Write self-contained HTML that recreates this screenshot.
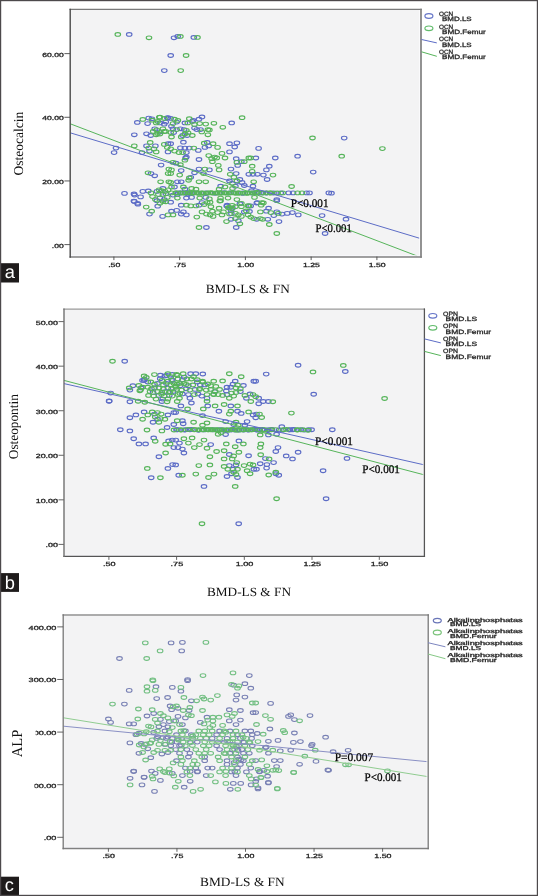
<!DOCTYPE html>
<html><head><meta charset="utf-8"><style>
html,body{margin:0;padding:0;background:#fff;width:538px;height:896px;overflow:hidden;}
svg{display:block;will-change:transform;} text{text-rendering:geometricPrecision;}
</style></head><body>
<svg width="538" height="896" viewBox="0 0 538 896"><g><rect width="538" height="896" fill="#fff"/><rect x="70" y="9.6" width="350.6" height="247.00000000000003" fill="#f3f3f4"/>
<clipPath id="ca"><rect x="70" y="9.6" width="350.6" height="247.00000000000003"/></clipPath>
<g clip-path="url(#ca)">
<ellipse cx="129.2" cy="34.4" rx="2.75" ry="1.85" fill="none" stroke="#5c6cc6" stroke-width="1.15"/>
<ellipse cx="174.0" cy="37.8" rx="2.75" ry="1.85" fill="none" stroke="#5c6cc6" stroke-width="1.15"/>
<ellipse cx="177.7" cy="36.4" rx="2.75" ry="1.85" fill="none" stroke="#5c6cc6" stroke-width="1.15"/>
<ellipse cx="193.8" cy="37.4" rx="2.75" ry="1.85" fill="none" stroke="#5c6cc6" stroke-width="1.15"/>
<ellipse cx="170.7" cy="55.5" rx="2.75" ry="1.85" fill="none" stroke="#5c6cc6" stroke-width="1.15"/>
<ellipse cx="164.3" cy="70.6" rx="2.75" ry="1.85" fill="none" stroke="#5c6cc6" stroke-width="1.15"/>
<ellipse cx="137.3" cy="122.4" rx="2.75" ry="1.85" fill="none" stroke="#5c6cc6" stroke-width="1.15"/>
<ellipse cx="148.7" cy="118.1" rx="2.75" ry="1.85" fill="none" stroke="#5c6cc6" stroke-width="1.15"/>
<ellipse cx="168.0" cy="117.7" rx="2.75" ry="1.85" fill="none" stroke="#5c6cc6" stroke-width="1.15"/>
<ellipse cx="159.9" cy="122.9" rx="2.75" ry="1.85" fill="none" stroke="#5c6cc6" stroke-width="1.15"/>
<ellipse cx="165.8" cy="122.1" rx="2.75" ry="1.85" fill="none" stroke="#5c6cc6" stroke-width="1.15"/>
<ellipse cx="154.7" cy="128.8" rx="2.75" ry="1.85" fill="none" stroke="#5c6cc6" stroke-width="1.15"/>
<ellipse cx="134.3" cy="134.8" rx="2.75" ry="1.85" fill="none" stroke="#5c6cc6" stroke-width="1.15"/>
<ellipse cx="150.7" cy="135.5" rx="2.75" ry="1.85" fill="none" stroke="#5c6cc6" stroke-width="1.15"/>
<ellipse cx="116.0" cy="148.1" rx="2.75" ry="1.85" fill="none" stroke="#5c6cc6" stroke-width="1.15"/>
<ellipse cx="114.1" cy="152.6" rx="2.75" ry="1.85" fill="none" stroke="#5c6cc6" stroke-width="1.15"/>
<ellipse cx="146.5" cy="145.9" rx="2.75" ry="1.85" fill="none" stroke="#5c6cc6" stroke-width="1.15"/>
<ellipse cx="155.4" cy="145.9" rx="2.75" ry="1.85" fill="none" stroke="#5c6cc6" stroke-width="1.15"/>
<ellipse cx="149.5" cy="151.1" rx="2.75" ry="1.85" fill="none" stroke="#5c6cc6" stroke-width="1.15"/>
<ellipse cx="142.0" cy="152.6" rx="2.75" ry="1.85" fill="none" stroke="#5c6cc6" stroke-width="1.15"/>
<ellipse cx="168.0" cy="143.7" rx="2.75" ry="1.85" fill="none" stroke="#5c6cc6" stroke-width="1.15"/>
<ellipse cx="168.0" cy="151.9" rx="2.75" ry="1.85" fill="none" stroke="#5c6cc6" stroke-width="1.15"/>
<ellipse cx="170.7" cy="118.4" rx="2.75" ry="1.85" fill="none" stroke="#5c6cc6" stroke-width="1.15"/>
<ellipse cx="176.7" cy="122.1" rx="2.75" ry="1.85" fill="none" stroke="#5c6cc6" stroke-width="1.15"/>
<ellipse cx="199.0" cy="119.2" rx="2.75" ry="1.85" fill="none" stroke="#5c6cc6" stroke-width="1.15"/>
<ellipse cx="202.0" cy="116.9" rx="2.75" ry="1.85" fill="none" stroke="#5c6cc6" stroke-width="1.15"/>
<ellipse cx="184.9" cy="122.9" rx="2.75" ry="1.85" fill="none" stroke="#5c6cc6" stroke-width="1.15"/>
<ellipse cx="192.3" cy="121.4" rx="2.75" ry="1.85" fill="none" stroke="#5c6cc6" stroke-width="1.15"/>
<ellipse cx="231.7" cy="122.9" rx="2.75" ry="1.85" fill="none" stroke="#5c6cc6" stroke-width="1.15"/>
<ellipse cx="173.0" cy="128.8" rx="2.75" ry="1.85" fill="none" stroke="#5c6cc6" stroke-width="1.15"/>
<ellipse cx="180.4" cy="128.8" rx="2.75" ry="1.85" fill="none" stroke="#5c6cc6" stroke-width="1.15"/>
<ellipse cx="184.1" cy="129.6" rx="2.75" ry="1.85" fill="none" stroke="#5c6cc6" stroke-width="1.15"/>
<ellipse cx="194.5" cy="128.1" rx="2.75" ry="1.85" fill="none" stroke="#5c6cc6" stroke-width="1.15"/>
<ellipse cx="196.8" cy="129.6" rx="2.75" ry="1.85" fill="none" stroke="#5c6cc6" stroke-width="1.15"/>
<ellipse cx="200.5" cy="129.6" rx="2.75" ry="1.85" fill="none" stroke="#5c6cc6" stroke-width="1.15"/>
<ellipse cx="173.7" cy="132.5" rx="2.75" ry="1.85" fill="none" stroke="#5c6cc6" stroke-width="1.15"/>
<ellipse cx="182.6" cy="135.5" rx="2.75" ry="1.85" fill="none" stroke="#5c6cc6" stroke-width="1.15"/>
<ellipse cx="187.1" cy="135.5" rx="2.75" ry="1.85" fill="none" stroke="#5c6cc6" stroke-width="1.15"/>
<ellipse cx="183.4" cy="142.2" rx="2.75" ry="1.85" fill="none" stroke="#5c6cc6" stroke-width="1.15"/>
<ellipse cx="170.7" cy="143.7" rx="2.75" ry="1.85" fill="none" stroke="#5c6cc6" stroke-width="1.15"/>
<ellipse cx="207.2" cy="142.5" rx="2.75" ry="1.85" fill="none" stroke="#5c6cc6" stroke-width="1.15"/>
<ellipse cx="204.9" cy="147.4" rx="2.75" ry="1.85" fill="none" stroke="#5c6cc6" stroke-width="1.15"/>
<ellipse cx="208.7" cy="145.9" rx="2.75" ry="1.85" fill="none" stroke="#5c6cc6" stroke-width="1.15"/>
<ellipse cx="229.5" cy="143.7" rx="2.75" ry="1.85" fill="none" stroke="#5c6cc6" stroke-width="1.15"/>
<ellipse cx="236.9" cy="142.9" rx="2.75" ry="1.85" fill="none" stroke="#5c6cc6" stroke-width="1.15"/>
<ellipse cx="234.7" cy="147.0" rx="2.75" ry="1.85" fill="none" stroke="#5c6cc6" stroke-width="1.15"/>
<ellipse cx="229.5" cy="151.9" rx="2.75" ry="1.85" fill="none" stroke="#5c6cc6" stroke-width="1.15"/>
<ellipse cx="180.4" cy="147.9" rx="2.75" ry="1.85" fill="none" stroke="#5c6cc6" stroke-width="1.15"/>
<ellipse cx="184.9" cy="148.1" rx="2.75" ry="1.85" fill="none" stroke="#5c6cc6" stroke-width="1.15"/>
<ellipse cx="189.3" cy="148.1" rx="2.75" ry="1.85" fill="none" stroke="#5c6cc6" stroke-width="1.15"/>
<ellipse cx="198.3" cy="150.4" rx="2.75" ry="1.85" fill="none" stroke="#5c6cc6" stroke-width="1.15"/>
<ellipse cx="186.4" cy="152.6" rx="2.75" ry="1.85" fill="none" stroke="#5c6cc6" stroke-width="1.15"/>
<ellipse cx="186.4" cy="157.1" rx="2.75" ry="1.85" fill="none" stroke="#5c6cc6" stroke-width="1.15"/>
<ellipse cx="258.6" cy="148.4" rx="2.75" ry="1.85" fill="none" stroke="#5c6cc6" stroke-width="1.15"/>
<ellipse cx="344.2" cy="138.1" rx="2.75" ry="1.85" fill="none" stroke="#5c6cc6" stroke-width="1.15"/>
<ellipse cx="161.1" cy="165.1" rx="2.75" ry="1.85" fill="none" stroke="#5c6cc6" stroke-width="1.15"/>
<ellipse cx="151.0" cy="173.6" rx="2.75" ry="1.85" fill="none" stroke="#5c6cc6" stroke-width="1.15"/>
<ellipse cx="154.7" cy="175.8" rx="2.75" ry="1.85" fill="none" stroke="#5c6cc6" stroke-width="1.15"/>
<ellipse cx="124.5" cy="193.4" rx="2.75" ry="1.85" fill="none" stroke="#5c6cc6" stroke-width="1.15"/>
<ellipse cx="134.0" cy="194.0" rx="2.75" ry="1.85" fill="none" stroke="#5c6cc6" stroke-width="1.15"/>
<ellipse cx="134.6" cy="195.1" rx="2.75" ry="1.85" fill="none" stroke="#5c6cc6" stroke-width="1.15"/>
<ellipse cx="140.6" cy="196.9" rx="2.75" ry="1.85" fill="none" stroke="#5c6cc6" stroke-width="1.15"/>
<ellipse cx="142.8" cy="191.4" rx="2.75" ry="1.85" fill="none" stroke="#5c6cc6" stroke-width="1.15"/>
<ellipse cx="148.3" cy="191.0" rx="2.75" ry="1.85" fill="none" stroke="#5c6cc6" stroke-width="1.15"/>
<ellipse cx="156.9" cy="191.4" rx="2.75" ry="1.85" fill="none" stroke="#5c6cc6" stroke-width="1.15"/>
<ellipse cx="162.9" cy="188.5" rx="2.75" ry="1.85" fill="none" stroke="#5c6cc6" stroke-width="1.15"/>
<ellipse cx="165.8" cy="193.7" rx="2.75" ry="1.85" fill="none" stroke="#5c6cc6" stroke-width="1.15"/>
<ellipse cx="159.9" cy="198.1" rx="2.75" ry="1.85" fill="none" stroke="#5c6cc6" stroke-width="1.15"/>
<ellipse cx="164.3" cy="199.6" rx="2.75" ry="1.85" fill="none" stroke="#5c6cc6" stroke-width="1.15"/>
<ellipse cx="133.9" cy="201.1" rx="2.75" ry="1.85" fill="none" stroke="#5c6cc6" stroke-width="1.15"/>
<ellipse cx="137.6" cy="203.3" rx="2.75" ry="1.85" fill="none" stroke="#5c6cc6" stroke-width="1.15"/>
<ellipse cx="185.6" cy="158.0" rx="2.75" ry="1.85" fill="none" stroke="#5c6cc6" stroke-width="1.15"/>
<ellipse cx="199.0" cy="159.5" rx="2.75" ry="1.85" fill="none" stroke="#5c6cc6" stroke-width="1.15"/>
<ellipse cx="236.2" cy="158.7" rx="2.75" ry="1.85" fill="none" stroke="#5c6cc6" stroke-width="1.15"/>
<ellipse cx="237.7" cy="165.4" rx="2.75" ry="1.85" fill="none" stroke="#5c6cc6" stroke-width="1.15"/>
<ellipse cx="241.4" cy="161.7" rx="2.75" ry="1.85" fill="none" stroke="#5c6cc6" stroke-width="1.15"/>
<ellipse cx="175.9" cy="163.2" rx="2.75" ry="1.85" fill="none" stroke="#5c6cc6" stroke-width="1.15"/>
<ellipse cx="181.2" cy="170.6" rx="2.75" ry="1.85" fill="none" stroke="#5c6cc6" stroke-width="1.15"/>
<ellipse cx="194.5" cy="172.8" rx="2.75" ry="1.85" fill="none" stroke="#5c6cc6" stroke-width="1.15"/>
<ellipse cx="199.0" cy="169.1" rx="2.75" ry="1.85" fill="none" stroke="#5c6cc6" stroke-width="1.15"/>
<ellipse cx="209.4" cy="169.9" rx="2.75" ry="1.85" fill="none" stroke="#5c6cc6" stroke-width="1.15"/>
<ellipse cx="231.0" cy="169.1" rx="2.75" ry="1.85" fill="none" stroke="#5c6cc6" stroke-width="1.15"/>
<ellipse cx="236.2" cy="173.6" rx="2.75" ry="1.85" fill="none" stroke="#5c6cc6" stroke-width="1.15"/>
<ellipse cx="248.8" cy="174.3" rx="2.75" ry="1.85" fill="none" stroke="#5c6cc6" stroke-width="1.15"/>
<ellipse cx="190.8" cy="177.3" rx="2.75" ry="1.85" fill="none" stroke="#5c6cc6" stroke-width="1.15"/>
<ellipse cx="177.4" cy="181.8" rx="2.75" ry="1.85" fill="none" stroke="#5c6cc6" stroke-width="1.15"/>
<ellipse cx="181.2" cy="181.8" rx="2.75" ry="1.85" fill="none" stroke="#5c6cc6" stroke-width="1.15"/>
<ellipse cx="229.5" cy="181.0" rx="2.75" ry="1.85" fill="none" stroke="#5c6cc6" stroke-width="1.15"/>
<ellipse cx="239.9" cy="179.5" rx="2.75" ry="1.85" fill="none" stroke="#5c6cc6" stroke-width="1.15"/>
<ellipse cx="242.1" cy="182.5" rx="2.75" ry="1.85" fill="none" stroke="#5c6cc6" stroke-width="1.15"/>
<ellipse cx="235.4" cy="186.2" rx="2.75" ry="1.85" fill="none" stroke="#5c6cc6" stroke-width="1.15"/>
<ellipse cx="244.3" cy="185.5" rx="2.75" ry="1.85" fill="none" stroke="#5c6cc6" stroke-width="1.15"/>
<ellipse cx="174.5" cy="187.0" rx="2.75" ry="1.85" fill="none" stroke="#5c6cc6" stroke-width="1.15"/>
<ellipse cx="184.9" cy="189.2" rx="2.75" ry="1.85" fill="none" stroke="#5c6cc6" stroke-width="1.15"/>
<ellipse cx="220.6" cy="186.2" rx="2.75" ry="1.85" fill="none" stroke="#5c6cc6" stroke-width="1.15"/>
<ellipse cx="180.4" cy="192.9" rx="2.75" ry="1.85" fill="none" stroke="#5c6cc6" stroke-width="1.15"/>
<ellipse cx="229.5" cy="192.9" rx="2.75" ry="1.85" fill="none" stroke="#5c6cc6" stroke-width="1.15"/>
<ellipse cx="242.9" cy="192.9" rx="2.75" ry="1.85" fill="none" stroke="#5c6cc6" stroke-width="1.15"/>
<ellipse cx="173.0" cy="195.1" rx="2.75" ry="1.85" fill="none" stroke="#5c6cc6" stroke-width="1.15"/>
<ellipse cx="177.4" cy="194.4" rx="2.75" ry="1.85" fill="none" stroke="#5c6cc6" stroke-width="1.15"/>
<ellipse cx="187.8" cy="194.0" rx="2.75" ry="1.85" fill="none" stroke="#5c6cc6" stroke-width="1.15"/>
<ellipse cx="191.6" cy="192.9" rx="2.75" ry="1.85" fill="none" stroke="#5c6cc6" stroke-width="1.15"/>
<ellipse cx="186.4" cy="198.1" rx="2.75" ry="1.85" fill="none" stroke="#5c6cc6" stroke-width="1.15"/>
<ellipse cx="191.6" cy="197.4" rx="2.75" ry="1.85" fill="none" stroke="#5c6cc6" stroke-width="1.15"/>
<ellipse cx="205.7" cy="197.4" rx="2.75" ry="1.85" fill="none" stroke="#5c6cc6" stroke-width="1.15"/>
<ellipse cx="202.0" cy="202.6" rx="2.75" ry="1.85" fill="none" stroke="#5c6cc6" stroke-width="1.15"/>
<ellipse cx="255.9" cy="158.0" rx="2.75" ry="1.85" fill="none" stroke="#5c6cc6" stroke-width="1.15"/>
<ellipse cx="275.3" cy="158.0" rx="2.75" ry="1.85" fill="none" stroke="#5c6cc6" stroke-width="1.15"/>
<ellipse cx="297.6" cy="156.2" rx="2.75" ry="1.85" fill="none" stroke="#5c6cc6" stroke-width="1.15"/>
<ellipse cx="269.3" cy="166.2" rx="2.75" ry="1.85" fill="none" stroke="#5c6cc6" stroke-width="1.15"/>
<ellipse cx="266.4" cy="169.9" rx="2.75" ry="1.85" fill="none" stroke="#5c6cc6" stroke-width="1.15"/>
<ellipse cx="253.0" cy="174.3" rx="2.75" ry="1.85" fill="none" stroke="#5c6cc6" stroke-width="1.15"/>
<ellipse cx="257.4" cy="174.3" rx="2.75" ry="1.85" fill="none" stroke="#5c6cc6" stroke-width="1.15"/>
<ellipse cx="263.4" cy="175.1" rx="2.75" ry="1.85" fill="none" stroke="#5c6cc6" stroke-width="1.15"/>
<ellipse cx="267.1" cy="179.5" rx="2.75" ry="1.85" fill="none" stroke="#5c6cc6" stroke-width="1.15"/>
<ellipse cx="313.2" cy="172.1" rx="2.75" ry="1.85" fill="none" stroke="#5c6cc6" stroke-width="1.15"/>
<ellipse cx="253.0" cy="186.2" rx="2.75" ry="1.85" fill="none" stroke="#5c6cc6" stroke-width="1.15"/>
<ellipse cx="251.5" cy="190.7" rx="2.75" ry="1.85" fill="none" stroke="#5c6cc6" stroke-width="1.15"/>
<ellipse cx="261.9" cy="192.9" rx="2.75" ry="1.85" fill="none" stroke="#5c6cc6" stroke-width="1.15"/>
<ellipse cx="288.7" cy="192.9" rx="2.75" ry="1.85" fill="none" stroke="#5c6cc6" stroke-width="1.15"/>
<ellipse cx="293.1" cy="192.9" rx="2.75" ry="1.85" fill="none" stroke="#5c6cc6" stroke-width="1.15"/>
<ellipse cx="306.5" cy="192.9" rx="2.75" ry="1.85" fill="none" stroke="#5c6cc6" stroke-width="1.15"/>
<ellipse cx="309.5" cy="192.9" rx="2.75" ry="1.85" fill="none" stroke="#5c6cc6" stroke-width="1.15"/>
<ellipse cx="328.8" cy="192.9" rx="2.75" ry="1.85" fill="none" stroke="#5c6cc6" stroke-width="1.15"/>
<ellipse cx="257.4" cy="202.6" rx="2.75" ry="1.85" fill="none" stroke="#5c6cc6" stroke-width="1.15"/>
<ellipse cx="276.8" cy="199.6" rx="2.75" ry="1.85" fill="none" stroke="#5c6cc6" stroke-width="1.15"/>
<ellipse cx="134.3" cy="201.5" rx="2.75" ry="1.85" fill="none" stroke="#5c6cc6" stroke-width="1.15"/>
<ellipse cx="137.9" cy="204.2" rx="2.75" ry="1.85" fill="none" stroke="#5c6cc6" stroke-width="1.15"/>
<ellipse cx="157.7" cy="206.2" rx="2.75" ry="1.85" fill="none" stroke="#5c6cc6" stroke-width="1.15"/>
<ellipse cx="149.5" cy="214.1" rx="2.75" ry="1.85" fill="none" stroke="#5c6cc6" stroke-width="1.15"/>
<ellipse cx="162.6" cy="216.4" rx="2.75" ry="1.85" fill="none" stroke="#5c6cc6" stroke-width="1.15"/>
<ellipse cx="156.9" cy="200.7" rx="2.75" ry="1.85" fill="none" stroke="#5c6cc6" stroke-width="1.15"/>
<ellipse cx="170.7" cy="202.2" rx="2.75" ry="1.85" fill="none" stroke="#5c6cc6" stroke-width="1.15"/>
<ellipse cx="181.2" cy="205.2" rx="2.75" ry="1.85" fill="none" stroke="#5c6cc6" stroke-width="1.15"/>
<ellipse cx="199.0" cy="205.2" rx="2.75" ry="1.85" fill="none" stroke="#5c6cc6" stroke-width="1.15"/>
<ellipse cx="171.5" cy="211.2" rx="2.75" ry="1.85" fill="none" stroke="#5c6cc6" stroke-width="1.15"/>
<ellipse cx="176.7" cy="210.4" rx="2.75" ry="1.85" fill="none" stroke="#5c6cc6" stroke-width="1.15"/>
<ellipse cx="181.2" cy="214.1" rx="2.75" ry="1.85" fill="none" stroke="#5c6cc6" stroke-width="1.15"/>
<ellipse cx="183.4" cy="211.9" rx="2.75" ry="1.85" fill="none" stroke="#5c6cc6" stroke-width="1.15"/>
<ellipse cx="186.4" cy="214.9" rx="2.75" ry="1.85" fill="none" stroke="#5c6cc6" stroke-width="1.15"/>
<ellipse cx="227.2" cy="205.2" rx="2.75" ry="1.85" fill="none" stroke="#5c6cc6" stroke-width="1.15"/>
<ellipse cx="232.5" cy="208.2" rx="2.75" ry="1.85" fill="none" stroke="#5c6cc6" stroke-width="1.15"/>
<ellipse cx="239.9" cy="203.7" rx="2.75" ry="1.85" fill="none" stroke="#5c6cc6" stroke-width="1.15"/>
<ellipse cx="248.8" cy="205.9" rx="2.75" ry="1.85" fill="none" stroke="#5c6cc6" stroke-width="1.15"/>
<ellipse cx="231.0" cy="210.4" rx="2.75" ry="1.85" fill="none" stroke="#5c6cc6" stroke-width="1.15"/>
<ellipse cx="244.3" cy="211.9" rx="2.75" ry="1.85" fill="none" stroke="#5c6cc6" stroke-width="1.15"/>
<ellipse cx="231.0" cy="219.3" rx="2.75" ry="1.85" fill="none" stroke="#5c6cc6" stroke-width="1.15"/>
<ellipse cx="238.4" cy="220.8" rx="2.75" ry="1.85" fill="none" stroke="#5c6cc6" stroke-width="1.15"/>
<ellipse cx="236.2" cy="227.5" rx="2.75" ry="1.85" fill="none" stroke="#5c6cc6" stroke-width="1.15"/>
<ellipse cx="206.4" cy="227.5" rx="2.75" ry="1.85" fill="none" stroke="#5c6cc6" stroke-width="1.15"/>
<ellipse cx="250.7" cy="205.9" rx="2.75" ry="1.85" fill="none" stroke="#5c6cc6" stroke-width="1.15"/>
<ellipse cx="256.7" cy="203.0" rx="2.75" ry="1.85" fill="none" stroke="#5c6cc6" stroke-width="1.15"/>
<ellipse cx="266.4" cy="211.2" rx="2.75" ry="1.85" fill="none" stroke="#5c6cc6" stroke-width="1.15"/>
<ellipse cx="268.6" cy="208.2" rx="2.75" ry="1.85" fill="none" stroke="#5c6cc6" stroke-width="1.15"/>
<ellipse cx="273.8" cy="215.6" rx="2.75" ry="1.85" fill="none" stroke="#5c6cc6" stroke-width="1.15"/>
<ellipse cx="276.8" cy="211.9" rx="2.75" ry="1.85" fill="none" stroke="#5c6cc6" stroke-width="1.15"/>
<ellipse cx="282.0" cy="214.1" rx="2.75" ry="1.85" fill="none" stroke="#5c6cc6" stroke-width="1.15"/>
<ellipse cx="287.2" cy="213.4" rx="2.75" ry="1.85" fill="none" stroke="#5c6cc6" stroke-width="1.15"/>
<ellipse cx="292.4" cy="212.6" rx="2.75" ry="1.85" fill="none" stroke="#5c6cc6" stroke-width="1.15"/>
<ellipse cx="298.3" cy="214.9" rx="2.75" ry="1.85" fill="none" stroke="#5c6cc6" stroke-width="1.15"/>
<ellipse cx="276.8" cy="200.7" rx="2.75" ry="1.85" fill="none" stroke="#5c6cc6" stroke-width="1.15"/>
<ellipse cx="256.7" cy="219.3" rx="2.75" ry="1.85" fill="none" stroke="#5c6cc6" stroke-width="1.15"/>
<ellipse cx="267.8" cy="219.3" rx="2.75" ry="1.85" fill="none" stroke="#5c6cc6" stroke-width="1.15"/>
<ellipse cx="279.0" cy="221.6" rx="2.75" ry="1.85" fill="none" stroke="#5c6cc6" stroke-width="1.15"/>
<ellipse cx="322.1" cy="215.6" rx="2.75" ry="1.85" fill="none" stroke="#5c6cc6" stroke-width="1.15"/>
<ellipse cx="325.1" cy="233.5" rx="2.75" ry="1.85" fill="none" stroke="#5c6cc6" stroke-width="1.15"/>
<ellipse cx="331.5" cy="193.2" rx="2.75" ry="1.85" fill="none" stroke="#5c6cc6" stroke-width="1.15"/>
<ellipse cx="346.0" cy="219.2" rx="2.75" ry="1.85" fill="none" stroke="#5c6cc6" stroke-width="1.15"/>
<ellipse cx="178.3" cy="193.0" rx="2.75" ry="1.85" fill="none" stroke="#5c6cc6" stroke-width="1.15"/>
<ellipse cx="187.5" cy="192.7" rx="2.75" ry="1.85" fill="none" stroke="#5c6cc6" stroke-width="1.15"/>
<ellipse cx="196.7" cy="192.8" rx="2.75" ry="1.85" fill="none" stroke="#5c6cc6" stroke-width="1.15"/>
<ellipse cx="205.9" cy="193.0" rx="2.75" ry="1.85" fill="none" stroke="#5c6cc6" stroke-width="1.15"/>
<ellipse cx="215.1" cy="193.3" rx="2.75" ry="1.85" fill="none" stroke="#5c6cc6" stroke-width="1.15"/>
<ellipse cx="224.3" cy="192.7" rx="2.75" ry="1.85" fill="none" stroke="#5c6cc6" stroke-width="1.15"/>
<ellipse cx="233.5" cy="192.6" rx="2.75" ry="1.85" fill="none" stroke="#5c6cc6" stroke-width="1.15"/>
<ellipse cx="242.7" cy="193.3" rx="2.75" ry="1.85" fill="none" stroke="#5c6cc6" stroke-width="1.15"/>
<ellipse cx="252.0" cy="193.0" rx="2.75" ry="1.85" fill="none" stroke="#5c6cc6" stroke-width="1.15"/>
<ellipse cx="259.2" cy="193.0" rx="2.75" ry="1.85" fill="none" stroke="#5c6cc6" stroke-width="1.15"/>
<ellipse cx="266.4" cy="193.0" rx="2.75" ry="1.85" fill="none" stroke="#5c6cc6" stroke-width="1.15"/>
<ellipse cx="273.6" cy="193.0" rx="2.75" ry="1.85" fill="none" stroke="#5c6cc6" stroke-width="1.15"/>
<ellipse cx="280.8" cy="193.0" rx="2.75" ry="1.85" fill="none" stroke="#5c6cc6" stroke-width="1.15"/>
<ellipse cx="147.6" cy="123.6" rx="2.75" ry="1.85" fill="none" stroke="#5c6cc6" stroke-width="1.15"/>
<ellipse cx="159.8" cy="131.9" rx="2.75" ry="1.85" fill="none" stroke="#5c6cc6" stroke-width="1.15"/>
<ellipse cx="146.5" cy="133.8" rx="2.75" ry="1.85" fill="none" stroke="#5c6cc6" stroke-width="1.15"/>
<ellipse cx="164.2" cy="124.2" rx="2.75" ry="1.85" fill="none" stroke="#5c6cc6" stroke-width="1.15"/>
<ellipse cx="171.4" cy="126.3" rx="2.75" ry="1.85" fill="none" stroke="#5c6cc6" stroke-width="1.15"/>
<ellipse cx="151.9" cy="118.8" rx="2.75" ry="1.85" fill="none" stroke="#5c6cc6" stroke-width="1.15"/>
<ellipse cx="193.2" cy="120.5" rx="2.75" ry="1.85" fill="none" stroke="#5c6cc6" stroke-width="1.15"/>
<ellipse cx="167.4" cy="117.9" rx="2.75" ry="1.85" fill="none" stroke="#5c6cc6" stroke-width="1.15"/>
<ellipse cx="231.4" cy="213.7" rx="2.75" ry="1.85" fill="none" stroke="#5c6cc6" stroke-width="1.15"/>
<ellipse cx="226.7" cy="206.0" rx="2.75" ry="1.85" fill="none" stroke="#5c6cc6" stroke-width="1.15"/>
<ellipse cx="249.5" cy="211.5" rx="2.75" ry="1.85" fill="none" stroke="#5c6cc6" stroke-width="1.15"/>
<ellipse cx="117.8" cy="34.4" rx="2.75" ry="1.85" fill="none" stroke="#56b45a" stroke-width="1.15"/>
<ellipse cx="149.0" cy="37.8" rx="2.75" ry="1.85" fill="none" stroke="#56b45a" stroke-width="1.15"/>
<ellipse cx="180.4" cy="36.4" rx="2.75" ry="1.85" fill="none" stroke="#56b45a" stroke-width="1.15"/>
<ellipse cx="197.5" cy="37.4" rx="2.75" ry="1.85" fill="none" stroke="#56b45a" stroke-width="1.15"/>
<ellipse cx="186.1" cy="55.5" rx="2.75" ry="1.85" fill="none" stroke="#56b45a" stroke-width="1.15"/>
<ellipse cx="180.7" cy="70.6" rx="2.75" ry="1.85" fill="none" stroke="#56b45a" stroke-width="1.15"/>
<ellipse cx="142.8" cy="119.4" rx="2.75" ry="1.85" fill="none" stroke="#56b45a" stroke-width="1.15"/>
<ellipse cx="152.2" cy="120.2" rx="2.75" ry="1.85" fill="none" stroke="#56b45a" stroke-width="1.15"/>
<ellipse cx="159.9" cy="117.2" rx="2.75" ry="1.85" fill="none" stroke="#56b45a" stroke-width="1.15"/>
<ellipse cx="164.3" cy="118.4" rx="2.75" ry="1.85" fill="none" stroke="#56b45a" stroke-width="1.15"/>
<ellipse cx="156.2" cy="122.9" rx="2.75" ry="1.85" fill="none" stroke="#56b45a" stroke-width="1.15"/>
<ellipse cx="157.7" cy="121.4" rx="2.75" ry="1.85" fill="none" stroke="#56b45a" stroke-width="1.15"/>
<ellipse cx="162.9" cy="128.8" rx="2.75" ry="1.85" fill="none" stroke="#56b45a" stroke-width="1.15"/>
<ellipse cx="153.2" cy="131.5" rx="2.75" ry="1.85" fill="none" stroke="#56b45a" stroke-width="1.15"/>
<ellipse cx="164.3" cy="131.5" rx="2.75" ry="1.85" fill="none" stroke="#56b45a" stroke-width="1.15"/>
<ellipse cx="156.2" cy="134.8" rx="2.75" ry="1.85" fill="none" stroke="#56b45a" stroke-width="1.15"/>
<ellipse cx="159.9" cy="134.0" rx="2.75" ry="1.85" fill="none" stroke="#56b45a" stroke-width="1.15"/>
<ellipse cx="134.3" cy="145.9" rx="2.75" ry="1.85" fill="none" stroke="#56b45a" stroke-width="1.15"/>
<ellipse cx="150.2" cy="142.5" rx="2.75" ry="1.85" fill="none" stroke="#56b45a" stroke-width="1.15"/>
<ellipse cx="148.7" cy="148.1" rx="2.75" ry="1.85" fill="none" stroke="#56b45a" stroke-width="1.15"/>
<ellipse cx="154.0" cy="148.9" rx="2.75" ry="1.85" fill="none" stroke="#56b45a" stroke-width="1.15"/>
<ellipse cx="156.2" cy="151.9" rx="2.75" ry="1.85" fill="none" stroke="#56b45a" stroke-width="1.15"/>
<ellipse cx="164.3" cy="144.4" rx="2.75" ry="1.85" fill="none" stroke="#56b45a" stroke-width="1.15"/>
<ellipse cx="167.3" cy="147.4" rx="2.75" ry="1.85" fill="none" stroke="#56b45a" stroke-width="1.15"/>
<ellipse cx="174.5" cy="119.2" rx="2.75" ry="1.85" fill="none" stroke="#56b45a" stroke-width="1.15"/>
<ellipse cx="173.0" cy="123.6" rx="2.75" ry="1.85" fill="none" stroke="#56b45a" stroke-width="1.15"/>
<ellipse cx="189.3" cy="118.7" rx="2.75" ry="1.85" fill="none" stroke="#56b45a" stroke-width="1.15"/>
<ellipse cx="187.8" cy="122.9" rx="2.75" ry="1.85" fill="none" stroke="#56b45a" stroke-width="1.15"/>
<ellipse cx="194.5" cy="124.4" rx="2.75" ry="1.85" fill="none" stroke="#56b45a" stroke-width="1.15"/>
<ellipse cx="199.7" cy="123.6" rx="2.75" ry="1.85" fill="none" stroke="#56b45a" stroke-width="1.15"/>
<ellipse cx="205.7" cy="124.1" rx="2.75" ry="1.85" fill="none" stroke="#56b45a" stroke-width="1.15"/>
<ellipse cx="213.9" cy="123.3" rx="2.75" ry="1.85" fill="none" stroke="#56b45a" stroke-width="1.15"/>
<ellipse cx="242.1" cy="117.7" rx="2.75" ry="1.85" fill="none" stroke="#56b45a" stroke-width="1.15"/>
<ellipse cx="222.8" cy="127.3" rx="2.75" ry="1.85" fill="none" stroke="#56b45a" stroke-width="1.15"/>
<ellipse cx="176.7" cy="129.6" rx="2.75" ry="1.85" fill="none" stroke="#56b45a" stroke-width="1.15"/>
<ellipse cx="186.4" cy="130.3" rx="2.75" ry="1.85" fill="none" stroke="#56b45a" stroke-width="1.15"/>
<ellipse cx="207.9" cy="129.6" rx="2.75" ry="1.85" fill="none" stroke="#56b45a" stroke-width="1.15"/>
<ellipse cx="209.4" cy="130.0" rx="2.75" ry="1.85" fill="none" stroke="#56b45a" stroke-width="1.15"/>
<ellipse cx="170.7" cy="132.5" rx="2.75" ry="1.85" fill="none" stroke="#56b45a" stroke-width="1.15"/>
<ellipse cx="184.9" cy="134.0" rx="2.75" ry="1.85" fill="none" stroke="#56b45a" stroke-width="1.15"/>
<ellipse cx="192.3" cy="135.5" rx="2.75" ry="1.85" fill="none" stroke="#56b45a" stroke-width="1.15"/>
<ellipse cx="207.9" cy="134.8" rx="2.75" ry="1.85" fill="none" stroke="#56b45a" stroke-width="1.15"/>
<ellipse cx="171.5" cy="137.0" rx="2.75" ry="1.85" fill="none" stroke="#56b45a" stroke-width="1.15"/>
<ellipse cx="181.2" cy="137.0" rx="2.75" ry="1.85" fill="none" stroke="#56b45a" stroke-width="1.15"/>
<ellipse cx="204.2" cy="143.2" rx="2.75" ry="1.85" fill="none" stroke="#56b45a" stroke-width="1.15"/>
<ellipse cx="213.1" cy="143.7" rx="2.75" ry="1.85" fill="none" stroke="#56b45a" stroke-width="1.15"/>
<ellipse cx="217.6" cy="147.4" rx="2.75" ry="1.85" fill="none" stroke="#56b45a" stroke-width="1.15"/>
<ellipse cx="222.0" cy="153.4" rx="2.75" ry="1.85" fill="none" stroke="#56b45a" stroke-width="1.15"/>
<ellipse cx="170.7" cy="148.9" rx="2.75" ry="1.85" fill="none" stroke="#56b45a" stroke-width="1.15"/>
<ellipse cx="174.5" cy="151.1" rx="2.75" ry="1.85" fill="none" stroke="#56b45a" stroke-width="1.15"/>
<ellipse cx="193.8" cy="148.1" rx="2.75" ry="1.85" fill="none" stroke="#56b45a" stroke-width="1.15"/>
<ellipse cx="178.9" cy="152.6" rx="2.75" ry="1.85" fill="none" stroke="#56b45a" stroke-width="1.15"/>
<ellipse cx="182.6" cy="152.6" rx="2.75" ry="1.85" fill="none" stroke="#56b45a" stroke-width="1.15"/>
<ellipse cx="208.7" cy="155.6" rx="2.75" ry="1.85" fill="none" stroke="#56b45a" stroke-width="1.15"/>
<ellipse cx="214.6" cy="157.1" rx="2.75" ry="1.85" fill="none" stroke="#56b45a" stroke-width="1.15"/>
<ellipse cx="312.5" cy="138.0" rx="2.75" ry="1.85" fill="none" stroke="#56b45a" stroke-width="1.15"/>
<ellipse cx="382.4" cy="148.6" rx="2.75" ry="1.85" fill="none" stroke="#56b45a" stroke-width="1.15"/>
<ellipse cx="341.7" cy="156.2" rx="2.75" ry="1.85" fill="none" stroke="#56b45a" stroke-width="1.15"/>
<ellipse cx="148.0" cy="172.8" rx="2.75" ry="1.85" fill="none" stroke="#56b45a" stroke-width="1.15"/>
<ellipse cx="168.8" cy="169.1" rx="2.75" ry="1.85" fill="none" stroke="#56b45a" stroke-width="1.15"/>
<ellipse cx="168.1" cy="173.6" rx="2.75" ry="1.85" fill="none" stroke="#56b45a" stroke-width="1.15"/>
<ellipse cx="160.6" cy="181.8" rx="2.75" ry="1.85" fill="none" stroke="#56b45a" stroke-width="1.15"/>
<ellipse cx="168.8" cy="181.8" rx="2.75" ry="1.85" fill="none" stroke="#56b45a" stroke-width="1.15"/>
<ellipse cx="151.0" cy="192.9" rx="2.75" ry="1.85" fill="none" stroke="#56b45a" stroke-width="1.15"/>
<ellipse cx="152.5" cy="196.6" rx="2.75" ry="1.85" fill="none" stroke="#56b45a" stroke-width="1.15"/>
<ellipse cx="159.1" cy="189.9" rx="2.75" ry="1.85" fill="none" stroke="#56b45a" stroke-width="1.15"/>
<ellipse cx="161.4" cy="190.7" rx="2.75" ry="1.85" fill="none" stroke="#56b45a" stroke-width="1.15"/>
<ellipse cx="165.1" cy="191.4" rx="2.75" ry="1.85" fill="none" stroke="#56b45a" stroke-width="1.15"/>
<ellipse cx="168.1" cy="189.9" rx="2.75" ry="1.85" fill="none" stroke="#56b45a" stroke-width="1.15"/>
<ellipse cx="158.4" cy="194.4" rx="2.75" ry="1.85" fill="none" stroke="#56b45a" stroke-width="1.15"/>
<ellipse cx="162.9" cy="194.4" rx="2.75" ry="1.85" fill="none" stroke="#56b45a" stroke-width="1.15"/>
<ellipse cx="155.4" cy="199.6" rx="2.75" ry="1.85" fill="none" stroke="#56b45a" stroke-width="1.15"/>
<ellipse cx="167.3" cy="197.4" rx="2.75" ry="1.85" fill="none" stroke="#56b45a" stroke-width="1.15"/>
<ellipse cx="159.9" cy="203.3" rx="2.75" ry="1.85" fill="none" stroke="#56b45a" stroke-width="1.15"/>
<ellipse cx="165.8" cy="201.8" rx="2.75" ry="1.85" fill="none" stroke="#56b45a" stroke-width="1.15"/>
<ellipse cx="184.9" cy="160.2" rx="2.75" ry="1.85" fill="none" stroke="#56b45a" stroke-width="1.15"/>
<ellipse cx="211.6" cy="158.7" rx="2.75" ry="1.85" fill="none" stroke="#56b45a" stroke-width="1.15"/>
<ellipse cx="216.8" cy="158.0" rx="2.75" ry="1.85" fill="none" stroke="#56b45a" stroke-width="1.15"/>
<ellipse cx="212.4" cy="161.7" rx="2.75" ry="1.85" fill="none" stroke="#56b45a" stroke-width="1.15"/>
<ellipse cx="225.0" cy="158.0" rx="2.75" ry="1.85" fill="none" stroke="#56b45a" stroke-width="1.15"/>
<ellipse cx="236.9" cy="162.4" rx="2.75" ry="1.85" fill="none" stroke="#56b45a" stroke-width="1.15"/>
<ellipse cx="244.3" cy="161.7" rx="2.75" ry="1.85" fill="none" stroke="#56b45a" stroke-width="1.15"/>
<ellipse cx="248.8" cy="158.0" rx="2.75" ry="1.85" fill="none" stroke="#56b45a" stroke-width="1.15"/>
<ellipse cx="173.0" cy="162.4" rx="2.75" ry="1.85" fill="none" stroke="#56b45a" stroke-width="1.15"/>
<ellipse cx="180.4" cy="164.7" rx="2.75" ry="1.85" fill="none" stroke="#56b45a" stroke-width="1.15"/>
<ellipse cx="171.5" cy="169.9" rx="2.75" ry="1.85" fill="none" stroke="#56b45a" stroke-width="1.15"/>
<ellipse cx="170.7" cy="173.6" rx="2.75" ry="1.85" fill="none" stroke="#56b45a" stroke-width="1.15"/>
<ellipse cx="179.7" cy="175.1" rx="2.75" ry="1.85" fill="none" stroke="#56b45a" stroke-width="1.15"/>
<ellipse cx="204.9" cy="169.1" rx="2.75" ry="1.85" fill="none" stroke="#56b45a" stroke-width="1.15"/>
<ellipse cx="203.5" cy="173.6" rx="2.75" ry="1.85" fill="none" stroke="#56b45a" stroke-width="1.15"/>
<ellipse cx="218.3" cy="165.4" rx="2.75" ry="1.85" fill="none" stroke="#56b45a" stroke-width="1.15"/>
<ellipse cx="219.1" cy="169.9" rx="2.75" ry="1.85" fill="none" stroke="#56b45a" stroke-width="1.15"/>
<ellipse cx="230.2" cy="174.3" rx="2.75" ry="1.85" fill="none" stroke="#56b45a" stroke-width="1.15"/>
<ellipse cx="233.9" cy="177.3" rx="2.75" ry="1.85" fill="none" stroke="#56b45a" stroke-width="1.15"/>
<ellipse cx="189.3" cy="178.0" rx="2.75" ry="1.85" fill="none" stroke="#56b45a" stroke-width="1.15"/>
<ellipse cx="188.6" cy="180.3" rx="2.75" ry="1.85" fill="none" stroke="#56b45a" stroke-width="1.15"/>
<ellipse cx="199.0" cy="181.8" rx="2.75" ry="1.85" fill="none" stroke="#56b45a" stroke-width="1.15"/>
<ellipse cx="205.7" cy="181.8" rx="2.75" ry="1.85" fill="none" stroke="#56b45a" stroke-width="1.15"/>
<ellipse cx="170.7" cy="182.5" rx="2.75" ry="1.85" fill="none" stroke="#56b45a" stroke-width="1.15"/>
<ellipse cx="232.5" cy="183.3" rx="2.75" ry="1.85" fill="none" stroke="#56b45a" stroke-width="1.15"/>
<ellipse cx="236.9" cy="181.0" rx="2.75" ry="1.85" fill="none" stroke="#56b45a" stroke-width="1.15"/>
<ellipse cx="171.5" cy="187.0" rx="2.75" ry="1.85" fill="none" stroke="#56b45a" stroke-width="1.15"/>
<ellipse cx="183.4" cy="187.0" rx="2.75" ry="1.85" fill="none" stroke="#56b45a" stroke-width="1.15"/>
<ellipse cx="191.6" cy="188.5" rx="2.75" ry="1.85" fill="none" stroke="#56b45a" stroke-width="1.15"/>
<ellipse cx="196.0" cy="189.2" rx="2.75" ry="1.85" fill="none" stroke="#56b45a" stroke-width="1.15"/>
<ellipse cx="225.0" cy="187.0" rx="2.75" ry="1.85" fill="none" stroke="#56b45a" stroke-width="1.15"/>
<ellipse cx="219.1" cy="189.2" rx="2.75" ry="1.85" fill="none" stroke="#56b45a" stroke-width="1.15"/>
<ellipse cx="232.5" cy="188.5" rx="2.75" ry="1.85" fill="none" stroke="#56b45a" stroke-width="1.15"/>
<ellipse cx="171.5" cy="192.9" rx="2.75" ry="1.85" fill="none" stroke="#56b45a" stroke-width="1.15"/>
<ellipse cx="175.9" cy="192.9" rx="2.75" ry="1.85" fill="none" stroke="#56b45a" stroke-width="1.15"/>
<ellipse cx="184.9" cy="192.9" rx="2.75" ry="1.85" fill="none" stroke="#56b45a" stroke-width="1.15"/>
<ellipse cx="189.3" cy="192.9" rx="2.75" ry="1.85" fill="none" stroke="#56b45a" stroke-width="1.15"/>
<ellipse cx="193.8" cy="192.9" rx="2.75" ry="1.85" fill="none" stroke="#56b45a" stroke-width="1.15"/>
<ellipse cx="198.3" cy="192.9" rx="2.75" ry="1.85" fill="none" stroke="#56b45a" stroke-width="1.15"/>
<ellipse cx="202.7" cy="192.9" rx="2.75" ry="1.85" fill="none" stroke="#56b45a" stroke-width="1.15"/>
<ellipse cx="207.2" cy="192.9" rx="2.75" ry="1.85" fill="none" stroke="#56b45a" stroke-width="1.15"/>
<ellipse cx="211.6" cy="192.9" rx="2.75" ry="1.85" fill="none" stroke="#56b45a" stroke-width="1.15"/>
<ellipse cx="216.1" cy="192.9" rx="2.75" ry="1.85" fill="none" stroke="#56b45a" stroke-width="1.15"/>
<ellipse cx="220.6" cy="192.9" rx="2.75" ry="1.85" fill="none" stroke="#56b45a" stroke-width="1.15"/>
<ellipse cx="225.0" cy="192.9" rx="2.75" ry="1.85" fill="none" stroke="#56b45a" stroke-width="1.15"/>
<ellipse cx="233.9" cy="192.9" rx="2.75" ry="1.85" fill="none" stroke="#56b45a" stroke-width="1.15"/>
<ellipse cx="238.4" cy="192.9" rx="2.75" ry="1.85" fill="none" stroke="#56b45a" stroke-width="1.15"/>
<ellipse cx="247.3" cy="192.9" rx="2.75" ry="1.85" fill="none" stroke="#56b45a" stroke-width="1.15"/>
<ellipse cx="177.4" cy="198.1" rx="2.75" ry="1.85" fill="none" stroke="#56b45a" stroke-width="1.15"/>
<ellipse cx="199.7" cy="198.1" rx="2.75" ry="1.85" fill="none" stroke="#56b45a" stroke-width="1.15"/>
<ellipse cx="209.4" cy="198.9" rx="2.75" ry="1.85" fill="none" stroke="#56b45a" stroke-width="1.15"/>
<ellipse cx="220.6" cy="198.1" rx="2.75" ry="1.85" fill="none" stroke="#56b45a" stroke-width="1.15"/>
<ellipse cx="228.0" cy="198.1" rx="2.75" ry="1.85" fill="none" stroke="#56b45a" stroke-width="1.15"/>
<ellipse cx="236.9" cy="199.6" rx="2.75" ry="1.85" fill="none" stroke="#56b45a" stroke-width="1.15"/>
<ellipse cx="207.2" cy="202.6" rx="2.75" ry="1.85" fill="none" stroke="#56b45a" stroke-width="1.15"/>
<ellipse cx="219.8" cy="201.1" rx="2.75" ry="1.85" fill="none" stroke="#56b45a" stroke-width="1.15"/>
<ellipse cx="241.4" cy="203.3" rx="2.75" ry="1.85" fill="none" stroke="#56b45a" stroke-width="1.15"/>
<ellipse cx="250.7" cy="158.0" rx="2.75" ry="1.85" fill="none" stroke="#56b45a" stroke-width="1.15"/>
<ellipse cx="252.2" cy="166.2" rx="2.75" ry="1.85" fill="none" stroke="#56b45a" stroke-width="1.15"/>
<ellipse cx="252.2" cy="171.4" rx="2.75" ry="1.85" fill="none" stroke="#56b45a" stroke-width="1.15"/>
<ellipse cx="273.0" cy="175.1" rx="2.75" ry="1.85" fill="none" stroke="#56b45a" stroke-width="1.15"/>
<ellipse cx="253.7" cy="181.8" rx="2.75" ry="1.85" fill="none" stroke="#56b45a" stroke-width="1.15"/>
<ellipse cx="291.6" cy="186.5" rx="2.75" ry="1.85" fill="none" stroke="#56b45a" stroke-width="1.15"/>
<ellipse cx="253.0" cy="192.9" rx="2.75" ry="1.85" fill="none" stroke="#56b45a" stroke-width="1.15"/>
<ellipse cx="257.4" cy="192.2" rx="2.75" ry="1.85" fill="none" stroke="#56b45a" stroke-width="1.15"/>
<ellipse cx="266.4" cy="192.9" rx="2.75" ry="1.85" fill="none" stroke="#56b45a" stroke-width="1.15"/>
<ellipse cx="270.8" cy="192.9" rx="2.75" ry="1.85" fill="none" stroke="#56b45a" stroke-width="1.15"/>
<ellipse cx="282.7" cy="192.9" rx="2.75" ry="1.85" fill="none" stroke="#56b45a" stroke-width="1.15"/>
<ellipse cx="297.6" cy="192.9" rx="2.75" ry="1.85" fill="none" stroke="#56b45a" stroke-width="1.15"/>
<ellipse cx="302.0" cy="192.9" rx="2.75" ry="1.85" fill="none" stroke="#56b45a" stroke-width="1.15"/>
<ellipse cx="254.5" cy="197.4" rx="2.75" ry="1.85" fill="none" stroke="#56b45a" stroke-width="1.15"/>
<ellipse cx="261.9" cy="202.6" rx="2.75" ry="1.85" fill="none" stroke="#56b45a" stroke-width="1.15"/>
<ellipse cx="146.2" cy="207.1" rx="2.75" ry="1.85" fill="none" stroke="#56b45a" stroke-width="1.15"/>
<ellipse cx="151.7" cy="211.2" rx="2.75" ry="1.85" fill="none" stroke="#56b45a" stroke-width="1.15"/>
<ellipse cx="168.1" cy="214.9" rx="2.75" ry="1.85" fill="none" stroke="#56b45a" stroke-width="1.15"/>
<ellipse cx="162.9" cy="201.5" rx="2.75" ry="1.85" fill="none" stroke="#56b45a" stroke-width="1.15"/>
<ellipse cx="186.4" cy="205.2" rx="2.75" ry="1.85" fill="none" stroke="#56b45a" stroke-width="1.15"/>
<ellipse cx="190.8" cy="205.9" rx="2.75" ry="1.85" fill="none" stroke="#56b45a" stroke-width="1.15"/>
<ellipse cx="196.0" cy="205.9" rx="2.75" ry="1.85" fill="none" stroke="#56b45a" stroke-width="1.15"/>
<ellipse cx="204.2" cy="204.5" rx="2.75" ry="1.85" fill="none" stroke="#56b45a" stroke-width="1.15"/>
<ellipse cx="210.1" cy="202.2" rx="2.75" ry="1.85" fill="none" stroke="#56b45a" stroke-width="1.15"/>
<ellipse cx="210.9" cy="206.7" rx="2.75" ry="1.85" fill="none" stroke="#56b45a" stroke-width="1.15"/>
<ellipse cx="220.6" cy="200.7" rx="2.75" ry="1.85" fill="none" stroke="#56b45a" stroke-width="1.15"/>
<ellipse cx="173.0" cy="214.9" rx="2.75" ry="1.85" fill="none" stroke="#56b45a" stroke-width="1.15"/>
<ellipse cx="202.0" cy="211.9" rx="2.75" ry="1.85" fill="none" stroke="#56b45a" stroke-width="1.15"/>
<ellipse cx="206.4" cy="214.1" rx="2.75" ry="1.85" fill="none" stroke="#56b45a" stroke-width="1.15"/>
<ellipse cx="212.4" cy="211.2" rx="2.75" ry="1.85" fill="none" stroke="#56b45a" stroke-width="1.15"/>
<ellipse cx="210.1" cy="214.9" rx="2.75" ry="1.85" fill="none" stroke="#56b45a" stroke-width="1.15"/>
<ellipse cx="213.1" cy="216.4" rx="2.75" ry="1.85" fill="none" stroke="#56b45a" stroke-width="1.15"/>
<ellipse cx="219.1" cy="208.2" rx="2.75" ry="1.85" fill="none" stroke="#56b45a" stroke-width="1.15"/>
<ellipse cx="217.6" cy="212.6" rx="2.75" ry="1.85" fill="none" stroke="#56b45a" stroke-width="1.15"/>
<ellipse cx="223.5" cy="211.9" rx="2.75" ry="1.85" fill="none" stroke="#56b45a" stroke-width="1.15"/>
<ellipse cx="222.0" cy="214.9" rx="2.75" ry="1.85" fill="none" stroke="#56b45a" stroke-width="1.15"/>
<ellipse cx="229.5" cy="207.4" rx="2.75" ry="1.85" fill="none" stroke="#56b45a" stroke-width="1.15"/>
<ellipse cx="235.4" cy="206.7" rx="2.75" ry="1.85" fill="none" stroke="#56b45a" stroke-width="1.15"/>
<ellipse cx="241.4" cy="206.7" rx="2.75" ry="1.85" fill="none" stroke="#56b45a" stroke-width="1.15"/>
<ellipse cx="229.5" cy="214.1" rx="2.75" ry="1.85" fill="none" stroke="#56b45a" stroke-width="1.15"/>
<ellipse cx="235.4" cy="213.4" rx="2.75" ry="1.85" fill="none" stroke="#56b45a" stroke-width="1.15"/>
<ellipse cx="238.4" cy="214.9" rx="2.75" ry="1.85" fill="none" stroke="#56b45a" stroke-width="1.15"/>
<ellipse cx="248.1" cy="214.9" rx="2.75" ry="1.85" fill="none" stroke="#56b45a" stroke-width="1.15"/>
<ellipse cx="241.4" cy="216.4" rx="2.75" ry="1.85" fill="none" stroke="#56b45a" stroke-width="1.15"/>
<ellipse cx="226.5" cy="221.6" rx="2.75" ry="1.85" fill="none" stroke="#56b45a" stroke-width="1.15"/>
<ellipse cx="235.4" cy="218.6" rx="2.75" ry="1.85" fill="none" stroke="#56b45a" stroke-width="1.15"/>
<ellipse cx="239.9" cy="223.8" rx="2.75" ry="1.85" fill="none" stroke="#56b45a" stroke-width="1.15"/>
<ellipse cx="196.8" cy="217.1" rx="2.75" ry="1.85" fill="none" stroke="#56b45a" stroke-width="1.15"/>
<ellipse cx="199.0" cy="227.5" rx="2.75" ry="1.85" fill="none" stroke="#56b45a" stroke-width="1.15"/>
<ellipse cx="261.2" cy="205.2" rx="2.75" ry="1.85" fill="none" stroke="#56b45a" stroke-width="1.15"/>
<ellipse cx="263.4" cy="203.0" rx="2.75" ry="1.85" fill="none" stroke="#56b45a" stroke-width="1.15"/>
<ellipse cx="260.4" cy="211.9" rx="2.75" ry="1.85" fill="none" stroke="#56b45a" stroke-width="1.15"/>
<ellipse cx="270.8" cy="212.6" rx="2.75" ry="1.85" fill="none" stroke="#56b45a" stroke-width="1.15"/>
<ellipse cx="278.3" cy="213.4" rx="2.75" ry="1.85" fill="none" stroke="#56b45a" stroke-width="1.15"/>
<ellipse cx="250.7" cy="217.1" rx="2.75" ry="1.85" fill="none" stroke="#56b45a" stroke-width="1.15"/>
<ellipse cx="253.7" cy="218.6" rx="2.75" ry="1.85" fill="none" stroke="#56b45a" stroke-width="1.15"/>
<ellipse cx="260.4" cy="218.6" rx="2.75" ry="1.85" fill="none" stroke="#56b45a" stroke-width="1.15"/>
<ellipse cx="262.6" cy="219.3" rx="2.75" ry="1.85" fill="none" stroke="#56b45a" stroke-width="1.15"/>
<ellipse cx="269.3" cy="224.5" rx="2.75" ry="1.85" fill="none" stroke="#56b45a" stroke-width="1.15"/>
<ellipse cx="276.8" cy="233.5" rx="2.75" ry="1.85" fill="none" stroke="#56b45a" stroke-width="1.15"/>
<ellipse cx="176.0" cy="192.8" rx="2.75" ry="1.85" fill="none" stroke="#56b45a" stroke-width="1.15"/>
<ellipse cx="180.6" cy="192.9" rx="2.75" ry="1.85" fill="none" stroke="#56b45a" stroke-width="1.15"/>
<ellipse cx="182.9" cy="193.1" rx="2.75" ry="1.85" fill="none" stroke="#56b45a" stroke-width="1.15"/>
<ellipse cx="185.2" cy="193.1" rx="2.75" ry="1.85" fill="none" stroke="#56b45a" stroke-width="1.15"/>
<ellipse cx="189.8" cy="192.6" rx="2.75" ry="1.85" fill="none" stroke="#56b45a" stroke-width="1.15"/>
<ellipse cx="192.1" cy="193.3" rx="2.75" ry="1.85" fill="none" stroke="#56b45a" stroke-width="1.15"/>
<ellipse cx="194.4" cy="192.8" rx="2.75" ry="1.85" fill="none" stroke="#56b45a" stroke-width="1.15"/>
<ellipse cx="199.0" cy="193.4" rx="2.75" ry="1.85" fill="none" stroke="#56b45a" stroke-width="1.15"/>
<ellipse cx="201.3" cy="193.0" rx="2.75" ry="1.85" fill="none" stroke="#56b45a" stroke-width="1.15"/>
<ellipse cx="203.6" cy="193.3" rx="2.75" ry="1.85" fill="none" stroke="#56b45a" stroke-width="1.15"/>
<ellipse cx="208.2" cy="193.1" rx="2.75" ry="1.85" fill="none" stroke="#56b45a" stroke-width="1.15"/>
<ellipse cx="210.5" cy="192.7" rx="2.75" ry="1.85" fill="none" stroke="#56b45a" stroke-width="1.15"/>
<ellipse cx="212.8" cy="193.1" rx="2.75" ry="1.85" fill="none" stroke="#56b45a" stroke-width="1.15"/>
<ellipse cx="217.4" cy="193.0" rx="2.75" ry="1.85" fill="none" stroke="#56b45a" stroke-width="1.15"/>
<ellipse cx="219.7" cy="193.2" rx="2.75" ry="1.85" fill="none" stroke="#56b45a" stroke-width="1.15"/>
<ellipse cx="222.0" cy="193.1" rx="2.75" ry="1.85" fill="none" stroke="#56b45a" stroke-width="1.15"/>
<ellipse cx="226.6" cy="193.2" rx="2.75" ry="1.85" fill="none" stroke="#56b45a" stroke-width="1.15"/>
<ellipse cx="228.9" cy="193.1" rx="2.75" ry="1.85" fill="none" stroke="#56b45a" stroke-width="1.15"/>
<ellipse cx="231.2" cy="192.8" rx="2.75" ry="1.85" fill="none" stroke="#56b45a" stroke-width="1.15"/>
<ellipse cx="235.8" cy="193.3" rx="2.75" ry="1.85" fill="none" stroke="#56b45a" stroke-width="1.15"/>
<ellipse cx="238.1" cy="193.0" rx="2.75" ry="1.85" fill="none" stroke="#56b45a" stroke-width="1.15"/>
<ellipse cx="240.4" cy="193.2" rx="2.75" ry="1.85" fill="none" stroke="#56b45a" stroke-width="1.15"/>
<ellipse cx="245.0" cy="193.2" rx="2.75" ry="1.85" fill="none" stroke="#56b45a" stroke-width="1.15"/>
<ellipse cx="247.3" cy="193.3" rx="2.75" ry="1.85" fill="none" stroke="#56b45a" stroke-width="1.15"/>
<ellipse cx="249.6" cy="192.9" rx="2.75" ry="1.85" fill="none" stroke="#56b45a" stroke-width="1.15"/>
<ellipse cx="255.6" cy="193.0" rx="2.75" ry="1.85" fill="none" stroke="#56b45a" stroke-width="1.15"/>
<ellipse cx="262.8" cy="193.0" rx="2.75" ry="1.85" fill="none" stroke="#56b45a" stroke-width="1.15"/>
<ellipse cx="270.0" cy="193.0" rx="2.75" ry="1.85" fill="none" stroke="#56b45a" stroke-width="1.15"/>
<ellipse cx="277.2" cy="193.0" rx="2.75" ry="1.85" fill="none" stroke="#56b45a" stroke-width="1.15"/>
<ellipse cx="157.5" cy="133.5" rx="2.75" ry="1.85" fill="none" stroke="#56b45a" stroke-width="1.15"/>
<ellipse cx="165.6" cy="131.4" rx="2.75" ry="1.85" fill="none" stroke="#56b45a" stroke-width="1.15"/>
<ellipse cx="156.8" cy="129.9" rx="2.75" ry="1.85" fill="none" stroke="#56b45a" stroke-width="1.15"/>
<ellipse cx="159.3" cy="117.3" rx="2.75" ry="1.85" fill="none" stroke="#56b45a" stroke-width="1.15"/>
<ellipse cx="177.9" cy="120.4" rx="2.75" ry="1.85" fill="none" stroke="#56b45a" stroke-width="1.15"/>
<ellipse cx="188.1" cy="132.9" rx="2.75" ry="1.85" fill="none" stroke="#56b45a" stroke-width="1.15"/>
<ellipse cx="201.8" cy="131.9" rx="2.75" ry="1.85" fill="none" stroke="#56b45a" stroke-width="1.15"/>
<ellipse cx="249.1" cy="206.1" rx="2.75" ry="1.85" fill="none" stroke="#56b45a" stroke-width="1.15"/>
<ellipse cx="232.3" cy="205.3" rx="2.75" ry="1.85" fill="none" stroke="#56b45a" stroke-width="1.15"/>
<ellipse cx="246.3" cy="211.0" rx="2.75" ry="1.85" fill="none" stroke="#56b45a" stroke-width="1.15"/>
<ellipse cx="247.9" cy="205.7" rx="2.75" ry="1.85" fill="none" stroke="#56b45a" stroke-width="1.15"/>
<ellipse cx="231.7" cy="208.8" rx="2.75" ry="1.85" fill="none" stroke="#56b45a" stroke-width="1.15"/>
<ellipse cx="229.4" cy="207.8" rx="2.75" ry="1.85" fill="none" stroke="#56b45a" stroke-width="1.15"/>
<ellipse cx="228.3" cy="207.7" rx="2.75" ry="1.85" fill="none" stroke="#56b45a" stroke-width="1.15"/>
<line x1="70.5" y1="132.9" x2="420" y2="238.4" stroke="#5c6cc6" stroke-width="1"/>
<line x1="70.5" y1="123.9" x2="417.2" y2="256" stroke="#56b45a" stroke-width="1"/>
</g>
<line x1="419.65" y1="9.4" x2="419.65" y2="257" stroke="#fbfbfd" stroke-width="1"/>
<line x1="70.2" y1="255.7" x2="421" y2="255.7" stroke="#f8f8fc" stroke-width="1"/>
<line x1="69.5" y1="9.4" x2="421.85" y2="9.4" stroke="#7a7a7a" stroke-width="1.1"/>
<line x1="69.5" y1="257" x2="421.85" y2="257" stroke="#808080" stroke-width="1.6"/>
<line x1="70.2" y1="8.85" x2="70.2" y2="257.8" stroke="#4a4a4a" stroke-width="1.4"/>
<line x1="421" y1="8.85" x2="421" y2="257.8" stroke="#808080" stroke-width="1.7"/>
<line x1="64.4" y1="53.620000000000005" x2="70" y2="53.620000000000005" stroke="#4a4a4a" stroke-width="0.9"/>
<text x="42.30" y="56.60" font-size="6.0" font-family='"Liberation Sans", sans-serif' fill="#2a2a2a" textLength="21.40" lengthAdjust="spacingAndGlyphs" stroke="#2a2a2a" stroke-width="0.3">60.00</text>
<line x1="64.4" y1="117.28" x2="70" y2="117.28" stroke="#4a4a4a" stroke-width="0.9"/>
<text x="42.30" y="120.40" font-size="6.0" font-family='"Liberation Sans", sans-serif' fill="#2a2a2a" textLength="21.40" lengthAdjust="spacingAndGlyphs" stroke="#2a2a2a" stroke-width="0.3">40.00</text>
<line x1="64.4" y1="180.94" x2="70" y2="180.94" stroke="#4a4a4a" stroke-width="0.9"/>
<text x="42.30" y="184.20" font-size="6.0" font-family='"Liberation Sans", sans-serif' fill="#2a2a2a" textLength="21.40" lengthAdjust="spacingAndGlyphs" stroke="#2a2a2a" stroke-width="0.3">20.00</text>
<line x1="64.4" y1="244.6" x2="70" y2="244.6" stroke="#4a4a4a" stroke-width="0.9"/>
<text x="51.81" y="247.60" font-size="6.0" font-family='"Liberation Sans", sans-serif' fill="#2a2a2a" textLength="11.89" lengthAdjust="spacingAndGlyphs" stroke="#2a2a2a" stroke-width="0.3">.00</text>
<line x1="113.9" y1="256.6" x2="113.9" y2="260.1" stroke="#4a4a4a" stroke-width="0.9"/>
<text x="108.16" y="266.60" font-size="6.0" font-family='"Liberation Sans", sans-serif' fill="#2a2a2a" textLength="12.07" lengthAdjust="spacingAndGlyphs" stroke="#2a2a2a" stroke-width="0.3">.50</text>
<line x1="179.65" y1="256.6" x2="179.65" y2="260.1" stroke="#4a4a4a" stroke-width="0.9"/>
<text x="173.91" y="266.60" font-size="6.0" font-family='"Liberation Sans", sans-serif' fill="#2a2a2a" textLength="12.07" lengthAdjust="spacingAndGlyphs" stroke="#2a2a2a" stroke-width="0.3">.75</text>
<line x1="245.4" y1="256.6" x2="245.4" y2="260.1" stroke="#4a4a4a" stroke-width="0.9"/>
<text x="237.25" y="266.60" font-size="6.0" font-family='"Liberation Sans", sans-serif' fill="#2a2a2a" textLength="16.90" lengthAdjust="spacingAndGlyphs" stroke="#2a2a2a" stroke-width="0.3">1.00</text>
<line x1="311.15" y1="256.6" x2="311.15" y2="260.1" stroke="#4a4a4a" stroke-width="0.9"/>
<text x="303.00" y="266.60" font-size="6.0" font-family='"Liberation Sans", sans-serif' fill="#2a2a2a" textLength="16.90" lengthAdjust="spacingAndGlyphs" stroke="#2a2a2a" stroke-width="0.3">1.25</text>
<line x1="376.9" y1="256.6" x2="376.9" y2="260.1" stroke="#4a4a4a" stroke-width="0.9"/>
<text x="368.75" y="266.60" font-size="6.0" font-family='"Liberation Sans", sans-serif' fill="#2a2a2a" textLength="16.90" lengthAdjust="spacingAndGlyphs" stroke="#2a2a2a" stroke-width="0.3">1.50</text>
<text x="205.70" y="292.80" font-size="12.6" font-family='"Liberation Serif", serif' fill="#111" textLength="84.10" lengthAdjust="spacingAndGlyphs">BMD-LS &amp; FN</text>
<g transform="translate(22.6,175.4) rotate(-90)"><text x="0.00" y="0.00" font-size="13.5" font-family='"Liberation Serif", serif' fill="#111" textLength="63.60" lengthAdjust="spacingAndGlyphs">Osteocalcin</text></g>
<text x="290.80" y="206.70" font-size="11.6" font-family='"Liberation Serif", serif' fill="#000" textLength="37.70" lengthAdjust="spacingAndGlyphs" stroke="#000" stroke-width="0.25">P&lt;0.001</text>
<text x="315.50" y="231.80" font-size="11.6" font-family='"Liberation Serif", serif' fill="#000" textLength="36.30" lengthAdjust="spacingAndGlyphs" stroke="#000" stroke-width="0.25">P&lt;0.001</text>
<ellipse cx="428.9" cy="16.0" rx="4.0" ry="2.3" fill="none" stroke="#6676c8" stroke-width="1.2"/>
<text x="439.00" y="16.20" font-size="6.2" font-family='"Liberation Sans", sans-serif' fill="#2a2a2a" textLength="14.10" lengthAdjust="spacingAndGlyphs" stroke="#2a2a2a" stroke-width="0.3">OCN</text>
<text x="442.00" y="21.00" font-size="6.2" font-family='"Liberation Sans", sans-serif' fill="#2a2a2a" textLength="29.70" lengthAdjust="spacingAndGlyphs" stroke="#2a2a2a" stroke-width="0.3">BMD.LS</text>
<ellipse cx="428.9" cy="28.3" rx="4.0" ry="2.3" fill="none" stroke="#62bc6c" stroke-width="1.2"/>
<text x="439.00" y="28.80" font-size="6.2" font-family='"Liberation Sans", sans-serif' fill="#2a2a2a" textLength="14.10" lengthAdjust="spacingAndGlyphs" stroke="#2a2a2a" stroke-width="0.3">OCN</text>
<text x="442.00" y="34.00" font-size="6.2" font-family='"Liberation Sans", sans-serif' fill="#2a2a2a" textLength="43.80" lengthAdjust="spacingAndGlyphs" stroke="#2a2a2a" stroke-width="0.3">BMD.Femur</text>
<line x1="421.5" y1="39.5" x2="436.8" y2="42.9" stroke="#5c6cc6" stroke-width="1"/>
<text x="439.00" y="41.40" font-size="6.2" font-family='"Liberation Sans", sans-serif' fill="#2a2a2a" textLength="14.10" lengthAdjust="spacingAndGlyphs" stroke="#2a2a2a" stroke-width="0.3">OCN</text>
<text x="442.00" y="46.60" font-size="6.2" font-family='"Liberation Sans", sans-serif' fill="#2a2a2a" textLength="29.70" lengthAdjust="spacingAndGlyphs" stroke="#2a2a2a" stroke-width="0.3">BMD.LS</text>
<line x1="421.5" y1="51.8" x2="436.8" y2="56.3" stroke="#56b45a" stroke-width="1"/>
<text x="439.00" y="54.00" font-size="6.2" font-family='"Liberation Sans", sans-serif' fill="#2a2a2a" textLength="14.10" lengthAdjust="spacingAndGlyphs" stroke="#2a2a2a" stroke-width="0.3">OCN</text>
<text x="442.00" y="59.30" font-size="6.2" font-family='"Liberation Sans", sans-serif' fill="#2a2a2a" textLength="43.80" lengthAdjust="spacingAndGlyphs" stroke="#2a2a2a" stroke-width="0.3">BMD.Femur</text>
<rect x="63.8" y="309.2" width="360.59999999999997" height="247.2" fill="#f3f3f4"/>
<clipPath id="cb"><rect x="63.8" y="309.2" width="360.59999999999997" height="247.2"/></clipPath>
<g clip-path="url(#cb)">
<ellipse cx="124.7" cy="361.2" rx="2.75" ry="1.85" fill="none" stroke="#5c6cc6" stroke-width="1.15"/>
<ellipse cx="110.6" cy="393.1" rx="2.75" ry="1.85" fill="none" stroke="#5c6cc6" stroke-width="1.15"/>
<ellipse cx="144.1" cy="380.5" rx="2.75" ry="1.85" fill="none" stroke="#5c6cc6" stroke-width="1.15"/>
<ellipse cx="147.8" cy="382.0" rx="2.75" ry="1.85" fill="none" stroke="#5c6cc6" stroke-width="1.15"/>
<ellipse cx="132.9" cy="385.7" rx="2.75" ry="1.85" fill="none" stroke="#5c6cc6" stroke-width="1.15"/>
<ellipse cx="129.9" cy="390.1" rx="2.75" ry="1.85" fill="none" stroke="#5c6cc6" stroke-width="1.15"/>
<ellipse cx="141.1" cy="387.9" rx="2.75" ry="1.85" fill="none" stroke="#5c6cc6" stroke-width="1.15"/>
<ellipse cx="160.4" cy="375.3" rx="2.75" ry="1.85" fill="none" stroke="#5c6cc6" stroke-width="1.15"/>
<ellipse cx="164.9" cy="376.0" rx="2.75" ry="1.85" fill="none" stroke="#5c6cc6" stroke-width="1.15"/>
<ellipse cx="172.3" cy="374.5" rx="2.75" ry="1.85" fill="none" stroke="#5c6cc6" stroke-width="1.15"/>
<ellipse cx="172.3" cy="380.5" rx="2.75" ry="1.85" fill="none" stroke="#5c6cc6" stroke-width="1.15"/>
<ellipse cx="157.5" cy="383.5" rx="2.75" ry="1.85" fill="none" stroke="#5c6cc6" stroke-width="1.15"/>
<ellipse cx="166.4" cy="383.5" rx="2.75" ry="1.85" fill="none" stroke="#5c6cc6" stroke-width="1.15"/>
<ellipse cx="154.5" cy="387.9" rx="2.75" ry="1.85" fill="none" stroke="#5c6cc6" stroke-width="1.15"/>
<ellipse cx="167.9" cy="387.9" rx="2.75" ry="1.85" fill="none" stroke="#5c6cc6" stroke-width="1.15"/>
<ellipse cx="153.0" cy="392.4" rx="2.75" ry="1.85" fill="none" stroke="#5c6cc6" stroke-width="1.15"/>
<ellipse cx="164.9" cy="391.6" rx="2.75" ry="1.85" fill="none" stroke="#5c6cc6" stroke-width="1.15"/>
<ellipse cx="173.1" cy="391.6" rx="2.75" ry="1.85" fill="none" stroke="#5c6cc6" stroke-width="1.15"/>
<ellipse cx="158.9" cy="395.4" rx="2.75" ry="1.85" fill="none" stroke="#5c6cc6" stroke-width="1.15"/>
<ellipse cx="169.3" cy="395.4" rx="2.75" ry="1.85" fill="none" stroke="#5c6cc6" stroke-width="1.15"/>
<ellipse cx="162.7" cy="399.1" rx="2.75" ry="1.85" fill="none" stroke="#5c6cc6" stroke-width="1.15"/>
<ellipse cx="190.6" cy="373.8" rx="2.75" ry="1.85" fill="none" stroke="#5c6cc6" stroke-width="1.15"/>
<ellipse cx="195.8" cy="373.8" rx="2.75" ry="1.85" fill="none" stroke="#5c6cc6" stroke-width="1.15"/>
<ellipse cx="253.8" cy="381.2" rx="2.75" ry="1.85" fill="none" stroke="#5c6cc6" stroke-width="1.15"/>
<ellipse cx="182.4" cy="379.7" rx="2.75" ry="1.85" fill="none" stroke="#5c6cc6" stroke-width="1.15"/>
<ellipse cx="197.3" cy="382.0" rx="2.75" ry="1.85" fill="none" stroke="#5c6cc6" stroke-width="1.15"/>
<ellipse cx="235.2" cy="381.2" rx="2.75" ry="1.85" fill="none" stroke="#5c6cc6" stroke-width="1.15"/>
<ellipse cx="233.0" cy="384.2" rx="2.75" ry="1.85" fill="none" stroke="#5c6cc6" stroke-width="1.15"/>
<ellipse cx="243.4" cy="385.4" rx="2.75" ry="1.85" fill="none" stroke="#5c6cc6" stroke-width="1.15"/>
<ellipse cx="180.2" cy="385.7" rx="2.75" ry="1.85" fill="none" stroke="#5c6cc6" stroke-width="1.15"/>
<ellipse cx="188.4" cy="385.7" rx="2.75" ry="1.85" fill="none" stroke="#5c6cc6" stroke-width="1.15"/>
<ellipse cx="200.3" cy="384.9" rx="2.75" ry="1.85" fill="none" stroke="#5c6cc6" stroke-width="1.15"/>
<ellipse cx="204.7" cy="384.9" rx="2.75" ry="1.85" fill="none" stroke="#5c6cc6" stroke-width="1.15"/>
<ellipse cx="227.0" cy="387.2" rx="2.75" ry="1.85" fill="none" stroke="#5c6cc6" stroke-width="1.15"/>
<ellipse cx="230.8" cy="387.2" rx="2.75" ry="1.85" fill="none" stroke="#5c6cc6" stroke-width="1.15"/>
<ellipse cx="186.2" cy="388.7" rx="2.75" ry="1.85" fill="none" stroke="#5c6cc6" stroke-width="1.15"/>
<ellipse cx="195.1" cy="389.4" rx="2.75" ry="1.85" fill="none" stroke="#5c6cc6" stroke-width="1.15"/>
<ellipse cx="226.3" cy="390.9" rx="2.75" ry="1.85" fill="none" stroke="#5c6cc6" stroke-width="1.15"/>
<ellipse cx="240.4" cy="391.6" rx="2.75" ry="1.85" fill="none" stroke="#5c6cc6" stroke-width="1.15"/>
<ellipse cx="182.4" cy="393.9" rx="2.75" ry="1.85" fill="none" stroke="#5c6cc6" stroke-width="1.15"/>
<ellipse cx="188.4" cy="394.6" rx="2.75" ry="1.85" fill="none" stroke="#5c6cc6" stroke-width="1.15"/>
<ellipse cx="198.0" cy="393.9" rx="2.75" ry="1.85" fill="none" stroke="#5c6cc6" stroke-width="1.15"/>
<ellipse cx="201.8" cy="396.1" rx="2.75" ry="1.85" fill="none" stroke="#5c6cc6" stroke-width="1.15"/>
<ellipse cx="227.0" cy="394.6" rx="2.75" ry="1.85" fill="none" stroke="#5c6cc6" stroke-width="1.15"/>
<ellipse cx="250.1" cy="393.9" rx="2.75" ry="1.85" fill="none" stroke="#5c6cc6" stroke-width="1.15"/>
<ellipse cx="189.9" cy="398.3" rx="2.75" ry="1.85" fill="none" stroke="#5c6cc6" stroke-width="1.15"/>
<ellipse cx="207.0" cy="398.3" rx="2.75" ry="1.85" fill="none" stroke="#5c6cc6" stroke-width="1.15"/>
<ellipse cx="246.4" cy="398.3" rx="2.75" ry="1.85" fill="none" stroke="#5c6cc6" stroke-width="1.15"/>
<ellipse cx="298.1" cy="365.2" rx="2.75" ry="1.85" fill="none" stroke="#5c6cc6" stroke-width="1.15"/>
<ellipse cx="266.2" cy="374.1" rx="2.75" ry="1.85" fill="none" stroke="#5c6cc6" stroke-width="1.15"/>
<ellipse cx="255.7" cy="381.2" rx="2.75" ry="1.85" fill="none" stroke="#5c6cc6" stroke-width="1.15"/>
<ellipse cx="313.7" cy="394.2" rx="2.75" ry="1.85" fill="none" stroke="#5c6cc6" stroke-width="1.15"/>
<ellipse cx="258.7" cy="398.3" rx="2.75" ry="1.85" fill="none" stroke="#5c6cc6" stroke-width="1.15"/>
<ellipse cx="345.3" cy="371.5" rx="2.75" ry="1.85" fill="none" stroke="#5c6cc6" stroke-width="1.15"/>
<ellipse cx="109.1" cy="401.2" rx="2.75" ry="1.85" fill="none" stroke="#5c6cc6" stroke-width="1.15"/>
<ellipse cx="129.9" cy="401.8" rx="2.75" ry="1.85" fill="none" stroke="#5c6cc6" stroke-width="1.15"/>
<ellipse cx="161.9" cy="401.5" rx="2.75" ry="1.85" fill="none" stroke="#5c6cc6" stroke-width="1.15"/>
<ellipse cx="144.1" cy="411.9" rx="2.75" ry="1.85" fill="none" stroke="#5c6cc6" stroke-width="1.15"/>
<ellipse cx="154.5" cy="414.1" rx="2.75" ry="1.85" fill="none" stroke="#5c6cc6" stroke-width="1.15"/>
<ellipse cx="167.9" cy="414.9" rx="2.75" ry="1.85" fill="none" stroke="#5c6cc6" stroke-width="1.15"/>
<ellipse cx="173.8" cy="412.6" rx="2.75" ry="1.85" fill="none" stroke="#5c6cc6" stroke-width="1.15"/>
<ellipse cx="129.9" cy="417.8" rx="2.75" ry="1.85" fill="none" stroke="#5c6cc6" stroke-width="1.15"/>
<ellipse cx="135.9" cy="414.9" rx="2.75" ry="1.85" fill="none" stroke="#5c6cc6" stroke-width="1.15"/>
<ellipse cx="157.5" cy="419.3" rx="2.75" ry="1.85" fill="none" stroke="#5c6cc6" stroke-width="1.15"/>
<ellipse cx="153.0" cy="422.3" rx="2.75" ry="1.85" fill="none" stroke="#5c6cc6" stroke-width="1.15"/>
<ellipse cx="173.8" cy="424.5" rx="2.75" ry="1.85" fill="none" stroke="#5c6cc6" stroke-width="1.15"/>
<ellipse cx="120.3" cy="429.7" rx="2.75" ry="1.85" fill="none" stroke="#5c6cc6" stroke-width="1.15"/>
<ellipse cx="129.9" cy="430.9" rx="2.75" ry="1.85" fill="none" stroke="#5c6cc6" stroke-width="1.15"/>
<ellipse cx="167.1" cy="427.5" rx="2.75" ry="1.85" fill="none" stroke="#5c6cc6" stroke-width="1.15"/>
<ellipse cx="133.7" cy="438.7" rx="2.75" ry="1.85" fill="none" stroke="#5c6cc6" stroke-width="1.15"/>
<ellipse cx="153.7" cy="437.9" rx="2.75" ry="1.85" fill="none" stroke="#5c6cc6" stroke-width="1.15"/>
<ellipse cx="168.6" cy="440.9" rx="2.75" ry="1.85" fill="none" stroke="#5c6cc6" stroke-width="1.15"/>
<ellipse cx="172.3" cy="440.1" rx="2.75" ry="1.85" fill="none" stroke="#5c6cc6" stroke-width="1.15"/>
<ellipse cx="138.9" cy="443.9" rx="2.75" ry="1.85" fill="none" stroke="#5c6cc6" stroke-width="1.15"/>
<ellipse cx="145.6" cy="443.9" rx="2.75" ry="1.85" fill="none" stroke="#5c6cc6" stroke-width="1.15"/>
<ellipse cx="173.8" cy="447.6" rx="2.75" ry="1.85" fill="none" stroke="#5c6cc6" stroke-width="1.15"/>
<ellipse cx="191.4" cy="403.0" rx="2.75" ry="1.85" fill="none" stroke="#5c6cc6" stroke-width="1.15"/>
<ellipse cx="180.9" cy="405.9" rx="2.75" ry="1.85" fill="none" stroke="#5c6cc6" stroke-width="1.15"/>
<ellipse cx="207.7" cy="405.9" rx="2.75" ry="1.85" fill="none" stroke="#5c6cc6" stroke-width="1.15"/>
<ellipse cx="218.9" cy="411.2" rx="2.75" ry="1.85" fill="none" stroke="#5c6cc6" stroke-width="1.15"/>
<ellipse cx="230.8" cy="405.9" rx="2.75" ry="1.85" fill="none" stroke="#5c6cc6" stroke-width="1.15"/>
<ellipse cx="175.7" cy="412.6" rx="2.75" ry="1.85" fill="none" stroke="#5c6cc6" stroke-width="1.15"/>
<ellipse cx="202.5" cy="415.6" rx="2.75" ry="1.85" fill="none" stroke="#5c6cc6" stroke-width="1.15"/>
<ellipse cx="237.5" cy="411.2" rx="2.75" ry="1.85" fill="none" stroke="#5c6cc6" stroke-width="1.15"/>
<ellipse cx="241.2" cy="413.4" rx="2.75" ry="1.85" fill="none" stroke="#5c6cc6" stroke-width="1.15"/>
<ellipse cx="253.1" cy="414.9" rx="2.75" ry="1.85" fill="none" stroke="#5c6cc6" stroke-width="1.15"/>
<ellipse cx="182.4" cy="420.8" rx="2.75" ry="1.85" fill="none" stroke="#5c6cc6" stroke-width="1.15"/>
<ellipse cx="183.2" cy="423.8" rx="2.75" ry="1.85" fill="none" stroke="#5c6cc6" stroke-width="1.15"/>
<ellipse cx="225.6" cy="421.6" rx="2.75" ry="1.85" fill="none" stroke="#5c6cc6" stroke-width="1.15"/>
<ellipse cx="247.1" cy="421.6" rx="2.75" ry="1.85" fill="none" stroke="#5c6cc6" stroke-width="1.15"/>
<ellipse cx="233.7" cy="424.5" rx="2.75" ry="1.85" fill="none" stroke="#5c6cc6" stroke-width="1.15"/>
<ellipse cx="244.9" cy="425.3" rx="2.75" ry="1.85" fill="none" stroke="#5c6cc6" stroke-width="1.15"/>
<ellipse cx="176.5" cy="429.7" rx="2.75" ry="1.85" fill="none" stroke="#5c6cc6" stroke-width="1.15"/>
<ellipse cx="185.4" cy="429.7" rx="2.75" ry="1.85" fill="none" stroke="#5c6cc6" stroke-width="1.15"/>
<ellipse cx="189.9" cy="429.7" rx="2.75" ry="1.85" fill="none" stroke="#5c6cc6" stroke-width="1.15"/>
<ellipse cx="219.6" cy="429.7" rx="2.75" ry="1.85" fill="none" stroke="#5c6cc6" stroke-width="1.15"/>
<ellipse cx="231.5" cy="429.7" rx="2.75" ry="1.85" fill="none" stroke="#5c6cc6" stroke-width="1.15"/>
<ellipse cx="238.9" cy="429.7" rx="2.75" ry="1.85" fill="none" stroke="#5c6cc6" stroke-width="1.15"/>
<ellipse cx="247.9" cy="429.7" rx="2.75" ry="1.85" fill="none" stroke="#5c6cc6" stroke-width="1.15"/>
<ellipse cx="225.6" cy="434.5" rx="2.75" ry="1.85" fill="none" stroke="#5c6cc6" stroke-width="1.15"/>
<ellipse cx="175.7" cy="440.1" rx="2.75" ry="1.85" fill="none" stroke="#5c6cc6" stroke-width="1.15"/>
<ellipse cx="179.5" cy="443.1" rx="2.75" ry="1.85" fill="none" stroke="#5c6cc6" stroke-width="1.15"/>
<ellipse cx="210.7" cy="444.6" rx="2.75" ry="1.85" fill="none" stroke="#5c6cc6" stroke-width="1.15"/>
<ellipse cx="238.9" cy="440.9" rx="2.75" ry="1.85" fill="none" stroke="#5c6cc6" stroke-width="1.15"/>
<ellipse cx="178.0" cy="447.6" rx="2.75" ry="1.85" fill="none" stroke="#5c6cc6" stroke-width="1.15"/>
<ellipse cx="182.4" cy="449.1" rx="2.75" ry="1.85" fill="none" stroke="#5c6cc6" stroke-width="1.15"/>
<ellipse cx="258.7" cy="403.7" rx="2.75" ry="1.85" fill="none" stroke="#5c6cc6" stroke-width="1.15"/>
<ellipse cx="263.2" cy="401.5" rx="2.75" ry="1.85" fill="none" stroke="#5c6cc6" stroke-width="1.15"/>
<ellipse cx="268.4" cy="401.5" rx="2.75" ry="1.85" fill="none" stroke="#5c6cc6" stroke-width="1.15"/>
<ellipse cx="256.5" cy="414.1" rx="2.75" ry="1.85" fill="none" stroke="#5c6cc6" stroke-width="1.15"/>
<ellipse cx="255.7" cy="417.8" rx="2.75" ry="1.85" fill="none" stroke="#5c6cc6" stroke-width="1.15"/>
<ellipse cx="256.5" cy="429.7" rx="2.75" ry="1.85" fill="none" stroke="#5c6cc6" stroke-width="1.15"/>
<ellipse cx="267.6" cy="430.5" rx="2.75" ry="1.85" fill="none" stroke="#5c6cc6" stroke-width="1.15"/>
<ellipse cx="281.8" cy="426.8" rx="2.75" ry="1.85" fill="none" stroke="#5c6cc6" stroke-width="1.15"/>
<ellipse cx="289.2" cy="429.7" rx="2.75" ry="1.85" fill="none" stroke="#5c6cc6" stroke-width="1.15"/>
<ellipse cx="292.9" cy="429.7" rx="2.75" ry="1.85" fill="none" stroke="#5c6cc6" stroke-width="1.15"/>
<ellipse cx="308.5" cy="429.7" rx="2.75" ry="1.85" fill="none" stroke="#5c6cc6" stroke-width="1.15"/>
<ellipse cx="332.3" cy="429.7" rx="2.75" ry="1.85" fill="none" stroke="#5c6cc6" stroke-width="1.15"/>
<ellipse cx="268.4" cy="434.9" rx="2.75" ry="1.85" fill="none" stroke="#5c6cc6" stroke-width="1.15"/>
<ellipse cx="276.6" cy="434.2" rx="2.75" ry="1.85" fill="none" stroke="#5c6cc6" stroke-width="1.15"/>
<ellipse cx="278.0" cy="447.6" rx="2.75" ry="1.85" fill="none" stroke="#5c6cc6" stroke-width="1.15"/>
<ellipse cx="158.9" cy="456.7" rx="2.75" ry="1.85" fill="none" stroke="#5c6cc6" stroke-width="1.15"/>
<ellipse cx="167.9" cy="468.4" rx="2.75" ry="1.85" fill="none" stroke="#5c6cc6" stroke-width="1.15"/>
<ellipse cx="172.6" cy="464.6" rx="2.75" ry="1.85" fill="none" stroke="#5c6cc6" stroke-width="1.15"/>
<ellipse cx="151.2" cy="477.7" rx="2.75" ry="1.85" fill="none" stroke="#5c6cc6" stroke-width="1.15"/>
<ellipse cx="183.9" cy="453.0" rx="2.75" ry="1.85" fill="none" stroke="#5c6cc6" stroke-width="1.15"/>
<ellipse cx="229.3" cy="454.5" rx="2.75" ry="1.85" fill="none" stroke="#5c6cc6" stroke-width="1.15"/>
<ellipse cx="248.6" cy="455.7" rx="2.75" ry="1.85" fill="none" stroke="#5c6cc6" stroke-width="1.15"/>
<ellipse cx="175.7" cy="464.9" rx="2.75" ry="1.85" fill="none" stroke="#5c6cc6" stroke-width="1.15"/>
<ellipse cx="229.3" cy="465.6" rx="2.75" ry="1.85" fill="none" stroke="#5c6cc6" stroke-width="1.15"/>
<ellipse cx="236.0" cy="464.9" rx="2.75" ry="1.85" fill="none" stroke="#5c6cc6" stroke-width="1.15"/>
<ellipse cx="233.0" cy="469.3" rx="2.75" ry="1.85" fill="none" stroke="#5c6cc6" stroke-width="1.15"/>
<ellipse cx="253.8" cy="469.3" rx="2.75" ry="1.85" fill="none" stroke="#5c6cc6" stroke-width="1.15"/>
<ellipse cx="178.7" cy="475.3" rx="2.75" ry="1.85" fill="none" stroke="#5c6cc6" stroke-width="1.15"/>
<ellipse cx="227.0" cy="476.5" rx="2.75" ry="1.85" fill="none" stroke="#5c6cc6" stroke-width="1.15"/>
<ellipse cx="231.5" cy="473.8" rx="2.75" ry="1.85" fill="none" stroke="#5c6cc6" stroke-width="1.15"/>
<ellipse cx="237.5" cy="477.5" rx="2.75" ry="1.85" fill="none" stroke="#5c6cc6" stroke-width="1.15"/>
<ellipse cx="204.0" cy="486.4" rx="2.75" ry="1.85" fill="none" stroke="#5c6cc6" stroke-width="1.15"/>
<ellipse cx="275.8" cy="451.5" rx="2.75" ry="1.85" fill="none" stroke="#5c6cc6" stroke-width="1.15"/>
<ellipse cx="298.1" cy="452.2" rx="2.75" ry="1.85" fill="none" stroke="#5c6cc6" stroke-width="1.15"/>
<ellipse cx="286.2" cy="455.9" rx="2.75" ry="1.85" fill="none" stroke="#5c6cc6" stroke-width="1.15"/>
<ellipse cx="292.5" cy="458.9" rx="2.75" ry="1.85" fill="none" stroke="#5c6cc6" stroke-width="1.15"/>
<ellipse cx="265.4" cy="458.6" rx="2.75" ry="1.85" fill="none" stroke="#5c6cc6" stroke-width="1.15"/>
<ellipse cx="260.2" cy="463.7" rx="2.75" ry="1.85" fill="none" stroke="#5c6cc6" stroke-width="1.15"/>
<ellipse cx="266.9" cy="464.6" rx="2.75" ry="1.85" fill="none" stroke="#5c6cc6" stroke-width="1.15"/>
<ellipse cx="273.6" cy="462.6" rx="2.75" ry="1.85" fill="none" stroke="#5c6cc6" stroke-width="1.15"/>
<ellipse cx="256.5" cy="469.3" rx="2.75" ry="1.85" fill="none" stroke="#5c6cc6" stroke-width="1.15"/>
<ellipse cx="266.6" cy="468.1" rx="2.75" ry="1.85" fill="none" stroke="#5c6cc6" stroke-width="1.15"/>
<ellipse cx="275.8" cy="473.8" rx="2.75" ry="1.85" fill="none" stroke="#5c6cc6" stroke-width="1.15"/>
<ellipse cx="278.8" cy="475.3" rx="2.75" ry="1.85" fill="none" stroke="#5c6cc6" stroke-width="1.15"/>
<ellipse cx="323.1" cy="470.8" rx="2.75" ry="1.85" fill="none" stroke="#5c6cc6" stroke-width="1.15"/>
<ellipse cx="326.1" cy="498.8" rx="2.75" ry="1.85" fill="none" stroke="#5c6cc6" stroke-width="1.15"/>
<ellipse cx="238.7" cy="523.7" rx="2.75" ry="1.85" fill="none" stroke="#5c6cc6" stroke-width="1.15"/>
<ellipse cx="347.0" cy="458.4" rx="2.75" ry="1.85" fill="none" stroke="#5c6cc6" stroke-width="1.15"/>
<ellipse cx="109.2" cy="401.0" rx="2.75" ry="1.85" fill="none" stroke="#5c6cc6" stroke-width="1.15"/>
<ellipse cx="177.5" cy="429.8" rx="2.75" ry="1.85" fill="none" stroke="#5c6cc6" stroke-width="1.15"/>
<ellipse cx="184.5" cy="430.1" rx="2.75" ry="1.85" fill="none" stroke="#5c6cc6" stroke-width="1.15"/>
<ellipse cx="191.5" cy="429.5" rx="2.75" ry="1.85" fill="none" stroke="#5c6cc6" stroke-width="1.15"/>
<ellipse cx="198.5" cy="430.2" rx="2.75" ry="1.85" fill="none" stroke="#5c6cc6" stroke-width="1.15"/>
<ellipse cx="204.2" cy="429.9" rx="2.75" ry="1.85" fill="none" stroke="#5c6cc6" stroke-width="1.15"/>
<ellipse cx="213.0" cy="429.7" rx="2.75" ry="1.85" fill="none" stroke="#5c6cc6" stroke-width="1.15"/>
<ellipse cx="221.8" cy="429.9" rx="2.75" ry="1.85" fill="none" stroke="#5c6cc6" stroke-width="1.15"/>
<ellipse cx="226.2" cy="430.1" rx="2.75" ry="1.85" fill="none" stroke="#5c6cc6" stroke-width="1.15"/>
<ellipse cx="230.6" cy="429.9" rx="2.75" ry="1.85" fill="none" stroke="#5c6cc6" stroke-width="1.15"/>
<ellipse cx="235.0" cy="430.1" rx="2.75" ry="1.85" fill="none" stroke="#5c6cc6" stroke-width="1.15"/>
<ellipse cx="239.4" cy="430.1" rx="2.75" ry="1.85" fill="none" stroke="#5c6cc6" stroke-width="1.15"/>
<ellipse cx="243.8" cy="430.0" rx="2.75" ry="1.85" fill="none" stroke="#5c6cc6" stroke-width="1.15"/>
<ellipse cx="248.2" cy="430.1" rx="2.75" ry="1.85" fill="none" stroke="#5c6cc6" stroke-width="1.15"/>
<ellipse cx="252.6" cy="429.6" rx="2.75" ry="1.85" fill="none" stroke="#5c6cc6" stroke-width="1.15"/>
<ellipse cx="254.8" cy="429.5" rx="2.75" ry="1.85" fill="none" stroke="#5c6cc6" stroke-width="1.15"/>
<ellipse cx="257.3" cy="430.1" rx="2.75" ry="1.85" fill="none" stroke="#5c6cc6" stroke-width="1.15"/>
<ellipse cx="259.8" cy="430.2" rx="2.75" ry="1.85" fill="none" stroke="#5c6cc6" stroke-width="1.15"/>
<ellipse cx="262.3" cy="429.5" rx="2.75" ry="1.85" fill="none" stroke="#5c6cc6" stroke-width="1.15"/>
<ellipse cx="268.4" cy="429.7" rx="2.75" ry="1.85" fill="none" stroke="#5c6cc6" stroke-width="1.15"/>
<ellipse cx="272.0" cy="429.5" rx="2.75" ry="1.85" fill="none" stroke="#5c6cc6" stroke-width="1.15"/>
<ellipse cx="279.2" cy="430.0" rx="2.75" ry="1.85" fill="none" stroke="#5c6cc6" stroke-width="1.15"/>
<ellipse cx="282.8" cy="430.1" rx="2.75" ry="1.85" fill="none" stroke="#5c6cc6" stroke-width="1.15"/>
<ellipse cx="290.0" cy="429.9" rx="2.75" ry="1.85" fill="none" stroke="#5c6cc6" stroke-width="1.15"/>
<ellipse cx="293.6" cy="429.4" rx="2.75" ry="1.85" fill="none" stroke="#5c6cc6" stroke-width="1.15"/>
<ellipse cx="300.8" cy="429.7" rx="2.75" ry="1.85" fill="none" stroke="#5c6cc6" stroke-width="1.15"/>
<ellipse cx="304.4" cy="430.1" rx="2.75" ry="1.85" fill="none" stroke="#5c6cc6" stroke-width="1.15"/>
<ellipse cx="311.6" cy="429.8" rx="2.75" ry="1.85" fill="none" stroke="#5c6cc6" stroke-width="1.15"/>
<ellipse cx="142.5" cy="380.4" rx="2.75" ry="1.85" fill="none" stroke="#5c6cc6" stroke-width="1.15"/>
<ellipse cx="184.2" cy="377.3" rx="2.75" ry="1.85" fill="none" stroke="#5c6cc6" stroke-width="1.15"/>
<ellipse cx="171.6" cy="379.8" rx="2.75" ry="1.85" fill="none" stroke="#5c6cc6" stroke-width="1.15"/>
<ellipse cx="214.7" cy="391.6" rx="2.75" ry="1.85" fill="none" stroke="#5c6cc6" stroke-width="1.15"/>
<ellipse cx="160.2" cy="378.8" rx="2.75" ry="1.85" fill="none" stroke="#5c6cc6" stroke-width="1.15"/>
<ellipse cx="202.8" cy="374.0" rx="2.75" ry="1.85" fill="none" stroke="#5c6cc6" stroke-width="1.15"/>
<ellipse cx="166.8" cy="375.5" rx="2.75" ry="1.85" fill="none" stroke="#5c6cc6" stroke-width="1.15"/>
<ellipse cx="144.4" cy="379.2" rx="2.75" ry="1.85" fill="none" stroke="#5c6cc6" stroke-width="1.15"/>
<ellipse cx="112.5" cy="361.2" rx="2.75" ry="1.85" fill="none" stroke="#56b45a" stroke-width="1.15"/>
<ellipse cx="144.1" cy="376.0" rx="2.75" ry="1.85" fill="none" stroke="#56b45a" stroke-width="1.15"/>
<ellipse cx="146.3" cy="377.5" rx="2.75" ry="1.85" fill="none" stroke="#56b45a" stroke-width="1.15"/>
<ellipse cx="138.9" cy="385.4" rx="2.75" ry="1.85" fill="none" stroke="#56b45a" stroke-width="1.15"/>
<ellipse cx="129.2" cy="387.9" rx="2.75" ry="1.85" fill="none" stroke="#56b45a" stroke-width="1.15"/>
<ellipse cx="142.6" cy="387.2" rx="2.75" ry="1.85" fill="none" stroke="#56b45a" stroke-width="1.15"/>
<ellipse cx="167.9" cy="373.8" rx="2.75" ry="1.85" fill="none" stroke="#56b45a" stroke-width="1.15"/>
<ellipse cx="170.8" cy="376.8" rx="2.75" ry="1.85" fill="none" stroke="#56b45a" stroke-width="1.15"/>
<ellipse cx="161.9" cy="380.5" rx="2.75" ry="1.85" fill="none" stroke="#56b45a" stroke-width="1.15"/>
<ellipse cx="167.9" cy="381.2" rx="2.75" ry="1.85" fill="none" stroke="#56b45a" stroke-width="1.15"/>
<ellipse cx="150.8" cy="382.0" rx="2.75" ry="1.85" fill="none" stroke="#56b45a" stroke-width="1.15"/>
<ellipse cx="154.5" cy="384.2" rx="2.75" ry="1.85" fill="none" stroke="#56b45a" stroke-width="1.15"/>
<ellipse cx="163.4" cy="384.9" rx="2.75" ry="1.85" fill="none" stroke="#56b45a" stroke-width="1.15"/>
<ellipse cx="170.8" cy="384.9" rx="2.75" ry="1.85" fill="none" stroke="#56b45a" stroke-width="1.15"/>
<ellipse cx="173.8" cy="383.5" rx="2.75" ry="1.85" fill="none" stroke="#56b45a" stroke-width="1.15"/>
<ellipse cx="147.8" cy="387.2" rx="2.75" ry="1.85" fill="none" stroke="#56b45a" stroke-width="1.15"/>
<ellipse cx="151.5" cy="388.7" rx="2.75" ry="1.85" fill="none" stroke="#56b45a" stroke-width="1.15"/>
<ellipse cx="158.9" cy="387.9" rx="2.75" ry="1.85" fill="none" stroke="#56b45a" stroke-width="1.15"/>
<ellipse cx="163.4" cy="388.7" rx="2.75" ry="1.85" fill="none" stroke="#56b45a" stroke-width="1.15"/>
<ellipse cx="171.6" cy="388.7" rx="2.75" ry="1.85" fill="none" stroke="#56b45a" stroke-width="1.15"/>
<ellipse cx="150.0" cy="391.6" rx="2.75" ry="1.85" fill="none" stroke="#56b45a" stroke-width="1.15"/>
<ellipse cx="157.5" cy="391.6" rx="2.75" ry="1.85" fill="none" stroke="#56b45a" stroke-width="1.15"/>
<ellipse cx="161.9" cy="392.4" rx="2.75" ry="1.85" fill="none" stroke="#56b45a" stroke-width="1.15"/>
<ellipse cx="169.3" cy="392.4" rx="2.75" ry="1.85" fill="none" stroke="#56b45a" stroke-width="1.15"/>
<ellipse cx="148.5" cy="395.4" rx="2.75" ry="1.85" fill="none" stroke="#56b45a" stroke-width="1.15"/>
<ellipse cx="153.7" cy="396.1" rx="2.75" ry="1.85" fill="none" stroke="#56b45a" stroke-width="1.15"/>
<ellipse cx="164.1" cy="396.1" rx="2.75" ry="1.85" fill="none" stroke="#56b45a" stroke-width="1.15"/>
<ellipse cx="172.3" cy="396.1" rx="2.75" ry="1.85" fill="none" stroke="#56b45a" stroke-width="1.15"/>
<ellipse cx="156.0" cy="399.1" rx="2.75" ry="1.85" fill="none" stroke="#56b45a" stroke-width="1.15"/>
<ellipse cx="167.9" cy="399.1" rx="2.75" ry="1.85" fill="none" stroke="#56b45a" stroke-width="1.15"/>
<ellipse cx="176.5" cy="374.5" rx="2.75" ry="1.85" fill="none" stroke="#56b45a" stroke-width="1.15"/>
<ellipse cx="183.2" cy="373.8" rx="2.75" ry="1.85" fill="none" stroke="#56b45a" stroke-width="1.15"/>
<ellipse cx="229.3" cy="373.8" rx="2.75" ry="1.85" fill="none" stroke="#56b45a" stroke-width="1.15"/>
<ellipse cx="241.2" cy="376.8" rx="2.75" ry="1.85" fill="none" stroke="#56b45a" stroke-width="1.15"/>
<ellipse cx="178.0" cy="379.0" rx="2.75" ry="1.85" fill="none" stroke="#56b45a" stroke-width="1.15"/>
<ellipse cx="186.9" cy="379.0" rx="2.75" ry="1.85" fill="none" stroke="#56b45a" stroke-width="1.15"/>
<ellipse cx="191.4" cy="379.0" rx="2.75" ry="1.85" fill="none" stroke="#56b45a" stroke-width="1.15"/>
<ellipse cx="202.5" cy="381.2" rx="2.75" ry="1.85" fill="none" stroke="#56b45a" stroke-width="1.15"/>
<ellipse cx="213.7" cy="381.2" rx="2.75" ry="1.85" fill="none" stroke="#56b45a" stroke-width="1.15"/>
<ellipse cx="222.6" cy="380.9" rx="2.75" ry="1.85" fill="none" stroke="#56b45a" stroke-width="1.15"/>
<ellipse cx="237.5" cy="384.9" rx="2.75" ry="1.85" fill="none" stroke="#56b45a" stroke-width="1.15"/>
<ellipse cx="177.2" cy="384.2" rx="2.75" ry="1.85" fill="none" stroke="#56b45a" stroke-width="1.15"/>
<ellipse cx="183.9" cy="383.5" rx="2.75" ry="1.85" fill="none" stroke="#56b45a" stroke-width="1.15"/>
<ellipse cx="192.8" cy="384.9" rx="2.75" ry="1.85" fill="none" stroke="#56b45a" stroke-width="1.15"/>
<ellipse cx="210.7" cy="385.7" rx="2.75" ry="1.85" fill="none" stroke="#56b45a" stroke-width="1.15"/>
<ellipse cx="215.9" cy="386.4" rx="2.75" ry="1.85" fill="none" stroke="#56b45a" stroke-width="1.15"/>
<ellipse cx="236.0" cy="387.9" rx="2.75" ry="1.85" fill="none" stroke="#56b45a" stroke-width="1.15"/>
<ellipse cx="240.4" cy="388.7" rx="2.75" ry="1.85" fill="none" stroke="#56b45a" stroke-width="1.15"/>
<ellipse cx="176.5" cy="389.4" rx="2.75" ry="1.85" fill="none" stroke="#56b45a" stroke-width="1.15"/>
<ellipse cx="181.7" cy="390.1" rx="2.75" ry="1.85" fill="none" stroke="#56b45a" stroke-width="1.15"/>
<ellipse cx="189.9" cy="390.1" rx="2.75" ry="1.85" fill="none" stroke="#56b45a" stroke-width="1.15"/>
<ellipse cx="199.5" cy="389.4" rx="2.75" ry="1.85" fill="none" stroke="#56b45a" stroke-width="1.15"/>
<ellipse cx="206.2" cy="390.1" rx="2.75" ry="1.85" fill="none" stroke="#56b45a" stroke-width="1.15"/>
<ellipse cx="210.7" cy="389.4" rx="2.75" ry="1.85" fill="none" stroke="#56b45a" stroke-width="1.15"/>
<ellipse cx="215.1" cy="391.6" rx="2.75" ry="1.85" fill="none" stroke="#56b45a" stroke-width="1.15"/>
<ellipse cx="219.6" cy="389.4" rx="2.75" ry="1.85" fill="none" stroke="#56b45a" stroke-width="1.15"/>
<ellipse cx="231.5" cy="393.1" rx="2.75" ry="1.85" fill="none" stroke="#56b45a" stroke-width="1.15"/>
<ellipse cx="236.0" cy="392.4" rx="2.75" ry="1.85" fill="none" stroke="#56b45a" stroke-width="1.15"/>
<ellipse cx="178.0" cy="394.6" rx="2.75" ry="1.85" fill="none" stroke="#56b45a" stroke-width="1.15"/>
<ellipse cx="194.3" cy="394.6" rx="2.75" ry="1.85" fill="none" stroke="#56b45a" stroke-width="1.15"/>
<ellipse cx="207.0" cy="394.6" rx="2.75" ry="1.85" fill="none" stroke="#56b45a" stroke-width="1.15"/>
<ellipse cx="213.7" cy="394.6" rx="2.75" ry="1.85" fill="none" stroke="#56b45a" stroke-width="1.15"/>
<ellipse cx="218.1" cy="394.6" rx="2.75" ry="1.85" fill="none" stroke="#56b45a" stroke-width="1.15"/>
<ellipse cx="222.6" cy="395.4" rx="2.75" ry="1.85" fill="none" stroke="#56b45a" stroke-width="1.15"/>
<ellipse cx="233.7" cy="396.1" rx="2.75" ry="1.85" fill="none" stroke="#56b45a" stroke-width="1.15"/>
<ellipse cx="244.9" cy="395.4" rx="2.75" ry="1.85" fill="none" stroke="#56b45a" stroke-width="1.15"/>
<ellipse cx="253.1" cy="394.6" rx="2.75" ry="1.85" fill="none" stroke="#56b45a" stroke-width="1.15"/>
<ellipse cx="179.5" cy="398.3" rx="2.75" ry="1.85" fill="none" stroke="#56b45a" stroke-width="1.15"/>
<ellipse cx="229.3" cy="398.3" rx="2.75" ry="1.85" fill="none" stroke="#56b45a" stroke-width="1.15"/>
<ellipse cx="313.0" cy="371.9" rx="2.75" ry="1.85" fill="none" stroke="#56b45a" stroke-width="1.15"/>
<ellipse cx="255.7" cy="396.8" rx="2.75" ry="1.85" fill="none" stroke="#56b45a" stroke-width="1.15"/>
<ellipse cx="343.3" cy="365.4" rx="2.75" ry="1.85" fill="none" stroke="#56b45a" stroke-width="1.15"/>
<ellipse cx="384.6" cy="398.5" rx="2.75" ry="1.85" fill="none" stroke="#56b45a" stroke-width="1.15"/>
<ellipse cx="138.1" cy="401.2" rx="2.75" ry="1.85" fill="none" stroke="#56b45a" stroke-width="1.15"/>
<ellipse cx="144.8" cy="402.2" rx="2.75" ry="1.85" fill="none" stroke="#56b45a" stroke-width="1.15"/>
<ellipse cx="167.1" cy="401.8" rx="2.75" ry="1.85" fill="none" stroke="#56b45a" stroke-width="1.15"/>
<ellipse cx="147.8" cy="414.9" rx="2.75" ry="1.85" fill="none" stroke="#56b45a" stroke-width="1.15"/>
<ellipse cx="152.2" cy="411.9" rx="2.75" ry="1.85" fill="none" stroke="#56b45a" stroke-width="1.15"/>
<ellipse cx="157.5" cy="412.6" rx="2.75" ry="1.85" fill="none" stroke="#56b45a" stroke-width="1.15"/>
<ellipse cx="161.2" cy="414.1" rx="2.75" ry="1.85" fill="none" stroke="#56b45a" stroke-width="1.15"/>
<ellipse cx="142.6" cy="419.3" rx="2.75" ry="1.85" fill="none" stroke="#56b45a" stroke-width="1.15"/>
<ellipse cx="155.2" cy="417.1" rx="2.75" ry="1.85" fill="none" stroke="#56b45a" stroke-width="1.15"/>
<ellipse cx="160.4" cy="418.6" rx="2.75" ry="1.85" fill="none" stroke="#56b45a" stroke-width="1.15"/>
<ellipse cx="164.9" cy="419.3" rx="2.75" ry="1.85" fill="none" stroke="#56b45a" stroke-width="1.15"/>
<ellipse cx="158.9" cy="422.3" rx="2.75" ry="1.85" fill="none" stroke="#56b45a" stroke-width="1.15"/>
<ellipse cx="147.0" cy="430.0" rx="2.75" ry="1.85" fill="none" stroke="#56b45a" stroke-width="1.15"/>
<ellipse cx="161.9" cy="430.9" rx="2.75" ry="1.85" fill="none" stroke="#56b45a" stroke-width="1.15"/>
<ellipse cx="155.2" cy="441.3" rx="2.75" ry="1.85" fill="none" stroke="#56b45a" stroke-width="1.15"/>
<ellipse cx="165.6" cy="444.3" rx="2.75" ry="1.85" fill="none" stroke="#56b45a" stroke-width="1.15"/>
<ellipse cx="170.1" cy="443.9" rx="2.75" ry="1.85" fill="none" stroke="#56b45a" stroke-width="1.15"/>
<ellipse cx="177.2" cy="401.5" rx="2.75" ry="1.85" fill="none" stroke="#56b45a" stroke-width="1.15"/>
<ellipse cx="207.0" cy="401.2" rx="2.75" ry="1.85" fill="none" stroke="#56b45a" stroke-width="1.15"/>
<ellipse cx="187.6" cy="408.9" rx="2.75" ry="1.85" fill="none" stroke="#56b45a" stroke-width="1.15"/>
<ellipse cx="215.1" cy="405.9" rx="2.75" ry="1.85" fill="none" stroke="#56b45a" stroke-width="1.15"/>
<ellipse cx="224.1" cy="404.5" rx="2.75" ry="1.85" fill="none" stroke="#56b45a" stroke-width="1.15"/>
<ellipse cx="237.5" cy="405.9" rx="2.75" ry="1.85" fill="none" stroke="#56b45a" stroke-width="1.15"/>
<ellipse cx="250.8" cy="401.5" rx="2.75" ry="1.85" fill="none" stroke="#56b45a" stroke-width="1.15"/>
<ellipse cx="203.3" cy="408.9" rx="2.75" ry="1.85" fill="none" stroke="#56b45a" stroke-width="1.15"/>
<ellipse cx="230.8" cy="411.2" rx="2.75" ry="1.85" fill="none" stroke="#56b45a" stroke-width="1.15"/>
<ellipse cx="229.3" cy="414.1" rx="2.75" ry="1.85" fill="none" stroke="#56b45a" stroke-width="1.15"/>
<ellipse cx="248.6" cy="411.9" rx="2.75" ry="1.85" fill="none" stroke="#56b45a" stroke-width="1.15"/>
<ellipse cx="177.2" cy="420.8" rx="2.75" ry="1.85" fill="none" stroke="#56b45a" stroke-width="1.15"/>
<ellipse cx="193.6" cy="422.3" rx="2.75" ry="1.85" fill="none" stroke="#56b45a" stroke-width="1.15"/>
<ellipse cx="207.0" cy="423.0" rx="2.75" ry="1.85" fill="none" stroke="#56b45a" stroke-width="1.15"/>
<ellipse cx="202.5" cy="425.3" rx="2.75" ry="1.85" fill="none" stroke="#56b45a" stroke-width="1.15"/>
<ellipse cx="236.0" cy="422.3" rx="2.75" ry="1.85" fill="none" stroke="#56b45a" stroke-width="1.15"/>
<ellipse cx="238.2" cy="425.3" rx="2.75" ry="1.85" fill="none" stroke="#56b45a" stroke-width="1.15"/>
<ellipse cx="180.9" cy="429.7" rx="2.75" ry="1.85" fill="none" stroke="#56b45a" stroke-width="1.15"/>
<ellipse cx="194.3" cy="429.7" rx="2.75" ry="1.85" fill="none" stroke="#56b45a" stroke-width="1.15"/>
<ellipse cx="198.8" cy="429.7" rx="2.75" ry="1.85" fill="none" stroke="#56b45a" stroke-width="1.15"/>
<ellipse cx="203.3" cy="429.7" rx="2.75" ry="1.85" fill="none" stroke="#56b45a" stroke-width="1.15"/>
<ellipse cx="207.7" cy="429.7" rx="2.75" ry="1.85" fill="none" stroke="#56b45a" stroke-width="1.15"/>
<ellipse cx="212.2" cy="429.7" rx="2.75" ry="1.85" fill="none" stroke="#56b45a" stroke-width="1.15"/>
<ellipse cx="216.6" cy="429.7" rx="2.75" ry="1.85" fill="none" stroke="#56b45a" stroke-width="1.15"/>
<ellipse cx="222.6" cy="429.7" rx="2.75" ry="1.85" fill="none" stroke="#56b45a" stroke-width="1.15"/>
<ellipse cx="227.0" cy="429.7" rx="2.75" ry="1.85" fill="none" stroke="#56b45a" stroke-width="1.15"/>
<ellipse cx="234.5" cy="429.7" rx="2.75" ry="1.85" fill="none" stroke="#56b45a" stroke-width="1.15"/>
<ellipse cx="243.4" cy="429.7" rx="2.75" ry="1.85" fill="none" stroke="#56b45a" stroke-width="1.15"/>
<ellipse cx="252.3" cy="429.7" rx="2.75" ry="1.85" fill="none" stroke="#56b45a" stroke-width="1.15"/>
<ellipse cx="218.1" cy="434.2" rx="2.75" ry="1.85" fill="none" stroke="#56b45a" stroke-width="1.15"/>
<ellipse cx="221.1" cy="432.7" rx="2.75" ry="1.85" fill="none" stroke="#56b45a" stroke-width="1.15"/>
<ellipse cx="183.9" cy="438.7" rx="2.75" ry="1.85" fill="none" stroke="#56b45a" stroke-width="1.15"/>
<ellipse cx="192.1" cy="437.9" rx="2.75" ry="1.85" fill="none" stroke="#56b45a" stroke-width="1.15"/>
<ellipse cx="188.4" cy="443.1" rx="2.75" ry="1.85" fill="none" stroke="#56b45a" stroke-width="1.15"/>
<ellipse cx="204.0" cy="440.1" rx="2.75" ry="1.85" fill="none" stroke="#56b45a" stroke-width="1.15"/>
<ellipse cx="199.5" cy="444.6" rx="2.75" ry="1.85" fill="none" stroke="#56b45a" stroke-width="1.15"/>
<ellipse cx="226.3" cy="443.9" rx="2.75" ry="1.85" fill="none" stroke="#56b45a" stroke-width="1.15"/>
<ellipse cx="243.4" cy="443.9" rx="2.75" ry="1.85" fill="none" stroke="#56b45a" stroke-width="1.15"/>
<ellipse cx="235.2" cy="446.8" rx="2.75" ry="1.85" fill="none" stroke="#56b45a" stroke-width="1.15"/>
<ellipse cx="194.3" cy="447.6" rx="2.75" ry="1.85" fill="none" stroke="#56b45a" stroke-width="1.15"/>
<ellipse cx="207.0" cy="448.3" rx="2.75" ry="1.85" fill="none" stroke="#56b45a" stroke-width="1.15"/>
<ellipse cx="272.8" cy="401.8" rx="2.75" ry="1.85" fill="none" stroke="#56b45a" stroke-width="1.15"/>
<ellipse cx="291.4" cy="413.1" rx="2.75" ry="1.85" fill="none" stroke="#56b45a" stroke-width="1.15"/>
<ellipse cx="259.5" cy="414.1" rx="2.75" ry="1.85" fill="none" stroke="#56b45a" stroke-width="1.15"/>
<ellipse cx="261.7" cy="417.5" rx="2.75" ry="1.85" fill="none" stroke="#56b45a" stroke-width="1.15"/>
<ellipse cx="259.5" cy="429.7" rx="2.75" ry="1.85" fill="none" stroke="#56b45a" stroke-width="1.15"/>
<ellipse cx="263.9" cy="429.7" rx="2.75" ry="1.85" fill="none" stroke="#56b45a" stroke-width="1.15"/>
<ellipse cx="271.4" cy="429.7" rx="2.75" ry="1.85" fill="none" stroke="#56b45a" stroke-width="1.15"/>
<ellipse cx="283.3" cy="429.7" rx="2.75" ry="1.85" fill="none" stroke="#56b45a" stroke-width="1.15"/>
<ellipse cx="297.4" cy="429.7" rx="2.75" ry="1.85" fill="none" stroke="#56b45a" stroke-width="1.15"/>
<ellipse cx="302.6" cy="429.7" rx="2.75" ry="1.85" fill="none" stroke="#56b45a" stroke-width="1.15"/>
<ellipse cx="260.2" cy="434.9" rx="2.75" ry="1.85" fill="none" stroke="#56b45a" stroke-width="1.15"/>
<ellipse cx="260.9" cy="443.9" rx="2.75" ry="1.85" fill="none" stroke="#56b45a" stroke-width="1.15"/>
<ellipse cx="260.2" cy="447.6" rx="2.75" ry="1.85" fill="none" stroke="#56b45a" stroke-width="1.15"/>
<ellipse cx="165.6" cy="453.0" rx="2.75" ry="1.85" fill="none" stroke="#56b45a" stroke-width="1.15"/>
<ellipse cx="147.3" cy="468.4" rx="2.75" ry="1.85" fill="none" stroke="#56b45a" stroke-width="1.15"/>
<ellipse cx="160.4" cy="477.7" rx="2.75" ry="1.85" fill="none" stroke="#56b45a" stroke-width="1.15"/>
<ellipse cx="216.6" cy="451.5" rx="2.75" ry="1.85" fill="none" stroke="#56b45a" stroke-width="1.15"/>
<ellipse cx="224.1" cy="450.7" rx="2.75" ry="1.85" fill="none" stroke="#56b45a" stroke-width="1.15"/>
<ellipse cx="238.9" cy="452.2" rx="2.75" ry="1.85" fill="none" stroke="#56b45a" stroke-width="1.15"/>
<ellipse cx="233.7" cy="455.9" rx="2.75" ry="1.85" fill="none" stroke="#56b45a" stroke-width="1.15"/>
<ellipse cx="209.9" cy="456.7" rx="2.75" ry="1.85" fill="none" stroke="#56b45a" stroke-width="1.15"/>
<ellipse cx="224.1" cy="458.9" rx="2.75" ry="1.85" fill="none" stroke="#56b45a" stroke-width="1.15"/>
<ellipse cx="232.2" cy="458.9" rx="2.75" ry="1.85" fill="none" stroke="#56b45a" stroke-width="1.15"/>
<ellipse cx="198.8" cy="465.6" rx="2.75" ry="1.85" fill="none" stroke="#56b45a" stroke-width="1.15"/>
<ellipse cx="209.9" cy="464.9" rx="2.75" ry="1.85" fill="none" stroke="#56b45a" stroke-width="1.15"/>
<ellipse cx="224.1" cy="466.4" rx="2.75" ry="1.85" fill="none" stroke="#56b45a" stroke-width="1.15"/>
<ellipse cx="236.7" cy="462.6" rx="2.75" ry="1.85" fill="none" stroke="#56b45a" stroke-width="1.15"/>
<ellipse cx="244.1" cy="465.6" rx="2.75" ry="1.85" fill="none" stroke="#56b45a" stroke-width="1.15"/>
<ellipse cx="250.1" cy="464.1" rx="2.75" ry="1.85" fill="none" stroke="#56b45a" stroke-width="1.15"/>
<ellipse cx="253.1" cy="464.9" rx="2.75" ry="1.85" fill="none" stroke="#56b45a" stroke-width="1.15"/>
<ellipse cx="227.8" cy="469.3" rx="2.75" ry="1.85" fill="none" stroke="#56b45a" stroke-width="1.15"/>
<ellipse cx="237.5" cy="469.3" rx="2.75" ry="1.85" fill="none" stroke="#56b45a" stroke-width="1.15"/>
<ellipse cx="247.1" cy="470.8" rx="2.75" ry="1.85" fill="none" stroke="#56b45a" stroke-width="1.15"/>
<ellipse cx="250.1" cy="473.8" rx="2.75" ry="1.85" fill="none" stroke="#56b45a" stroke-width="1.15"/>
<ellipse cx="182.4" cy="475.3" rx="2.75" ry="1.85" fill="none" stroke="#56b45a" stroke-width="1.15"/>
<ellipse cx="195.8" cy="474.1" rx="2.75" ry="1.85" fill="none" stroke="#56b45a" stroke-width="1.15"/>
<ellipse cx="208.5" cy="477.5" rx="2.75" ry="1.85" fill="none" stroke="#56b45a" stroke-width="1.15"/>
<ellipse cx="214.0" cy="474.1" rx="2.75" ry="1.85" fill="none" stroke="#56b45a" stroke-width="1.15"/>
<ellipse cx="236.0" cy="474.5" rx="2.75" ry="1.85" fill="none" stroke="#56b45a" stroke-width="1.15"/>
<ellipse cx="233.7" cy="472.3" rx="2.75" ry="1.85" fill="none" stroke="#56b45a" stroke-width="1.15"/>
<ellipse cx="235.2" cy="486.4" rx="2.75" ry="1.85" fill="none" stroke="#56b45a" stroke-width="1.15"/>
<ellipse cx="260.7" cy="454.8" rx="2.75" ry="1.85" fill="none" stroke="#56b45a" stroke-width="1.15"/>
<ellipse cx="269.1" cy="458.9" rx="2.75" ry="1.85" fill="none" stroke="#56b45a" stroke-width="1.15"/>
<ellipse cx="268.7" cy="475.0" rx="2.75" ry="1.85" fill="none" stroke="#56b45a" stroke-width="1.15"/>
<ellipse cx="275.8" cy="472.3" rx="2.75" ry="1.85" fill="none" stroke="#56b45a" stroke-width="1.15"/>
<ellipse cx="276.6" cy="498.8" rx="2.75" ry="1.85" fill="none" stroke="#56b45a" stroke-width="1.15"/>
<ellipse cx="202.0" cy="523.7" rx="2.75" ry="1.85" fill="none" stroke="#56b45a" stroke-width="1.15"/>
<ellipse cx="174.0" cy="430.0" rx="2.75" ry="1.85" fill="none" stroke="#56b45a" stroke-width="1.15"/>
<ellipse cx="181.0" cy="430.1" rx="2.75" ry="1.85" fill="none" stroke="#56b45a" stroke-width="1.15"/>
<ellipse cx="188.0" cy="429.5" rx="2.75" ry="1.85" fill="none" stroke="#56b45a" stroke-width="1.15"/>
<ellipse cx="195.0" cy="429.6" rx="2.75" ry="1.85" fill="none" stroke="#56b45a" stroke-width="1.15"/>
<ellipse cx="202.0" cy="429.7" rx="2.75" ry="1.85" fill="none" stroke="#56b45a" stroke-width="1.15"/>
<ellipse cx="206.4" cy="429.6" rx="2.75" ry="1.85" fill="none" stroke="#56b45a" stroke-width="1.15"/>
<ellipse cx="208.6" cy="429.8" rx="2.75" ry="1.85" fill="none" stroke="#56b45a" stroke-width="1.15"/>
<ellipse cx="210.8" cy="429.7" rx="2.75" ry="1.85" fill="none" stroke="#56b45a" stroke-width="1.15"/>
<ellipse cx="215.2" cy="429.9" rx="2.75" ry="1.85" fill="none" stroke="#56b45a" stroke-width="1.15"/>
<ellipse cx="217.4" cy="429.9" rx="2.75" ry="1.85" fill="none" stroke="#56b45a" stroke-width="1.15"/>
<ellipse cx="219.6" cy="430.1" rx="2.75" ry="1.85" fill="none" stroke="#56b45a" stroke-width="1.15"/>
<ellipse cx="224.0" cy="430.1" rx="2.75" ry="1.85" fill="none" stroke="#56b45a" stroke-width="1.15"/>
<ellipse cx="228.4" cy="430.2" rx="2.75" ry="1.85" fill="none" stroke="#56b45a" stroke-width="1.15"/>
<ellipse cx="232.8" cy="429.5" rx="2.75" ry="1.85" fill="none" stroke="#56b45a" stroke-width="1.15"/>
<ellipse cx="237.2" cy="430.2" rx="2.75" ry="1.85" fill="none" stroke="#56b45a" stroke-width="1.15"/>
<ellipse cx="241.6" cy="429.9" rx="2.75" ry="1.85" fill="none" stroke="#56b45a" stroke-width="1.15"/>
<ellipse cx="246.0" cy="429.6" rx="2.75" ry="1.85" fill="none" stroke="#56b45a" stroke-width="1.15"/>
<ellipse cx="250.4" cy="429.9" rx="2.75" ry="1.85" fill="none" stroke="#56b45a" stroke-width="1.15"/>
<ellipse cx="264.8" cy="430.0" rx="2.75" ry="1.85" fill="none" stroke="#56b45a" stroke-width="1.15"/>
<ellipse cx="275.6" cy="429.6" rx="2.75" ry="1.85" fill="none" stroke="#56b45a" stroke-width="1.15"/>
<ellipse cx="286.4" cy="429.4" rx="2.75" ry="1.85" fill="none" stroke="#56b45a" stroke-width="1.15"/>
<ellipse cx="297.2" cy="430.0" rx="2.75" ry="1.85" fill="none" stroke="#56b45a" stroke-width="1.15"/>
<ellipse cx="308.0" cy="430.2" rx="2.75" ry="1.85" fill="none" stroke="#56b45a" stroke-width="1.15"/>
<ellipse cx="179.8" cy="393.4" rx="2.75" ry="1.85" fill="none" stroke="#56b45a" stroke-width="1.15"/>
<ellipse cx="175.6" cy="386.3" rx="2.75" ry="1.85" fill="none" stroke="#56b45a" stroke-width="1.15"/>
<ellipse cx="176.0" cy="387.2" rx="2.75" ry="1.85" fill="none" stroke="#56b45a" stroke-width="1.15"/>
<ellipse cx="199.8" cy="388.6" rx="2.75" ry="1.85" fill="none" stroke="#56b45a" stroke-width="1.15"/>
<ellipse cx="213.6" cy="394.3" rx="2.75" ry="1.85" fill="none" stroke="#56b45a" stroke-width="1.15"/>
<ellipse cx="177.3" cy="375.3" rx="2.75" ry="1.85" fill="none" stroke="#56b45a" stroke-width="1.15"/>
<ellipse cx="154.4" cy="374.6" rx="2.75" ry="1.85" fill="none" stroke="#56b45a" stroke-width="1.15"/>
<ellipse cx="170.2" cy="391.7" rx="2.75" ry="1.85" fill="none" stroke="#56b45a" stroke-width="1.15"/>
<ellipse cx="186.2" cy="384.5" rx="2.75" ry="1.85" fill="none" stroke="#56b45a" stroke-width="1.15"/>
<ellipse cx="140.6" cy="390.1" rx="2.75" ry="1.85" fill="none" stroke="#56b45a" stroke-width="1.15"/>
<ellipse cx="202.7" cy="382.1" rx="2.75" ry="1.85" fill="none" stroke="#56b45a" stroke-width="1.15"/>
<ellipse cx="207.8" cy="383.9" rx="2.75" ry="1.85" fill="none" stroke="#56b45a" stroke-width="1.15"/>
<ellipse cx="197.3" cy="379.7" rx="2.75" ry="1.85" fill="none" stroke="#56b45a" stroke-width="1.15"/>
<ellipse cx="161.6" cy="394.2" rx="2.75" ry="1.85" fill="none" stroke="#56b45a" stroke-width="1.15"/>
<ellipse cx="139.8" cy="390.7" rx="2.75" ry="1.85" fill="none" stroke="#56b45a" stroke-width="1.15"/>
<ellipse cx="179.7" cy="383.4" rx="2.75" ry="1.85" fill="none" stroke="#56b45a" stroke-width="1.15"/>
<ellipse cx="193.6" cy="376.8" rx="2.75" ry="1.85" fill="none" stroke="#56b45a" stroke-width="1.15"/>
<line x1="64" y1="383.6" x2="424" y2="464.8" stroke="#5c6cc6" stroke-width="1"/>
<line x1="64" y1="380.4" x2="424" y2="474.8" stroke="#56b45a" stroke-width="1"/>
</g>
<line x1="423.25" y1="309.1" x2="423.25" y2="556.4" stroke="#fbfbfd" stroke-width="1"/>
<line x1="64" y1="555.3" x2="424.4" y2="555.3" stroke="#f8f8fc" stroke-width="1"/>
<line x1="63.3" y1="309.1" x2="425.04999999999995" y2="309.1" stroke="#9a9a9a" stroke-width="1.3"/>
<line x1="63.3" y1="556.4" x2="425.04999999999995" y2="556.4" stroke="#555555" stroke-width="1.2"/>
<line x1="64" y1="308.45000000000005" x2="64" y2="557.0" stroke="#707070" stroke-width="1.4"/>
<line x1="424.4" y1="308.45000000000005" x2="424.4" y2="557.0" stroke="#555555" stroke-width="1.3"/>
<line x1="58.5" y1="321.59999999999997" x2="63.8" y2="321.59999999999997" stroke="#555" stroke-width="0.9"/>
<text x="35.70" y="324.90" font-size="6.0" font-family='"Liberation Sans", sans-serif' fill="#2a2a2a" textLength="22.30" lengthAdjust="spacingAndGlyphs" stroke="#2a2a2a" stroke-width="0.3">50.00</text>
<line x1="58.5" y1="366.15999999999997" x2="63.8" y2="366.15999999999997" stroke="#555" stroke-width="0.9"/>
<text x="35.70" y="369.30" font-size="6.0" font-family='"Liberation Sans", sans-serif' fill="#2a2a2a" textLength="22.30" lengthAdjust="spacingAndGlyphs" stroke="#2a2a2a" stroke-width="0.3">40.00</text>
<line x1="58.5" y1="410.71999999999997" x2="63.8" y2="410.71999999999997" stroke="#555" stroke-width="0.9"/>
<text x="35.70" y="413.80" font-size="6.0" font-family='"Liberation Sans", sans-serif' fill="#2a2a2a" textLength="22.30" lengthAdjust="spacingAndGlyphs" stroke="#2a2a2a" stroke-width="0.3">30.00</text>
<line x1="58.5" y1="455.28" x2="63.8" y2="455.28" stroke="#555" stroke-width="0.9"/>
<text x="35.70" y="458.30" font-size="6.0" font-family='"Liberation Sans", sans-serif' fill="#2a2a2a" textLength="22.30" lengthAdjust="spacingAndGlyphs" stroke="#2a2a2a" stroke-width="0.3">20.00</text>
<line x1="58.5" y1="499.84" x2="63.8" y2="499.84" stroke="#555" stroke-width="0.9"/>
<text x="35.70" y="502.80" font-size="6.0" font-family='"Liberation Sans", sans-serif' fill="#2a2a2a" textLength="22.30" lengthAdjust="spacingAndGlyphs" stroke="#2a2a2a" stroke-width="0.3">10.00</text>
<line x1="58.5" y1="544.4" x2="63.8" y2="544.4" stroke="#555" stroke-width="0.9"/>
<text x="45.61" y="547.30" font-size="6.0" font-family='"Liberation Sans", sans-serif' fill="#2a2a2a" textLength="12.39" lengthAdjust="spacingAndGlyphs" stroke="#2a2a2a" stroke-width="0.3">.00</text>
<line x1="108.9" y1="556.4" x2="108.9" y2="559.9" stroke="#555" stroke-width="0.9"/>
<text x="102.91" y="565.90" font-size="6.0" font-family='"Liberation Sans", sans-serif' fill="#2a2a2a" textLength="12.57" lengthAdjust="spacingAndGlyphs" stroke="#2a2a2a" stroke-width="0.3">.50</text>
<line x1="176.6" y1="556.4" x2="176.6" y2="559.9" stroke="#555" stroke-width="0.9"/>
<text x="170.61" y="565.90" font-size="6.0" font-family='"Liberation Sans", sans-serif' fill="#2a2a2a" textLength="12.57" lengthAdjust="spacingAndGlyphs" stroke="#2a2a2a" stroke-width="0.3">.75</text>
<line x1="244.3" y1="556.4" x2="244.3" y2="559.9" stroke="#555" stroke-width="0.9"/>
<text x="235.80" y="565.90" font-size="6.0" font-family='"Liberation Sans", sans-serif' fill="#2a2a2a" textLength="17.60" lengthAdjust="spacingAndGlyphs" stroke="#2a2a2a" stroke-width="0.3">1.00</text>
<line x1="312" y1="556.4" x2="312" y2="559.9" stroke="#555" stroke-width="0.9"/>
<text x="303.50" y="565.90" font-size="6.0" font-family='"Liberation Sans", sans-serif' fill="#2a2a2a" textLength="17.60" lengthAdjust="spacingAndGlyphs" stroke="#2a2a2a" stroke-width="0.3">1.25</text>
<line x1="379.3" y1="556.4" x2="379.3" y2="559.9" stroke="#555" stroke-width="0.9"/>
<text x="370.80" y="565.90" font-size="6.0" font-family='"Liberation Sans", sans-serif' fill="#2a2a2a" textLength="17.60" lengthAdjust="spacingAndGlyphs" stroke="#2a2a2a" stroke-width="0.3">1.50</text>
<text x="206.90" y="596.00" font-size="12.6" font-family='"Liberation Serif", serif' fill="#111" textLength="84.10" lengthAdjust="spacingAndGlyphs">BMD-LS &amp; FN</text>
<g transform="translate(18.2,459.2) rotate(-90)"><text x="0.00" y="0.00" font-size="13.5" font-family='"Liberation Serif", serif' fill="#111" textLength="65.00" lengthAdjust="spacingAndGlyphs">Osteopontin</text></g>
<text x="315.10" y="445.10" font-size="11.6" font-family='"Liberation Serif", serif' fill="#000" textLength="37.90" lengthAdjust="spacingAndGlyphs" stroke="#000" stroke-width="0.25">P&lt;0.001</text>
<text x="362.30" y="473.40" font-size="11.6" font-family='"Liberation Serif", serif' fill="#000" textLength="37.60" lengthAdjust="spacingAndGlyphs" stroke="#000" stroke-width="0.25">P&lt;0.001</text>
<ellipse cx="432.8" cy="315.8" rx="4.0" ry="2.3" fill="none" stroke="#6676c8" stroke-width="1.2"/>
<text x="443.00" y="315.70" font-size="6.2" font-family='"Liberation Sans", sans-serif' fill="#2a2a2a" textLength="15.00" lengthAdjust="spacingAndGlyphs" stroke="#2a2a2a" stroke-width="0.3">OPN</text>
<text x="445.60" y="321.00" font-size="6.2" font-family='"Liberation Sans", sans-serif' fill="#2a2a2a" textLength="31.60" lengthAdjust="spacingAndGlyphs" stroke="#2a2a2a" stroke-width="0.3">BMD.LS</text>
<ellipse cx="432.8" cy="327.8" rx="4.0" ry="2.3" fill="none" stroke="#62bc6c" stroke-width="1.2"/>
<text x="443.00" y="328.00" font-size="6.2" font-family='"Liberation Sans", sans-serif' fill="#2a2a2a" textLength="15.00" lengthAdjust="spacingAndGlyphs" stroke="#2a2a2a" stroke-width="0.3">OPN</text>
<text x="445.60" y="333.70" font-size="6.2" font-family='"Liberation Sans", sans-serif' fill="#2a2a2a" textLength="45.40" lengthAdjust="spacingAndGlyphs" stroke="#2a2a2a" stroke-width="0.3">BMD.Femur</text>
<line x1="424.5" y1="338.9" x2="440.8" y2="342.9" stroke="#5c6cc6" stroke-width="1"/>
<text x="443.00" y="340.50" font-size="6.2" font-family='"Liberation Sans", sans-serif' fill="#2a2a2a" textLength="15.00" lengthAdjust="spacingAndGlyphs" stroke="#2a2a2a" stroke-width="0.3">OPN</text>
<text x="445.60" y="346.00" font-size="6.2" font-family='"Liberation Sans", sans-serif' fill="#2a2a2a" textLength="31.60" lengthAdjust="spacingAndGlyphs" stroke="#2a2a2a" stroke-width="0.3">BMD.LS</text>
<line x1="424.5" y1="351.4" x2="440.8" y2="355.6" stroke="#56b45a" stroke-width="1"/>
<text x="443.00" y="353.30" font-size="6.2" font-family='"Liberation Sans", sans-serif' fill="#2a2a2a" textLength="15.00" lengthAdjust="spacingAndGlyphs" stroke="#2a2a2a" stroke-width="0.3">OPN</text>
<text x="445.60" y="358.50" font-size="6.2" font-family='"Liberation Sans", sans-serif' fill="#2a2a2a" textLength="45.40" lengthAdjust="spacingAndGlyphs" stroke="#2a2a2a" stroke-width="0.3">BMD.Femur</text>
<rect x="63.2" y="615.6" width="364.8" height="232.69999999999993" fill="#f3f3f4"/>
<clipPath id="cc"><rect x="63.2" y="615.6" width="364.8" height="232.69999999999993"/></clipPath>
<g clip-path="url(#cc)">
<ellipse cx="171.1" cy="642.9" rx="2.8" ry="1.85" fill="none" stroke="#7880b4" stroke-width="1.1"/>
<ellipse cx="119.5" cy="658.5" rx="2.8" ry="1.85" fill="none" stroke="#7880b4" stroke-width="1.1"/>
<ellipse cx="182.4" cy="642.4" rx="2.8" ry="1.85" fill="none" stroke="#7880b4" stroke-width="1.1"/>
<ellipse cx="181.7" cy="650.9" rx="2.8" ry="1.85" fill="none" stroke="#7880b4" stroke-width="1.1"/>
<ellipse cx="249.3" cy="675.6" rx="2.8" ry="1.85" fill="none" stroke="#7880b4" stroke-width="1.1"/>
<ellipse cx="187.6" cy="679.6" rx="2.8" ry="1.85" fill="none" stroke="#7880b4" stroke-width="1.1"/>
<ellipse cx="129.2" cy="690.4" rx="2.8" ry="1.85" fill="none" stroke="#7880b4" stroke-width="1.1"/>
<ellipse cx="156.0" cy="686.7" rx="2.8" ry="1.85" fill="none" stroke="#7880b4" stroke-width="1.1"/>
<ellipse cx="172.3" cy="687.4" rx="2.8" ry="1.85" fill="none" stroke="#7880b4" stroke-width="1.1"/>
<ellipse cx="156.7" cy="698.6" rx="2.8" ry="1.85" fill="none" stroke="#7880b4" stroke-width="1.1"/>
<ellipse cx="167.6" cy="697.5" rx="2.8" ry="1.85" fill="none" stroke="#7880b4" stroke-width="1.1"/>
<ellipse cx="124.4" cy="704.1" rx="2.8" ry="1.85" fill="none" stroke="#7880b4" stroke-width="1.1"/>
<ellipse cx="153.7" cy="713.5" rx="2.8" ry="1.85" fill="none" stroke="#7880b4" stroke-width="1.1"/>
<ellipse cx="147.0" cy="716.0" rx="2.8" ry="1.85" fill="none" stroke="#7880b4" stroke-width="1.1"/>
<ellipse cx="170.1" cy="706.0" rx="2.8" ry="1.85" fill="none" stroke="#7880b4" stroke-width="1.1"/>
<ellipse cx="171.6" cy="709.7" rx="2.8" ry="1.85" fill="none" stroke="#7880b4" stroke-width="1.1"/>
<ellipse cx="108.4" cy="719.0" rx="2.8" ry="1.85" fill="none" stroke="#7880b4" stroke-width="1.1"/>
<ellipse cx="110.6" cy="722.4" rx="2.8" ry="1.85" fill="none" stroke="#7880b4" stroke-width="1.1"/>
<ellipse cx="129.2" cy="723.9" rx="2.8" ry="1.85" fill="none" stroke="#7880b4" stroke-width="1.1"/>
<ellipse cx="133.7" cy="723.9" rx="2.8" ry="1.85" fill="none" stroke="#7880b4" stroke-width="1.1"/>
<ellipse cx="160.4" cy="719.4" rx="2.8" ry="1.85" fill="none" stroke="#7880b4" stroke-width="1.1"/>
<ellipse cx="163.4" cy="724.6" rx="2.8" ry="1.85" fill="none" stroke="#7880b4" stroke-width="1.1"/>
<ellipse cx="169.3" cy="721.6" rx="2.8" ry="1.85" fill="none" stroke="#7880b4" stroke-width="1.1"/>
<ellipse cx="158.9" cy="726.8" rx="2.8" ry="1.85" fill="none" stroke="#7880b4" stroke-width="1.1"/>
<ellipse cx="167.9" cy="726.8" rx="2.8" ry="1.85" fill="none" stroke="#7880b4" stroke-width="1.1"/>
<ellipse cx="187.6" cy="680.7" rx="2.8" ry="1.85" fill="none" stroke="#7880b4" stroke-width="1.1"/>
<ellipse cx="180.9" cy="691.2" rx="2.8" ry="1.85" fill="none" stroke="#7880b4" stroke-width="1.1"/>
<ellipse cx="233.7" cy="685.2" rx="2.8" ry="1.85" fill="none" stroke="#7880b4" stroke-width="1.1"/>
<ellipse cx="244.9" cy="683.7" rx="2.8" ry="1.85" fill="none" stroke="#7880b4" stroke-width="1.1"/>
<ellipse cx="250.8" cy="688.2" rx="2.8" ry="1.85" fill="none" stroke="#7880b4" stroke-width="1.1"/>
<ellipse cx="191.4" cy="700.8" rx="2.8" ry="1.85" fill="none" stroke="#7880b4" stroke-width="1.1"/>
<ellipse cx="236.7" cy="694.9" rx="2.8" ry="1.85" fill="none" stroke="#7880b4" stroke-width="1.1"/>
<ellipse cx="244.9" cy="697.1" rx="2.8" ry="1.85" fill="none" stroke="#7880b4" stroke-width="1.1"/>
<ellipse cx="236.0" cy="700.1" rx="2.8" ry="1.85" fill="none" stroke="#7880b4" stroke-width="1.1"/>
<ellipse cx="178.0" cy="708.3" rx="2.8" ry="1.85" fill="none" stroke="#7880b4" stroke-width="1.1"/>
<ellipse cx="189.1" cy="710.5" rx="2.8" ry="1.85" fill="none" stroke="#7880b4" stroke-width="1.1"/>
<ellipse cx="229.3" cy="709.7" rx="2.8" ry="1.85" fill="none" stroke="#7880b4" stroke-width="1.1"/>
<ellipse cx="240.4" cy="710.5" rx="2.8" ry="1.85" fill="none" stroke="#7880b4" stroke-width="1.1"/>
<ellipse cx="253.1" cy="712.7" rx="2.8" ry="1.85" fill="none" stroke="#7880b4" stroke-width="1.1"/>
<ellipse cx="178.0" cy="716.4" rx="2.8" ry="1.85" fill="none" stroke="#7880b4" stroke-width="1.1"/>
<ellipse cx="185.4" cy="717.9" rx="2.8" ry="1.85" fill="none" stroke="#7880b4" stroke-width="1.1"/>
<ellipse cx="207.0" cy="717.2" rx="2.8" ry="1.85" fill="none" stroke="#7880b4" stroke-width="1.1"/>
<ellipse cx="175.7" cy="720.9" rx="2.8" ry="1.85" fill="none" stroke="#7880b4" stroke-width="1.1"/>
<ellipse cx="182.4" cy="724.6" rx="2.8" ry="1.85" fill="none" stroke="#7880b4" stroke-width="1.1"/>
<ellipse cx="200.3" cy="722.4" rx="2.8" ry="1.85" fill="none" stroke="#7880b4" stroke-width="1.1"/>
<ellipse cx="229.3" cy="720.9" rx="2.8" ry="1.85" fill="none" stroke="#7880b4" stroke-width="1.1"/>
<ellipse cx="240.4" cy="720.1" rx="2.8" ry="1.85" fill="none" stroke="#7880b4" stroke-width="1.1"/>
<ellipse cx="236.0" cy="724.6" rx="2.8" ry="1.85" fill="none" stroke="#7880b4" stroke-width="1.1"/>
<ellipse cx="270.6" cy="703.4" rx="2.8" ry="1.85" fill="none" stroke="#7880b4" stroke-width="1.1"/>
<ellipse cx="255.7" cy="712.6" rx="2.8" ry="1.85" fill="none" stroke="#7880b4" stroke-width="1.1"/>
<ellipse cx="288.5" cy="716.4" rx="2.8" ry="1.85" fill="none" stroke="#7880b4" stroke-width="1.1"/>
<ellipse cx="290.7" cy="714.9" rx="2.8" ry="1.85" fill="none" stroke="#7880b4" stroke-width="1.1"/>
<ellipse cx="294.4" cy="719.6" rx="2.8" ry="1.85" fill="none" stroke="#7880b4" stroke-width="1.1"/>
<ellipse cx="310.0" cy="715.6" rx="2.8" ry="1.85" fill="none" stroke="#7880b4" stroke-width="1.1"/>
<ellipse cx="269.9" cy="729.0" rx="2.8" ry="1.85" fill="none" stroke="#7880b4" stroke-width="1.1"/>
<ellipse cx="257.2" cy="733.5" rx="2.8" ry="1.85" fill="none" stroke="#7880b4" stroke-width="1.1"/>
<ellipse cx="294.4" cy="733.0" rx="2.8" ry="1.85" fill="none" stroke="#7880b4" stroke-width="1.1"/>
<ellipse cx="325.6" cy="737.2" rx="2.8" ry="1.85" fill="none" stroke="#7880b4" stroke-width="1.1"/>
<ellipse cx="268.4" cy="741.3" rx="2.8" ry="1.85" fill="none" stroke="#7880b4" stroke-width="1.1"/>
<ellipse cx="278.0" cy="740.4" rx="2.8" ry="1.85" fill="none" stroke="#7880b4" stroke-width="1.1"/>
<ellipse cx="293.4" cy="742.4" rx="2.8" ry="1.85" fill="none" stroke="#7880b4" stroke-width="1.1"/>
<ellipse cx="300.4" cy="741.6" rx="2.8" ry="1.85" fill="none" stroke="#7880b4" stroke-width="1.1"/>
<ellipse cx="312.2" cy="744.3" rx="2.8" ry="1.85" fill="none" stroke="#7880b4" stroke-width="1.1"/>
<ellipse cx="265.4" cy="747.6" rx="2.8" ry="1.85" fill="none" stroke="#7880b4" stroke-width="1.1"/>
<ellipse cx="135.9" cy="734.7" rx="2.8" ry="1.85" fill="none" stroke="#7880b4" stroke-width="1.1"/>
<ellipse cx="153.7" cy="732.5" rx="2.8" ry="1.85" fill="none" stroke="#7880b4" stroke-width="1.1"/>
<ellipse cx="164.9" cy="731.0" rx="2.8" ry="1.85" fill="none" stroke="#7880b4" stroke-width="1.1"/>
<ellipse cx="129.9" cy="742.9" rx="2.8" ry="1.85" fill="none" stroke="#7880b4" stroke-width="1.1"/>
<ellipse cx="144.8" cy="744.4" rx="2.8" ry="1.85" fill="none" stroke="#7880b4" stroke-width="1.1"/>
<ellipse cx="147.8" cy="748.8" rx="2.8" ry="1.85" fill="none" stroke="#7880b4" stroke-width="1.1"/>
<ellipse cx="156.7" cy="738.4" rx="2.8" ry="1.85" fill="none" stroke="#7880b4" stroke-width="1.1"/>
<ellipse cx="162.7" cy="737.7" rx="2.8" ry="1.85" fill="none" stroke="#7880b4" stroke-width="1.1"/>
<ellipse cx="166.4" cy="738.4" rx="2.8" ry="1.85" fill="none" stroke="#7880b4" stroke-width="1.1"/>
<ellipse cx="172.3" cy="738.4" rx="2.8" ry="1.85" fill="none" stroke="#7880b4" stroke-width="1.1"/>
<ellipse cx="164.9" cy="744.4" rx="2.8" ry="1.85" fill="none" stroke="#7880b4" stroke-width="1.1"/>
<ellipse cx="170.8" cy="745.8" rx="2.8" ry="1.85" fill="none" stroke="#7880b4" stroke-width="1.1"/>
<ellipse cx="161.9" cy="754.0" rx="2.8" ry="1.85" fill="none" stroke="#7880b4" stroke-width="1.1"/>
<ellipse cx="167.9" cy="752.5" rx="2.8" ry="1.85" fill="none" stroke="#7880b4" stroke-width="1.1"/>
<ellipse cx="138.9" cy="753.3" rx="2.8" ry="1.85" fill="none" stroke="#7880b4" stroke-width="1.1"/>
<ellipse cx="150.8" cy="757.7" rx="2.8" ry="1.85" fill="none" stroke="#7880b4" stroke-width="1.1"/>
<ellipse cx="133.7" cy="771.1" rx="2.8" ry="1.85" fill="none" stroke="#7880b4" stroke-width="1.1"/>
<ellipse cx="151.5" cy="771.1" rx="2.8" ry="1.85" fill="none" stroke="#7880b4" stroke-width="1.1"/>
<ellipse cx="155.2" cy="773.4" rx="2.8" ry="1.85" fill="none" stroke="#7880b4" stroke-width="1.1"/>
<ellipse cx="172.3" cy="773.4" rx="2.8" ry="1.85" fill="none" stroke="#7880b4" stroke-width="1.1"/>
<ellipse cx="144.1" cy="777.1" rx="2.8" ry="1.85" fill="none" stroke="#7880b4" stroke-width="1.1"/>
<ellipse cx="185.4" cy="731.0" rx="2.8" ry="1.85" fill="none" stroke="#7880b4" stroke-width="1.1"/>
<ellipse cx="219.6" cy="731.0" rx="2.8" ry="1.85" fill="none" stroke="#7880b4" stroke-width="1.1"/>
<ellipse cx="230.0" cy="731.0" rx="2.8" ry="1.85" fill="none" stroke="#7880b4" stroke-width="1.1"/>
<ellipse cx="244.9" cy="731.0" rx="2.8" ry="1.85" fill="none" stroke="#7880b4" stroke-width="1.1"/>
<ellipse cx="250.8" cy="731.0" rx="2.8" ry="1.85" fill="none" stroke="#7880b4" stroke-width="1.1"/>
<ellipse cx="176.5" cy="734.7" rx="2.8" ry="1.85" fill="none" stroke="#7880b4" stroke-width="1.1"/>
<ellipse cx="191.4" cy="734.7" rx="2.8" ry="1.85" fill="none" stroke="#7880b4" stroke-width="1.1"/>
<ellipse cx="216.6" cy="734.7" rx="2.8" ry="1.85" fill="none" stroke="#7880b4" stroke-width="1.1"/>
<ellipse cx="237.5" cy="734.7" rx="2.8" ry="1.85" fill="none" stroke="#7880b4" stroke-width="1.1"/>
<ellipse cx="252.3" cy="734.7" rx="2.8" ry="1.85" fill="none" stroke="#7880b4" stroke-width="1.1"/>
<ellipse cx="181.7" cy="738.4" rx="2.8" ry="1.85" fill="none" stroke="#7880b4" stroke-width="1.1"/>
<ellipse cx="212.2" cy="738.4" rx="2.8" ry="1.85" fill="none" stroke="#7880b4" stroke-width="1.1"/>
<ellipse cx="227.0" cy="738.4" rx="2.8" ry="1.85" fill="none" stroke="#7880b4" stroke-width="1.1"/>
<ellipse cx="240.4" cy="738.4" rx="2.8" ry="1.85" fill="none" stroke="#7880b4" stroke-width="1.1"/>
<ellipse cx="251.6" cy="738.4" rx="2.8" ry="1.85" fill="none" stroke="#7880b4" stroke-width="1.1"/>
<ellipse cx="176.5" cy="742.1" rx="2.8" ry="1.85" fill="none" stroke="#7880b4" stroke-width="1.1"/>
<ellipse cx="197.3" cy="742.1" rx="2.8" ry="1.85" fill="none" stroke="#7880b4" stroke-width="1.1"/>
<ellipse cx="224.1" cy="742.1" rx="2.8" ry="1.85" fill="none" stroke="#7880b4" stroke-width="1.1"/>
<ellipse cx="243.4" cy="742.1" rx="2.8" ry="1.85" fill="none" stroke="#7880b4" stroke-width="1.1"/>
<ellipse cx="179.5" cy="745.8" rx="2.8" ry="1.85" fill="none" stroke="#7880b4" stroke-width="1.1"/>
<ellipse cx="216.6" cy="745.8" rx="2.8" ry="1.85" fill="none" stroke="#7880b4" stroke-width="1.1"/>
<ellipse cx="238.9" cy="745.8" rx="2.8" ry="1.85" fill="none" stroke="#7880b4" stroke-width="1.1"/>
<ellipse cx="252.3" cy="745.8" rx="2.8" ry="1.85" fill="none" stroke="#7880b4" stroke-width="1.1"/>
<ellipse cx="175.7" cy="749.6" rx="2.8" ry="1.85" fill="none" stroke="#7880b4" stroke-width="1.1"/>
<ellipse cx="186.9" cy="749.6" rx="2.8" ry="1.85" fill="none" stroke="#7880b4" stroke-width="1.1"/>
<ellipse cx="219.6" cy="749.6" rx="2.8" ry="1.85" fill="none" stroke="#7880b4" stroke-width="1.1"/>
<ellipse cx="241.9" cy="749.6" rx="2.8" ry="1.85" fill="none" stroke="#7880b4" stroke-width="1.1"/>
<ellipse cx="179.5" cy="753.3" rx="2.8" ry="1.85" fill="none" stroke="#7880b4" stroke-width="1.1"/>
<ellipse cx="189.9" cy="753.3" rx="2.8" ry="1.85" fill="none" stroke="#7880b4" stroke-width="1.1"/>
<ellipse cx="230.0" cy="753.3" rx="2.8" ry="1.85" fill="none" stroke="#7880b4" stroke-width="1.1"/>
<ellipse cx="243.4" cy="753.3" rx="2.8" ry="1.85" fill="none" stroke="#7880b4" stroke-width="1.1"/>
<ellipse cx="249.3" cy="753.3" rx="2.8" ry="1.85" fill="none" stroke="#7880b4" stroke-width="1.1"/>
<ellipse cx="188.4" cy="757.0" rx="2.8" ry="1.85" fill="none" stroke="#7880b4" stroke-width="1.1"/>
<ellipse cx="204.7" cy="757.0" rx="2.8" ry="1.85" fill="none" stroke="#7880b4" stroke-width="1.1"/>
<ellipse cx="237.5" cy="757.0" rx="2.8" ry="1.85" fill="none" stroke="#7880b4" stroke-width="1.1"/>
<ellipse cx="176.5" cy="760.7" rx="2.8" ry="1.85" fill="none" stroke="#7880b4" stroke-width="1.1"/>
<ellipse cx="204.7" cy="760.7" rx="2.8" ry="1.85" fill="none" stroke="#7880b4" stroke-width="1.1"/>
<ellipse cx="227.0" cy="760.7" rx="2.8" ry="1.85" fill="none" stroke="#7880b4" stroke-width="1.1"/>
<ellipse cx="243.4" cy="760.7" rx="2.8" ry="1.85" fill="none" stroke="#7880b4" stroke-width="1.1"/>
<ellipse cx="227.0" cy="764.4" rx="2.8" ry="1.85" fill="none" stroke="#7880b4" stroke-width="1.1"/>
<ellipse cx="240.4" cy="764.4" rx="2.8" ry="1.85" fill="none" stroke="#7880b4" stroke-width="1.1"/>
<ellipse cx="185.4" cy="768.1" rx="2.8" ry="1.85" fill="none" stroke="#7880b4" stroke-width="1.1"/>
<ellipse cx="195.8" cy="768.1" rx="2.8" ry="1.85" fill="none" stroke="#7880b4" stroke-width="1.1"/>
<ellipse cx="207.7" cy="768.1" rx="2.8" ry="1.85" fill="none" stroke="#7880b4" stroke-width="1.1"/>
<ellipse cx="212.2" cy="768.1" rx="2.8" ry="1.85" fill="none" stroke="#7880b4" stroke-width="1.1"/>
<ellipse cx="237.5" cy="768.1" rx="2.8" ry="1.85" fill="none" stroke="#7880b4" stroke-width="1.1"/>
<ellipse cx="250.8" cy="768.1" rx="2.8" ry="1.85" fill="none" stroke="#7880b4" stroke-width="1.1"/>
<ellipse cx="197.3" cy="771.9" rx="2.8" ry="1.85" fill="none" stroke="#7880b4" stroke-width="1.1"/>
<ellipse cx="231.5" cy="771.9" rx="2.8" ry="1.85" fill="none" stroke="#7880b4" stroke-width="1.1"/>
<ellipse cx="246.4" cy="771.9" rx="2.8" ry="1.85" fill="none" stroke="#7880b4" stroke-width="1.1"/>
<ellipse cx="182.4" cy="775.6" rx="2.8" ry="1.85" fill="none" stroke="#7880b4" stroke-width="1.1"/>
<ellipse cx="206.2" cy="775.6" rx="2.8" ry="1.85" fill="none" stroke="#7880b4" stroke-width="1.1"/>
<ellipse cx="236.0" cy="775.6" rx="2.8" ry="1.85" fill="none" stroke="#7880b4" stroke-width="1.1"/>
<ellipse cx="266.2" cy="747.2" rx="2.8" ry="1.85" fill="none" stroke="#7880b4" stroke-width="1.1"/>
<ellipse cx="268.4" cy="753.2" rx="2.8" ry="1.85" fill="none" stroke="#7880b4" stroke-width="1.1"/>
<ellipse cx="280.3" cy="750.9" rx="2.8" ry="1.85" fill="none" stroke="#7880b4" stroke-width="1.1"/>
<ellipse cx="290.7" cy="750.2" rx="2.8" ry="1.85" fill="none" stroke="#7880b4" stroke-width="1.1"/>
<ellipse cx="311.5" cy="745.7" rx="2.8" ry="1.85" fill="none" stroke="#7880b4" stroke-width="1.1"/>
<ellipse cx="333.1" cy="751.7" rx="2.8" ry="1.85" fill="none" stroke="#7880b4" stroke-width="1.1"/>
<ellipse cx="274.3" cy="760.6" rx="2.8" ry="1.85" fill="none" stroke="#7880b4" stroke-width="1.1"/>
<ellipse cx="280.3" cy="760.6" rx="2.8" ry="1.85" fill="none" stroke="#7880b4" stroke-width="1.1"/>
<ellipse cx="299.6" cy="764.3" rx="2.8" ry="1.85" fill="none" stroke="#7880b4" stroke-width="1.1"/>
<ellipse cx="316.0" cy="761.4" rx="2.8" ry="1.85" fill="none" stroke="#7880b4" stroke-width="1.1"/>
<ellipse cx="255.7" cy="760.6" rx="2.8" ry="1.85" fill="none" stroke="#7880b4" stroke-width="1.1"/>
<ellipse cx="276.6" cy="766.6" rx="2.8" ry="1.85" fill="none" stroke="#7880b4" stroke-width="1.1"/>
<ellipse cx="263.9" cy="770.3" rx="2.8" ry="1.85" fill="none" stroke="#7880b4" stroke-width="1.1"/>
<ellipse cx="259.5" cy="771.8" rx="2.8" ry="1.85" fill="none" stroke="#7880b4" stroke-width="1.1"/>
<ellipse cx="328.6" cy="770.3" rx="2.8" ry="1.85" fill="none" stroke="#7880b4" stroke-width="1.1"/>
<ellipse cx="267.6" cy="776.2" rx="2.8" ry="1.85" fill="none" stroke="#7880b4" stroke-width="1.1"/>
<ellipse cx="255.7" cy="781.4" rx="2.8" ry="1.85" fill="none" stroke="#7880b4" stroke-width="1.1"/>
<ellipse cx="268.4" cy="782.9" rx="2.8" ry="1.85" fill="none" stroke="#7880b4" stroke-width="1.1"/>
<ellipse cx="258.0" cy="788.9" rx="2.8" ry="1.85" fill="none" stroke="#7880b4" stroke-width="1.1"/>
<ellipse cx="133.7" cy="771.5" rx="2.8" ry="1.85" fill="none" stroke="#7880b4" stroke-width="1.1"/>
<ellipse cx="130.1" cy="778.3" rx="2.8" ry="1.85" fill="none" stroke="#7880b4" stroke-width="1.1"/>
<ellipse cx="142.0" cy="784.9" rx="2.8" ry="1.85" fill="none" stroke="#7880b4" stroke-width="1.1"/>
<ellipse cx="144.1" cy="777.4" rx="2.8" ry="1.85" fill="none" stroke="#7880b4" stroke-width="1.1"/>
<ellipse cx="160.4" cy="780.4" rx="2.8" ry="1.85" fill="none" stroke="#7880b4" stroke-width="1.1"/>
<ellipse cx="154.5" cy="791.4" rx="2.8" ry="1.85" fill="none" stroke="#7880b4" stroke-width="1.1"/>
<ellipse cx="190.2" cy="781.3" rx="2.8" ry="1.85" fill="none" stroke="#7880b4" stroke-width="1.1"/>
<ellipse cx="184.2" cy="787.2" rx="2.8" ry="1.85" fill="none" stroke="#7880b4" stroke-width="1.1"/>
<ellipse cx="233.3" cy="783.4" rx="2.8" ry="1.85" fill="none" stroke="#7880b4" stroke-width="1.1"/>
<ellipse cx="240.7" cy="783.4" rx="2.8" ry="1.85" fill="none" stroke="#7880b4" stroke-width="1.1"/>
<ellipse cx="230.3" cy="789.3" rx="2.8" ry="1.85" fill="none" stroke="#7880b4" stroke-width="1.1"/>
<ellipse cx="251.1" cy="784.9" rx="2.8" ry="1.85" fill="none" stroke="#7880b4" stroke-width="1.1"/>
<ellipse cx="190.2" cy="771.5" rx="2.8" ry="1.85" fill="none" stroke="#7880b4" stroke-width="1.1"/>
<ellipse cx="197.6" cy="771.5" rx="2.8" ry="1.85" fill="none" stroke="#7880b4" stroke-width="1.1"/>
<ellipse cx="234.8" cy="771.5" rx="2.8" ry="1.85" fill="none" stroke="#7880b4" stroke-width="1.1"/>
<ellipse cx="259.5" cy="771.5" rx="2.8" ry="1.85" fill="none" stroke="#7880b4" stroke-width="1.1"/>
<ellipse cx="327.9" cy="770.0" rx="2.8" ry="1.85" fill="none" stroke="#7880b4" stroke-width="1.1"/>
<ellipse cx="256.5" cy="778.9" rx="2.8" ry="1.85" fill="none" stroke="#7880b4" stroke-width="1.1"/>
<ellipse cx="268.4" cy="782.5" rx="2.8" ry="1.85" fill="none" stroke="#7880b4" stroke-width="1.1"/>
<ellipse cx="258.0" cy="787.8" rx="2.8" ry="1.85" fill="none" stroke="#7880b4" stroke-width="1.1"/>
<ellipse cx="348.1" cy="750.3" rx="2.8" ry="1.85" fill="none" stroke="#7880b4" stroke-width="1.1"/>
<ellipse cx="167.7" cy="737.1" rx="2.8" ry="1.85" fill="none" stroke="#7880b4" stroke-width="1.1"/>
<ellipse cx="141.2" cy="743.5" rx="2.8" ry="1.85" fill="none" stroke="#7880b4" stroke-width="1.1"/>
<ellipse cx="181.3" cy="745.3" rx="2.8" ry="1.85" fill="none" stroke="#7880b4" stroke-width="1.1"/>
<ellipse cx="139.0" cy="733.2" rx="2.8" ry="1.85" fill="none" stroke="#7880b4" stroke-width="1.1"/>
<ellipse cx="157.6" cy="736.7" rx="2.8" ry="1.85" fill="none" stroke="#7880b4" stroke-width="1.1"/>
<ellipse cx="190.6" cy="742.6" rx="2.8" ry="1.85" fill="none" stroke="#7880b4" stroke-width="1.1"/>
<ellipse cx="171.8" cy="742.1" rx="2.8" ry="1.85" fill="none" stroke="#7880b4" stroke-width="1.1"/>
<ellipse cx="236.4" cy="746.2" rx="2.8" ry="1.85" fill="none" stroke="#7880b4" stroke-width="1.1"/>
<ellipse cx="238.0" cy="750.5" rx="2.8" ry="1.85" fill="none" stroke="#7880b4" stroke-width="1.1"/>
<ellipse cx="232.4" cy="749.7" rx="2.8" ry="1.85" fill="none" stroke="#7880b4" stroke-width="1.1"/>
<ellipse cx="244.0" cy="742.4" rx="2.8" ry="1.85" fill="none" stroke="#7880b4" stroke-width="1.1"/>
<ellipse cx="241.2" cy="759.7" rx="2.8" ry="1.85" fill="none" stroke="#7880b4" stroke-width="1.1"/>
<ellipse cx="234.0" cy="762.6" rx="2.8" ry="1.85" fill="none" stroke="#7880b4" stroke-width="1.1"/>
<ellipse cx="238.9" cy="759.1" rx="2.8" ry="1.85" fill="none" stroke="#7880b4" stroke-width="1.1"/>
<ellipse cx="145.3" cy="642.9" rx="2.8" ry="1.85" fill="none" stroke="#72bf82" stroke-width="1.1"/>
<ellipse cx="160.1" cy="650.9" rx="2.8" ry="1.85" fill="none" stroke="#72bf82" stroke-width="1.1"/>
<ellipse cx="146.7" cy="658.5" rx="2.8" ry="1.85" fill="none" stroke="#72bf82" stroke-width="1.1"/>
<ellipse cx="152.7" cy="679.9" rx="2.8" ry="1.85" fill="none" stroke="#72bf82" stroke-width="1.1"/>
<ellipse cx="205.9" cy="642.4" rx="2.8" ry="1.85" fill="none" stroke="#72bf82" stroke-width="1.1"/>
<ellipse cx="203.0" cy="675.6" rx="2.8" ry="1.85" fill="none" stroke="#72bf82" stroke-width="1.1"/>
<ellipse cx="233.0" cy="672.9" rx="2.8" ry="1.85" fill="none" stroke="#72bf82" stroke-width="1.1"/>
<ellipse cx="153.0" cy="680.7" rx="2.8" ry="1.85" fill="none" stroke="#72bf82" stroke-width="1.1"/>
<ellipse cx="147.0" cy="686.7" rx="2.8" ry="1.85" fill="none" stroke="#72bf82" stroke-width="1.1"/>
<ellipse cx="147.0" cy="691.2" rx="2.8" ry="1.85" fill="none" stroke="#72bf82" stroke-width="1.1"/>
<ellipse cx="155.2" cy="690.4" rx="2.8" ry="1.85" fill="none" stroke="#72bf82" stroke-width="1.1"/>
<ellipse cx="112.5" cy="704.1" rx="2.8" ry="1.85" fill="none" stroke="#72bf82" stroke-width="1.1"/>
<ellipse cx="138.4" cy="709.0" rx="2.8" ry="1.85" fill="none" stroke="#72bf82" stroke-width="1.1"/>
<ellipse cx="152.2" cy="709.7" rx="2.8" ry="1.85" fill="none" stroke="#72bf82" stroke-width="1.1"/>
<ellipse cx="160.4" cy="713.5" rx="2.8" ry="1.85" fill="none" stroke="#72bf82" stroke-width="1.1"/>
<ellipse cx="163.4" cy="715.7" rx="2.8" ry="1.85" fill="none" stroke="#72bf82" stroke-width="1.1"/>
<ellipse cx="167.9" cy="717.9" rx="2.8" ry="1.85" fill="none" stroke="#72bf82" stroke-width="1.1"/>
<ellipse cx="173.1" cy="706.8" rx="2.8" ry="1.85" fill="none" stroke="#72bf82" stroke-width="1.1"/>
<ellipse cx="137.8" cy="719.0" rx="2.8" ry="1.85" fill="none" stroke="#72bf82" stroke-width="1.1"/>
<ellipse cx="155.2" cy="719.4" rx="2.8" ry="1.85" fill="none" stroke="#72bf82" stroke-width="1.1"/>
<ellipse cx="157.5" cy="723.1" rx="2.8" ry="1.85" fill="none" stroke="#72bf82" stroke-width="1.1"/>
<ellipse cx="173.8" cy="720.9" rx="2.8" ry="1.85" fill="none" stroke="#72bf82" stroke-width="1.1"/>
<ellipse cx="148.5" cy="726.1" rx="2.8" ry="1.85" fill="none" stroke="#72bf82" stroke-width="1.1"/>
<ellipse cx="172.3" cy="727.6" rx="2.8" ry="1.85" fill="none" stroke="#72bf82" stroke-width="1.1"/>
<ellipse cx="180.9" cy="687.4" rx="2.8" ry="1.85" fill="none" stroke="#72bf82" stroke-width="1.1"/>
<ellipse cx="231.5" cy="684.5" rx="2.8" ry="1.85" fill="none" stroke="#72bf82" stroke-width="1.1"/>
<ellipse cx="238.9" cy="685.9" rx="2.8" ry="1.85" fill="none" stroke="#72bf82" stroke-width="1.1"/>
<ellipse cx="237.5" cy="688.2" rx="2.8" ry="1.85" fill="none" stroke="#72bf82" stroke-width="1.1"/>
<ellipse cx="183.9" cy="697.5" rx="2.8" ry="1.85" fill="none" stroke="#72bf82" stroke-width="1.1"/>
<ellipse cx="196.6" cy="700.8" rx="2.8" ry="1.85" fill="none" stroke="#72bf82" stroke-width="1.1"/>
<ellipse cx="202.5" cy="697.1" rx="2.8" ry="1.85" fill="none" stroke="#72bf82" stroke-width="1.1"/>
<ellipse cx="204.0" cy="699.0" rx="2.8" ry="1.85" fill="none" stroke="#72bf82" stroke-width="1.1"/>
<ellipse cx="210.7" cy="700.1" rx="2.8" ry="1.85" fill="none" stroke="#72bf82" stroke-width="1.1"/>
<ellipse cx="217.4" cy="695.6" rx="2.8" ry="1.85" fill="none" stroke="#72bf82" stroke-width="1.1"/>
<ellipse cx="252.3" cy="703.0" rx="2.8" ry="1.85" fill="none" stroke="#72bf82" stroke-width="1.1"/>
<ellipse cx="176.5" cy="706.0" rx="2.8" ry="1.85" fill="none" stroke="#72bf82" stroke-width="1.1"/>
<ellipse cx="183.2" cy="710.5" rx="2.8" ry="1.85" fill="none" stroke="#72bf82" stroke-width="1.1"/>
<ellipse cx="189.9" cy="707.5" rx="2.8" ry="1.85" fill="none" stroke="#72bf82" stroke-width="1.1"/>
<ellipse cx="202.5" cy="710.5" rx="2.8" ry="1.85" fill="none" stroke="#72bf82" stroke-width="1.1"/>
<ellipse cx="227.0" cy="714.9" rx="2.8" ry="1.85" fill="none" stroke="#72bf82" stroke-width="1.1"/>
<ellipse cx="234.5" cy="713.5" rx="2.8" ry="1.85" fill="none" stroke="#72bf82" stroke-width="1.1"/>
<ellipse cx="188.4" cy="714.9" rx="2.8" ry="1.85" fill="none" stroke="#72bf82" stroke-width="1.1"/>
<ellipse cx="191.4" cy="715.7" rx="2.8" ry="1.85" fill="none" stroke="#72bf82" stroke-width="1.1"/>
<ellipse cx="212.9" cy="717.2" rx="2.8" ry="1.85" fill="none" stroke="#72bf82" stroke-width="1.1"/>
<ellipse cx="218.9" cy="717.2" rx="2.8" ry="1.85" fill="none" stroke="#72bf82" stroke-width="1.1"/>
<ellipse cx="232.2" cy="716.4" rx="2.8" ry="1.85" fill="none" stroke="#72bf82" stroke-width="1.1"/>
<ellipse cx="179.5" cy="724.6" rx="2.8" ry="1.85" fill="none" stroke="#72bf82" stroke-width="1.1"/>
<ellipse cx="204.0" cy="723.9" rx="2.8" ry="1.85" fill="none" stroke="#72bf82" stroke-width="1.1"/>
<ellipse cx="207.7" cy="720.1" rx="2.8" ry="1.85" fill="none" stroke="#72bf82" stroke-width="1.1"/>
<ellipse cx="212.9" cy="720.9" rx="2.8" ry="1.85" fill="none" stroke="#72bf82" stroke-width="1.1"/>
<ellipse cx="212.9" cy="725.4" rx="2.8" ry="1.85" fill="none" stroke="#72bf82" stroke-width="1.1"/>
<ellipse cx="222.6" cy="725.4" rx="2.8" ry="1.85" fill="none" stroke="#72bf82" stroke-width="1.1"/>
<ellipse cx="209.9" cy="727.6" rx="2.8" ry="1.85" fill="none" stroke="#72bf82" stroke-width="1.1"/>
<ellipse cx="255.7" cy="703.0" rx="2.8" ry="1.85" fill="none" stroke="#72bf82" stroke-width="1.1"/>
<ellipse cx="265.4" cy="715.6" rx="2.8" ry="1.85" fill="none" stroke="#72bf82" stroke-width="1.1"/>
<ellipse cx="270.6" cy="719.3" rx="2.8" ry="1.85" fill="none" stroke="#72bf82" stroke-width="1.1"/>
<ellipse cx="299.6" cy="720.8" rx="2.8" ry="1.85" fill="none" stroke="#72bf82" stroke-width="1.1"/>
<ellipse cx="256.5" cy="724.5" rx="2.8" ry="1.85" fill="none" stroke="#72bf82" stroke-width="1.1"/>
<ellipse cx="263.2" cy="734.2" rx="2.8" ry="1.85" fill="none" stroke="#72bf82" stroke-width="1.1"/>
<ellipse cx="283.3" cy="730.5" rx="2.8" ry="1.85" fill="none" stroke="#72bf82" stroke-width="1.1"/>
<ellipse cx="284.7" cy="732.7" rx="2.8" ry="1.85" fill="none" stroke="#72bf82" stroke-width="1.1"/>
<ellipse cx="258.0" cy="741.6" rx="2.8" ry="1.85" fill="none" stroke="#72bf82" stroke-width="1.1"/>
<ellipse cx="144.1" cy="733.9" rx="2.8" ry="1.85" fill="none" stroke="#72bf82" stroke-width="1.1"/>
<ellipse cx="146.3" cy="731.7" rx="2.8" ry="1.85" fill="none" stroke="#72bf82" stroke-width="1.1"/>
<ellipse cx="157.5" cy="731.0" rx="2.8" ry="1.85" fill="none" stroke="#72bf82" stroke-width="1.1"/>
<ellipse cx="169.3" cy="731.7" rx="2.8" ry="1.85" fill="none" stroke="#72bf82" stroke-width="1.1"/>
<ellipse cx="150.8" cy="742.9" rx="2.8" ry="1.85" fill="none" stroke="#72bf82" stroke-width="1.1"/>
<ellipse cx="152.2" cy="739.9" rx="2.8" ry="1.85" fill="none" stroke="#72bf82" stroke-width="1.1"/>
<ellipse cx="160.4" cy="740.6" rx="2.8" ry="1.85" fill="none" stroke="#72bf82" stroke-width="1.1"/>
<ellipse cx="170.1" cy="741.4" rx="2.8" ry="1.85" fill="none" stroke="#72bf82" stroke-width="1.1"/>
<ellipse cx="158.9" cy="744.4" rx="2.8" ry="1.85" fill="none" stroke="#72bf82" stroke-width="1.1"/>
<ellipse cx="153.7" cy="752.5" rx="2.8" ry="1.85" fill="none" stroke="#72bf82" stroke-width="1.1"/>
<ellipse cx="157.5" cy="750.3" rx="2.8" ry="1.85" fill="none" stroke="#72bf82" stroke-width="1.1"/>
<ellipse cx="164.9" cy="750.3" rx="2.8" ry="1.85" fill="none" stroke="#72bf82" stroke-width="1.1"/>
<ellipse cx="170.8" cy="750.3" rx="2.8" ry="1.85" fill="none" stroke="#72bf82" stroke-width="1.1"/>
<ellipse cx="142.6" cy="752.5" rx="2.8" ry="1.85" fill="none" stroke="#72bf82" stroke-width="1.1"/>
<ellipse cx="145.6" cy="760.0" rx="2.8" ry="1.85" fill="none" stroke="#72bf82" stroke-width="1.1"/>
<ellipse cx="173.1" cy="762.9" rx="2.8" ry="1.85" fill="none" stroke="#72bf82" stroke-width="1.1"/>
<ellipse cx="159.7" cy="768.9" rx="2.8" ry="1.85" fill="none" stroke="#72bf82" stroke-width="1.1"/>
<ellipse cx="164.9" cy="772.6" rx="2.8" ry="1.85" fill="none" stroke="#72bf82" stroke-width="1.1"/>
<ellipse cx="169.3" cy="768.9" rx="2.8" ry="1.85" fill="none" stroke="#72bf82" stroke-width="1.1"/>
<ellipse cx="152.2" cy="776.3" rx="2.8" ry="1.85" fill="none" stroke="#72bf82" stroke-width="1.1"/>
<ellipse cx="180.9" cy="731.0" rx="2.8" ry="1.85" fill="none" stroke="#72bf82" stroke-width="1.1"/>
<ellipse cx="198.8" cy="731.0" rx="2.8" ry="1.85" fill="none" stroke="#72bf82" stroke-width="1.1"/>
<ellipse cx="204.7" cy="731.0" rx="2.8" ry="1.85" fill="none" stroke="#72bf82" stroke-width="1.1"/>
<ellipse cx="212.2" cy="731.0" rx="2.8" ry="1.85" fill="none" stroke="#72bf82" stroke-width="1.1"/>
<ellipse cx="224.1" cy="731.0" rx="2.8" ry="1.85" fill="none" stroke="#72bf82" stroke-width="1.1"/>
<ellipse cx="236.0" cy="731.0" rx="2.8" ry="1.85" fill="none" stroke="#72bf82" stroke-width="1.1"/>
<ellipse cx="182.4" cy="734.7" rx="2.8" ry="1.85" fill="none" stroke="#72bf82" stroke-width="1.1"/>
<ellipse cx="195.8" cy="734.7" rx="2.8" ry="1.85" fill="none" stroke="#72bf82" stroke-width="1.1"/>
<ellipse cx="203.3" cy="734.7" rx="2.8" ry="1.85" fill="none" stroke="#72bf82" stroke-width="1.1"/>
<ellipse cx="209.2" cy="734.7" rx="2.8" ry="1.85" fill="none" stroke="#72bf82" stroke-width="1.1"/>
<ellipse cx="222.6" cy="734.7" rx="2.8" ry="1.85" fill="none" stroke="#72bf82" stroke-width="1.1"/>
<ellipse cx="233.0" cy="734.7" rx="2.8" ry="1.85" fill="none" stroke="#72bf82" stroke-width="1.1"/>
<ellipse cx="241.9" cy="734.7" rx="2.8" ry="1.85" fill="none" stroke="#72bf82" stroke-width="1.1"/>
<ellipse cx="178.0" cy="738.4" rx="2.8" ry="1.85" fill="none" stroke="#72bf82" stroke-width="1.1"/>
<ellipse cx="186.9" cy="738.4" rx="2.8" ry="1.85" fill="none" stroke="#72bf82" stroke-width="1.1"/>
<ellipse cx="192.8" cy="738.4" rx="2.8" ry="1.85" fill="none" stroke="#72bf82" stroke-width="1.1"/>
<ellipse cx="200.3" cy="738.4" rx="2.8" ry="1.85" fill="none" stroke="#72bf82" stroke-width="1.1"/>
<ellipse cx="206.2" cy="738.4" rx="2.8" ry="1.85" fill="none" stroke="#72bf82" stroke-width="1.1"/>
<ellipse cx="219.6" cy="738.4" rx="2.8" ry="1.85" fill="none" stroke="#72bf82" stroke-width="1.1"/>
<ellipse cx="233.0" cy="738.4" rx="2.8" ry="1.85" fill="none" stroke="#72bf82" stroke-width="1.1"/>
<ellipse cx="246.4" cy="738.4" rx="2.8" ry="1.85" fill="none" stroke="#72bf82" stroke-width="1.1"/>
<ellipse cx="183.2" cy="742.1" rx="2.8" ry="1.85" fill="none" stroke="#72bf82" stroke-width="1.1"/>
<ellipse cx="189.9" cy="742.1" rx="2.8" ry="1.85" fill="none" stroke="#72bf82" stroke-width="1.1"/>
<ellipse cx="204.7" cy="742.1" rx="2.8" ry="1.85" fill="none" stroke="#72bf82" stroke-width="1.1"/>
<ellipse cx="212.2" cy="742.1" rx="2.8" ry="1.85" fill="none" stroke="#72bf82" stroke-width="1.1"/>
<ellipse cx="218.1" cy="742.1" rx="2.8" ry="1.85" fill="none" stroke="#72bf82" stroke-width="1.1"/>
<ellipse cx="230.0" cy="742.1" rx="2.8" ry="1.85" fill="none" stroke="#72bf82" stroke-width="1.1"/>
<ellipse cx="237.5" cy="742.1" rx="2.8" ry="1.85" fill="none" stroke="#72bf82" stroke-width="1.1"/>
<ellipse cx="249.3" cy="742.1" rx="2.8" ry="1.85" fill="none" stroke="#72bf82" stroke-width="1.1"/>
<ellipse cx="185.4" cy="745.8" rx="2.8" ry="1.85" fill="none" stroke="#72bf82" stroke-width="1.1"/>
<ellipse cx="203.3" cy="745.8" rx="2.8" ry="1.85" fill="none" stroke="#72bf82" stroke-width="1.1"/>
<ellipse cx="209.2" cy="745.8" rx="2.8" ry="1.85" fill="none" stroke="#72bf82" stroke-width="1.1"/>
<ellipse cx="225.6" cy="745.8" rx="2.8" ry="1.85" fill="none" stroke="#72bf82" stroke-width="1.1"/>
<ellipse cx="233.0" cy="745.8" rx="2.8" ry="1.85" fill="none" stroke="#72bf82" stroke-width="1.1"/>
<ellipse cx="244.9" cy="745.8" rx="2.8" ry="1.85" fill="none" stroke="#72bf82" stroke-width="1.1"/>
<ellipse cx="180.9" cy="749.6" rx="2.8" ry="1.85" fill="none" stroke="#72bf82" stroke-width="1.1"/>
<ellipse cx="195.8" cy="749.6" rx="2.8" ry="1.85" fill="none" stroke="#72bf82" stroke-width="1.1"/>
<ellipse cx="206.2" cy="749.6" rx="2.8" ry="1.85" fill="none" stroke="#72bf82" stroke-width="1.1"/>
<ellipse cx="227.0" cy="749.6" rx="2.8" ry="1.85" fill="none" stroke="#72bf82" stroke-width="1.1"/>
<ellipse cx="234.5" cy="749.6" rx="2.8" ry="1.85" fill="none" stroke="#72bf82" stroke-width="1.1"/>
<ellipse cx="247.9" cy="749.6" rx="2.8" ry="1.85" fill="none" stroke="#72bf82" stroke-width="1.1"/>
<ellipse cx="198.8" cy="753.3" rx="2.8" ry="1.85" fill="none" stroke="#72bf82" stroke-width="1.1"/>
<ellipse cx="204.7" cy="753.3" rx="2.8" ry="1.85" fill="none" stroke="#72bf82" stroke-width="1.1"/>
<ellipse cx="210.7" cy="753.3" rx="2.8" ry="1.85" fill="none" stroke="#72bf82" stroke-width="1.1"/>
<ellipse cx="224.1" cy="753.3" rx="2.8" ry="1.85" fill="none" stroke="#72bf82" stroke-width="1.1"/>
<ellipse cx="236.0" cy="753.3" rx="2.8" ry="1.85" fill="none" stroke="#72bf82" stroke-width="1.1"/>
<ellipse cx="180.9" cy="757.0" rx="2.8" ry="1.85" fill="none" stroke="#72bf82" stroke-width="1.1"/>
<ellipse cx="201.8" cy="757.0" rx="2.8" ry="1.85" fill="none" stroke="#72bf82" stroke-width="1.1"/>
<ellipse cx="218.1" cy="757.0" rx="2.8" ry="1.85" fill="none" stroke="#72bf82" stroke-width="1.1"/>
<ellipse cx="231.5" cy="757.0" rx="2.8" ry="1.85" fill="none" stroke="#72bf82" stroke-width="1.1"/>
<ellipse cx="244.9" cy="757.0" rx="2.8" ry="1.85" fill="none" stroke="#72bf82" stroke-width="1.1"/>
<ellipse cx="182.4" cy="760.7" rx="2.8" ry="1.85" fill="none" stroke="#72bf82" stroke-width="1.1"/>
<ellipse cx="194.3" cy="760.7" rx="2.8" ry="1.85" fill="none" stroke="#72bf82" stroke-width="1.1"/>
<ellipse cx="219.6" cy="760.7" rx="2.8" ry="1.85" fill="none" stroke="#72bf82" stroke-width="1.1"/>
<ellipse cx="236.0" cy="760.7" rx="2.8" ry="1.85" fill="none" stroke="#72bf82" stroke-width="1.1"/>
<ellipse cx="252.3" cy="760.7" rx="2.8" ry="1.85" fill="none" stroke="#72bf82" stroke-width="1.1"/>
<ellipse cx="180.9" cy="764.4" rx="2.8" ry="1.85" fill="none" stroke="#72bf82" stroke-width="1.1"/>
<ellipse cx="192.8" cy="764.4" rx="2.8" ry="1.85" fill="none" stroke="#72bf82" stroke-width="1.1"/>
<ellipse cx="197.3" cy="764.4" rx="2.8" ry="1.85" fill="none" stroke="#72bf82" stroke-width="1.1"/>
<ellipse cx="234.5" cy="764.4" rx="2.8" ry="1.85" fill="none" stroke="#72bf82" stroke-width="1.1"/>
<ellipse cx="249.3" cy="764.4" rx="2.8" ry="1.85" fill="none" stroke="#72bf82" stroke-width="1.1"/>
<ellipse cx="189.9" cy="768.1" rx="2.8" ry="1.85" fill="none" stroke="#72bf82" stroke-width="1.1"/>
<ellipse cx="222.6" cy="768.1" rx="2.8" ry="1.85" fill="none" stroke="#72bf82" stroke-width="1.1"/>
<ellipse cx="231.5" cy="768.1" rx="2.8" ry="1.85" fill="none" stroke="#72bf82" stroke-width="1.1"/>
<ellipse cx="186.9" cy="771.9" rx="2.8" ry="1.85" fill="none" stroke="#72bf82" stroke-width="1.1"/>
<ellipse cx="219.6" cy="771.9" rx="2.8" ry="1.85" fill="none" stroke="#72bf82" stroke-width="1.1"/>
<ellipse cx="237.5" cy="771.9" rx="2.8" ry="1.85" fill="none" stroke="#72bf82" stroke-width="1.1"/>
<ellipse cx="189.9" cy="775.6" rx="2.8" ry="1.85" fill="none" stroke="#72bf82" stroke-width="1.1"/>
<ellipse cx="210.7" cy="775.6" rx="2.8" ry="1.85" fill="none" stroke="#72bf82" stroke-width="1.1"/>
<ellipse cx="225.6" cy="775.6" rx="2.8" ry="1.85" fill="none" stroke="#72bf82" stroke-width="1.1"/>
<ellipse cx="249.3" cy="775.6" rx="2.8" ry="1.85" fill="none" stroke="#72bf82" stroke-width="1.1"/>
<ellipse cx="259.5" cy="750.2" rx="2.8" ry="1.85" fill="none" stroke="#72bf82" stroke-width="1.1"/>
<ellipse cx="272.8" cy="750.2" rx="2.8" ry="1.85" fill="none" stroke="#72bf82" stroke-width="1.1"/>
<ellipse cx="315.2" cy="750.2" rx="2.8" ry="1.85" fill="none" stroke="#72bf82" stroke-width="1.1"/>
<ellipse cx="304.8" cy="756.2" rx="2.8" ry="1.85" fill="none" stroke="#72bf82" stroke-width="1.1"/>
<ellipse cx="261.7" cy="759.9" rx="2.8" ry="1.85" fill="none" stroke="#72bf82" stroke-width="1.1"/>
<ellipse cx="266.9" cy="765.8" rx="2.8" ry="1.85" fill="none" stroke="#72bf82" stroke-width="1.1"/>
<ellipse cx="258.0" cy="769.5" rx="2.8" ry="1.85" fill="none" stroke="#72bf82" stroke-width="1.1"/>
<ellipse cx="272.8" cy="770.3" rx="2.8" ry="1.85" fill="none" stroke="#72bf82" stroke-width="1.1"/>
<ellipse cx="278.8" cy="770.6" rx="2.8" ry="1.85" fill="none" stroke="#72bf82" stroke-width="1.1"/>
<ellipse cx="293.7" cy="772.5" rx="2.8" ry="1.85" fill="none" stroke="#72bf82" stroke-width="1.1"/>
<ellipse cx="260.9" cy="777.7" rx="2.8" ry="1.85" fill="none" stroke="#72bf82" stroke-width="1.1"/>
<ellipse cx="255.7" cy="785.1" rx="2.8" ry="1.85" fill="none" stroke="#72bf82" stroke-width="1.1"/>
<ellipse cx="277.3" cy="788.9" rx="2.8" ry="1.85" fill="none" stroke="#72bf82" stroke-width="1.1"/>
<ellipse cx="130.1" cy="784.9" rx="2.8" ry="1.85" fill="none" stroke="#72bf82" stroke-width="1.1"/>
<ellipse cx="153.0" cy="778.9" rx="2.8" ry="1.85" fill="none" stroke="#72bf82" stroke-width="1.1"/>
<ellipse cx="173.8" cy="775.9" rx="2.8" ry="1.85" fill="none" stroke="#72bf82" stroke-width="1.1"/>
<ellipse cx="178.3" cy="781.3" rx="2.8" ry="1.85" fill="none" stroke="#72bf82" stroke-width="1.1"/>
<ellipse cx="175.3" cy="787.2" rx="2.8" ry="1.85" fill="none" stroke="#72bf82" stroke-width="1.1"/>
<ellipse cx="193.1" cy="791.4" rx="2.8" ry="1.85" fill="none" stroke="#72bf82" stroke-width="1.1"/>
<ellipse cx="200.6" cy="789.3" rx="2.8" ry="1.85" fill="none" stroke="#72bf82" stroke-width="1.1"/>
<ellipse cx="215.4" cy="781.9" rx="2.8" ry="1.85" fill="none" stroke="#72bf82" stroke-width="1.1"/>
<ellipse cx="225.9" cy="783.4" rx="2.8" ry="1.85" fill="none" stroke="#72bf82" stroke-width="1.1"/>
<ellipse cx="237.8" cy="789.3" rx="2.8" ry="1.85" fill="none" stroke="#72bf82" stroke-width="1.1"/>
<ellipse cx="251.1" cy="778.9" rx="2.8" ry="1.85" fill="none" stroke="#72bf82" stroke-width="1.1"/>
<ellipse cx="163.4" cy="771.5" rx="2.8" ry="1.85" fill="none" stroke="#72bf82" stroke-width="1.1"/>
<ellipse cx="169.3" cy="773.0" rx="2.8" ry="1.85" fill="none" stroke="#72bf82" stroke-width="1.1"/>
<ellipse cx="225.9" cy="771.5" rx="2.8" ry="1.85" fill="none" stroke="#72bf82" stroke-width="1.1"/>
<ellipse cx="266.9" cy="771.5" rx="2.8" ry="1.85" fill="none" stroke="#72bf82" stroke-width="1.1"/>
<ellipse cx="275.8" cy="770.0" rx="2.8" ry="1.85" fill="none" stroke="#72bf82" stroke-width="1.1"/>
<ellipse cx="293.7" cy="772.4" rx="2.8" ry="1.85" fill="none" stroke="#72bf82" stroke-width="1.1"/>
<ellipse cx="260.9" cy="777.4" rx="2.8" ry="1.85" fill="none" stroke="#72bf82" stroke-width="1.1"/>
<ellipse cx="277.3" cy="788.4" rx="2.8" ry="1.85" fill="none" stroke="#72bf82" stroke-width="1.1"/>
<ellipse cx="348.6" cy="764.8" rx="2.8" ry="1.85" fill="none" stroke="#72bf82" stroke-width="1.1"/>
<ellipse cx="345.5" cy="764.8" rx="2.8" ry="1.85" fill="none" stroke="#72bf82" stroke-width="1.1"/>
<ellipse cx="387.5" cy="770.9" rx="2.8" ry="1.85" fill="none" stroke="#72bf82" stroke-width="1.1"/>
<ellipse cx="178.4" cy="740.0" rx="2.8" ry="1.85" fill="none" stroke="#72bf82" stroke-width="1.1"/>
<ellipse cx="150.0" cy="743.4" rx="2.8" ry="1.85" fill="none" stroke="#72bf82" stroke-width="1.1"/>
<ellipse cx="137.2" cy="734.2" rx="2.8" ry="1.85" fill="none" stroke="#72bf82" stroke-width="1.1"/>
<ellipse cx="151.0" cy="726.9" rx="2.8" ry="1.85" fill="none" stroke="#72bf82" stroke-width="1.1"/>
<ellipse cx="143.9" cy="746.9" rx="2.8" ry="1.85" fill="none" stroke="#72bf82" stroke-width="1.1"/>
<ellipse cx="146.3" cy="744.0" rx="2.8" ry="1.85" fill="none" stroke="#72bf82" stroke-width="1.1"/>
<ellipse cx="192.7" cy="736.0" rx="2.8" ry="1.85" fill="none" stroke="#72bf82" stroke-width="1.1"/>
<ellipse cx="139.2" cy="745.0" rx="2.8" ry="1.85" fill="none" stroke="#72bf82" stroke-width="1.1"/>
<ellipse cx="183.8" cy="730.6" rx="2.8" ry="1.85" fill="none" stroke="#72bf82" stroke-width="1.1"/>
<ellipse cx="165.6" cy="744.2" rx="2.8" ry="1.85" fill="none" stroke="#72bf82" stroke-width="1.1"/>
<ellipse cx="192.4" cy="745.5" rx="2.8" ry="1.85" fill="none" stroke="#72bf82" stroke-width="1.1"/>
<ellipse cx="232.9" cy="744.9" rx="2.8" ry="1.85" fill="none" stroke="#72bf82" stroke-width="1.1"/>
<ellipse cx="249.9" cy="742.8" rx="2.8" ry="1.85" fill="none" stroke="#72bf82" stroke-width="1.1"/>
<ellipse cx="225.5" cy="753.7" rx="2.8" ry="1.85" fill="none" stroke="#72bf82" stroke-width="1.1"/>
<ellipse cx="243.2" cy="737.3" rx="2.8" ry="1.85" fill="none" stroke="#72bf82" stroke-width="1.1"/>
<ellipse cx="227.6" cy="741.5" rx="2.8" ry="1.85" fill="none" stroke="#72bf82" stroke-width="1.1"/>
<ellipse cx="225.8" cy="732.2" rx="2.8" ry="1.85" fill="none" stroke="#72bf82" stroke-width="1.1"/>
<ellipse cx="233.1" cy="738.2" rx="2.8" ry="1.85" fill="none" stroke="#72bf82" stroke-width="1.1"/>
<line x1="63.5" y1="726.2" x2="427.5" y2="761.7" stroke="#8a90c4" stroke-width="1"/>
<line x1="63.5" y1="717.8" x2="427.5" y2="776.6" stroke="#90cc90" stroke-width="1"/>
</g>
<line x1="427.05" y1="615" x2="427.05" y2="848.5" stroke="#fbfbfd" stroke-width="1"/>
<line x1="63.2" y1="847.35" x2="428.2" y2="847.35" stroke="#f8f8fc" stroke-width="1"/>
<line x1="62.550000000000004" y1="615" x2="428.84999999999997" y2="615" stroke="#909090" stroke-width="1.3"/>
<line x1="62.550000000000004" y1="848.5" x2="428.84999999999997" y2="848.5" stroke="#808080" stroke-width="1.3"/>
<line x1="63.2" y1="614.35" x2="63.2" y2="849.15" stroke="#777777" stroke-width="1.3"/>
<line x1="428.2" y1="614.35" x2="428.2" y2="849.15" stroke="#777777" stroke-width="1.3"/>
<line x1="57.2" y1="626.8599999999999" x2="63.2" y2="626.8599999999999" stroke="#555" stroke-width="0.9"/>
<text x="28.60" y="629.90" font-size="6.0" font-family='"Liberation Sans", sans-serif' fill="#2a2a2a" textLength="27.80" lengthAdjust="spacingAndGlyphs" stroke="#2a2a2a" stroke-width="0.3">400.00</text>
<line x1="57.2" y1="679.4699999999999" x2="63.2" y2="679.4699999999999" stroke="#555" stroke-width="0.9"/>
<text x="28.60" y="682.40" font-size="6.0" font-family='"Liberation Sans", sans-serif' fill="#2a2a2a" textLength="27.80" lengthAdjust="spacingAndGlyphs" stroke="#2a2a2a" stroke-width="0.3">300.00</text>
<line x1="57.2" y1="732.0799999999999" x2="63.2" y2="732.0799999999999" stroke="#555" stroke-width="0.9"/>
<text x="28.60" y="735.10" font-size="6.0" font-family='"Liberation Sans", sans-serif' fill="#2a2a2a" textLength="27.80" lengthAdjust="spacingAndGlyphs" stroke="#2a2a2a" stroke-width="0.3">200.00</text>
<line x1="57.2" y1="784.6899999999999" x2="63.2" y2="784.6899999999999" stroke="#555" stroke-width="0.9"/>
<text x="28.60" y="787.70" font-size="6.0" font-family='"Liberation Sans", sans-serif' fill="#2a2a2a" textLength="27.80" lengthAdjust="spacingAndGlyphs" stroke="#2a2a2a" stroke-width="0.3">100.00</text>
<line x1="57.2" y1="837.3" x2="63.2" y2="837.3" stroke="#555" stroke-width="0.9"/>
<text x="43.76" y="840.40" font-size="6.0" font-family='"Liberation Sans", sans-serif' fill="#2a2a2a" textLength="12.64" lengthAdjust="spacingAndGlyphs" stroke="#2a2a2a" stroke-width="0.3">.00</text>
<line x1="108.4" y1="848.3" x2="108.4" y2="851.8" stroke="#555" stroke-width="0.9"/>
<text x="102.56" y="857.80" font-size="6.0" font-family='"Liberation Sans", sans-serif' fill="#2a2a2a" textLength="12.29" lengthAdjust="spacingAndGlyphs" stroke="#2a2a2a" stroke-width="0.3">.50</text>
<line x1="176.95" y1="848.3" x2="176.95" y2="851.8" stroke="#555" stroke-width="0.9"/>
<text x="171.11" y="857.80" font-size="6.0" font-family='"Liberation Sans", sans-serif' fill="#2a2a2a" textLength="12.29" lengthAdjust="spacingAndGlyphs" stroke="#2a2a2a" stroke-width="0.3">.75</text>
<line x1="245.5" y1="848.3" x2="245.5" y2="851.8" stroke="#555" stroke-width="0.9"/>
<text x="237.20" y="857.80" font-size="6.0" font-family='"Liberation Sans", sans-serif' fill="#2a2a2a" textLength="17.20" lengthAdjust="spacingAndGlyphs" stroke="#2a2a2a" stroke-width="0.3">1.00</text>
<line x1="314.05" y1="848.3" x2="314.05" y2="851.8" stroke="#555" stroke-width="0.9"/>
<text x="305.75" y="857.80" font-size="6.0" font-family='"Liberation Sans", sans-serif' fill="#2a2a2a" textLength="17.20" lengthAdjust="spacingAndGlyphs" stroke="#2a2a2a" stroke-width="0.3">1.25</text>
<line x1="382.6" y1="848.3" x2="382.6" y2="851.8" stroke="#555" stroke-width="0.9"/>
<text x="374.30" y="857.80" font-size="6.0" font-family='"Liberation Sans", sans-serif' fill="#2a2a2a" textLength="17.20" lengthAdjust="spacingAndGlyphs" stroke="#2a2a2a" stroke-width="0.3">1.50</text>
<rect x="1" y="700" width="34.6" height="60" fill="#fff"/>
<rect x="1" y="760" width="33.4" height="35" fill="#fff"/>
<text x="200.10" y="885.90" font-size="12.6" font-family='"Liberation Serif", serif' fill="#111" textLength="84.60" lengthAdjust="spacingAndGlyphs">BMD-LS &amp; FN</text>
<g transform="translate(22.3,757.2) rotate(-90)"><text x="0.00" y="0.00" font-size="15" font-family='"Liberation Serif", serif' fill="#111" textLength="27.50" lengthAdjust="spacingAndGlyphs">ALP</text></g>
<text x="334.70" y="760.70" font-size="11.6" font-family='"Liberation Serif", serif' fill="#000" textLength="38.50" lengthAdjust="spacingAndGlyphs" stroke="#000" stroke-width="0.25">P=0.007</text>
<text x="364.60" y="780.70" font-size="11.6" font-family='"Liberation Serif", serif' fill="#000" textLength="37.20" lengthAdjust="spacingAndGlyphs" stroke="#000" stroke-width="0.25">P&lt;0.001</text>
<ellipse cx="437.3" cy="620.6" rx="4.0" ry="2.3" fill="none" stroke="#6a76b8" stroke-width="1.2"/>
<text x="447.50" y="621.60" font-size="5.7" font-family='"Liberation Sans", sans-serif' fill="#2a2a2a" textLength="75.20" lengthAdjust="spacingAndGlyphs" stroke="#2a2a2a" stroke-width="0.3">Alkalinphosphatas</text>
<text x="450.00" y="626.30" font-size="5.7" font-family='"Liberation Sans", sans-serif' fill="#2a2a2a" textLength="31.20" lengthAdjust="spacingAndGlyphs" stroke="#2a2a2a" stroke-width="0.3">BMD.LS</text>
<ellipse cx="437.3" cy="632.5" rx="4.0" ry="2.3" fill="none" stroke="#7cc47c" stroke-width="1.2"/>
<text x="447.50" y="633.40" font-size="5.7" font-family='"Liberation Sans", sans-serif' fill="#2a2a2a" textLength="75.20" lengthAdjust="spacingAndGlyphs" stroke="#2a2a2a" stroke-width="0.3">Alkalinphosphatas</text>
<text x="450.00" y="638.00" font-size="5.7" font-family='"Liberation Sans", sans-serif' fill="#2a2a2a" textLength="46.60" lengthAdjust="spacingAndGlyphs" stroke="#2a2a2a" stroke-width="0.3">BMD.Femur</text>
<line x1="428" y1="642.7" x2="445.4" y2="646.8" stroke="#7d86c0" stroke-width="1"/>
<text x="447.50" y="645.20" font-size="5.7" font-family='"Liberation Sans", sans-serif' fill="#2a2a2a" textLength="75.20" lengthAdjust="spacingAndGlyphs" stroke="#2a2a2a" stroke-width="0.3">Alkalinphosphatas</text>
<text x="450.00" y="649.50" font-size="5.7" font-family='"Liberation Sans", sans-serif' fill="#2a2a2a" textLength="31.20" lengthAdjust="spacingAndGlyphs" stroke="#2a2a2a" stroke-width="0.3">BMD.LS</text>
<line x1="428" y1="654" x2="445.4" y2="658.7" stroke="#86c886" stroke-width="1"/>
<text x="447.50" y="657.40" font-size="5.7" font-family='"Liberation Sans", sans-serif' fill="#2a2a2a" textLength="75.20" lengthAdjust="spacingAndGlyphs" stroke="#2a2a2a" stroke-width="0.3">Alkalinphosphatas</text>
<text x="450.00" y="662.00" font-size="5.7" font-family='"Liberation Sans", sans-serif' fill="#2a2a2a" textLength="46.60" lengthAdjust="spacingAndGlyphs" stroke="#2a2a2a" stroke-width="0.3">BMD.Femur</text>
<rect x="0" y="263.2" width="19" height="19.3" fill="#1e1b1b"/>
<text x="4.70" y="277.60" font-size="18.3" font-family='"Liberation Sans", sans-serif' fill="#fff">a</text>
<rect x="0" y="573.1" width="19" height="18.8" fill="#1e1b1b"/>
<text x="4.70" y="588.60" font-size="18.3" font-family='"Liberation Sans", sans-serif' fill="#fff">b</text>
<rect x="0" y="876.7" width="19" height="19.3" fill="#1e1b1b"/>
<text x="4.70" y="891.10" font-size="18.3" font-family='"Liberation Sans", sans-serif' fill="#fff">c</text>
<rect x="0.6" y="0.6" width="536.8" height="894.8" fill="none" stroke="#4d494b" stroke-width="1.2"/></g></svg>
</body></html>
